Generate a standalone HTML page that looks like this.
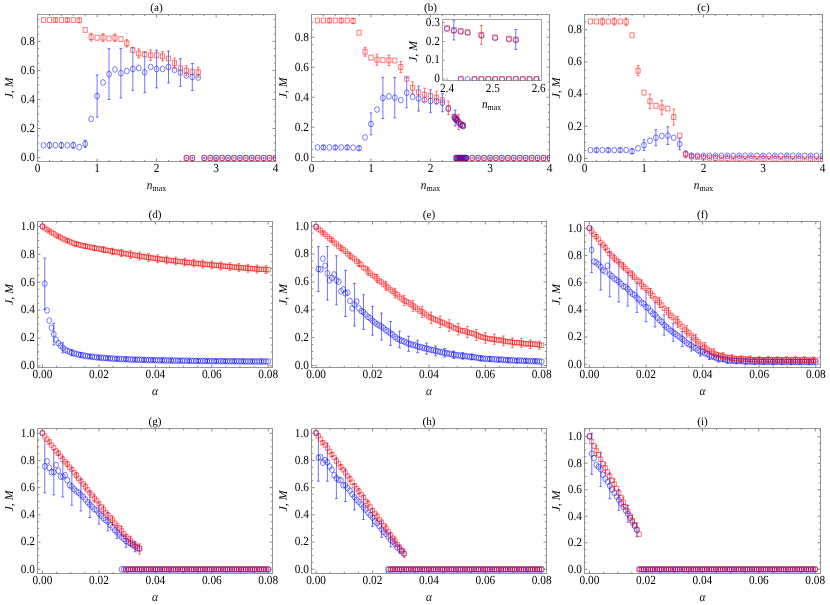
<!DOCTYPE html>
<html><head><meta charset="utf-8"><title>J, M plots</title>
<style>
html,body{margin:0;padding:0;background:#fff;}
svg{display:block;will-change:transform;}
svg text{font-family:"Liberation Serif",serif;fill:#000;text-rendering:geometricPrecision;}
</style></head><body>
<svg width="830" height="605" viewBox="0 0 830 605">
<rect width="830" height="605" fill="#fff"/>
<clipPath id="c1"><rect x="37.5" y="14.5" width="238" height="147"/></clipPath>
<rect x="37.5" y="14.5" width="238" height="147" fill="none" stroke="#949494" stroke-width="1"/>
<path d="M49.5 161.5v-1.7M49.5 14.5v1.7M61.4 161.5v-1.7M61.4 14.5v1.7M73.3 161.5v-1.7M73.3 14.5v1.7M85.2 161.5v-1.7M85.2 14.5v1.7M109 161.5v-1.7M109 14.5v1.7M120.9 161.5v-1.7M120.9 14.5v1.7M132.8 161.5v-1.7M132.8 14.5v1.7M144.7 161.5v-1.7M144.7 14.5v1.7M168.5 161.5v-1.7M168.5 14.5v1.7M180.4 161.5v-1.7M180.4 14.5v1.7M192.3 161.5v-1.7M192.3 14.5v1.7M204.2 161.5v-1.7M204.2 14.5v1.7M228 161.5v-1.7M228 14.5v1.7M239.9 161.5v-1.7M239.9 14.5v1.7M251.8 161.5v-1.7M251.8 14.5v1.7M263.7 161.5v-1.7M263.7 14.5v1.7M37.6 161.5v-2.9M37.6 14.5v2.9M97.1 161.5v-2.9M97.1 14.5v2.9M156.6 161.5v-2.9M156.6 14.5v2.9M216.1 161.5v-2.9M216.1 14.5v2.9M275.6 161.5v-2.9M275.6 14.5v2.9" stroke="#888888" stroke-width="1" fill="none"/>
<text transform="translate(37.6 172.2) scale(0.92 1)" text-anchor="middle" font-size="12.3">0</text>
<text transform="translate(97.1 172.2) scale(0.92 1)" text-anchor="middle" font-size="12.3">1</text>
<text transform="translate(156.6 172.2) scale(0.92 1)" text-anchor="middle" font-size="12.3">2</text>
<text transform="translate(216.1 172.2) scale(0.92 1)" text-anchor="middle" font-size="12.3">3</text>
<text transform="translate(275.6 172.2) scale(0.92 1)" text-anchor="middle" font-size="12.3">4</text>
<path d="M37.5 150.34h1.7M275.5 150.34h-1.7M37.5 143.07h1.7M275.5 143.07h-1.7M37.5 135.81h1.7M275.5 135.81h-1.7M37.5 121.29h1.7M275.5 121.29h-1.7M37.5 114.03h1.7M275.5 114.03h-1.7M37.5 106.76h1.7M275.5 106.76h-1.7M37.5 92.24h1.7M275.5 92.24h-1.7M37.5 84.97h1.7M275.5 84.97h-1.7M37.5 77.71h1.7M275.5 77.71h-1.7M37.5 63.19h1.7M275.5 63.19h-1.7M37.5 55.92h1.7M275.5 55.92h-1.7M37.5 48.66h1.7M275.5 48.66h-1.7M37.5 34.14h1.7M275.5 34.14h-1.7M37.5 26.88h1.7M275.5 26.88h-1.7M37.5 19.61h1.7M275.5 19.61h-1.7M37.5 157.6h2.9M275.5 157.6h-2.9M37.5 128.55h2.9M275.5 128.55h-2.9M37.5 99.5h2.9M275.5 99.5h-2.9M37.5 70.45h2.9M275.5 70.45h-2.9M37.5 41.4h2.9M275.5 41.4h-2.9" stroke="#888888" stroke-width="1" fill="none"/>
<text transform="translate(35 160.9) scale(0.92 1)" text-anchor="end" font-size="12.3">0.0</text>
<text transform="translate(35 131.85) scale(0.92 1)" text-anchor="end" font-size="12.3">0.2</text>
<text transform="translate(35 102.8) scale(0.92 1)" text-anchor="end" font-size="12.3">0.4</text>
<text transform="translate(35 73.75) scale(0.92 1)" text-anchor="end" font-size="12.3">0.6</text>
<text transform="translate(35 44.7) scale(0.92 1)" text-anchor="end" font-size="12.3">0.8</text>
<text transform="translate(156.5 11.3) scale(1 1)" text-anchor="middle" font-size="11.2">(a)</text>
<text transform="translate(156.5 188.7) scale(0.92 1)" text-anchor="middle" font-size="12.3"><tspan font-style="italic">n</tspan><tspan font-size="8.7" dy="2">max</tspan></text>
<text transform="translate(13.2 88) scale(1 1) rotate(-90)" text-anchor="middle" font-size="11.8" font-style="italic">J, M</text>
<path clip-path="url(#c1)" d="M49.5 142.35V148.16M48.1 142.35h2.8M48.1 148.16h2.8M61.4 142.35V148.16M60 142.35h2.8M60 148.16h2.8M73.3 142.35V148.16M71.9 142.35h2.8M71.9 148.16h2.8M85.2 140.17V147.43M83.8 140.17h2.8M83.8 147.43h2.8M97.1 74.95V117.08M95.7 74.95h2.8M95.7 117.08h2.8M109 48.66V99.5M107.6 48.66h2.8M107.6 99.5h2.8M120.9 48.52V97.9M119.5 48.52h2.8M119.5 97.9h2.8M132.8 47.65V90.35M131.4 47.65h2.8M131.4 90.35h2.8M144.7 52V92.67M143.3 52h2.8M143.3 92.67h2.8M156.6 50.11V87.88M155.2 50.11h2.8M155.2 87.88h2.8M168.5 50.99V82.94M167.1 50.99h2.8M167.1 82.94h2.8M180.4 58.68V86.28M179 58.68h2.8M179 86.28h2.8M192.3 63.48V90.49M190.9 63.48h2.8M190.9 90.49h2.8M192.3 157.45V158.62M191.55 157.45h1.5M191.55 158.62h1.5M204.2 157.45V158.62M203.45 157.45h1.5M203.45 158.62h1.5M216.1 157.45V158.62M215.35 157.45h1.5M215.35 158.62h1.5M228 157.45V158.62M227.25 157.45h1.5M227.25 158.62h1.5M239.9 157.45V158.62M239.15 157.45h1.5M239.15 158.62h1.5M251.8 157.45V158.62M251.05 157.45h1.5M251.05 158.62h1.5M263.7 157.45V158.62M262.95 157.45h1.5M262.95 158.62h1.5M275.6 157.45V158.62M274.85 157.45h1.5M274.85 158.62h1.5" stroke="#0000ff" stroke-width="0.55" fill="none"/>
<path clip-path="url(#c1)" d="M55.45 18.31V21.79M54.05 18.31h2.8M54.05 21.79h2.8M67.35 18.31V21.79M65.95 18.31h2.8M65.95 21.79h2.8M79.25 18.31V22.37M77.85 18.31h2.8M77.85 22.37h2.8M91.15 33.12V40.96M89.75 33.12h2.8M89.75 40.96h2.8M103.05 33.7V41.55M101.65 33.7h2.8M101.65 41.55h2.8M114.95 33.85V41.69M113.55 33.85h2.8M113.55 41.69h2.8M126.85 39.66V46.92M125.45 39.66h2.8M125.45 46.92h2.8M138.75 48.95V57.96M137.35 48.95h2.8M137.35 57.96h2.8M150.65 49.97V60.43M149.25 49.97h2.8M149.25 60.43h2.8M162.55 51.71V61.01M161.15 51.71h2.8M161.15 61.01h2.8M174.45 58.1V68.27M173.05 58.1h2.8M173.05 68.27h2.8M186.35 65.66V75.82M184.95 65.66h2.8M184.95 75.82h2.8M198.25 67.11V77.28M196.85 67.11h2.8M196.85 77.28h2.8M186.35 157.45V158.62M185.6 157.45h1.5M185.6 158.62h1.5M210.15 157.45V158.62M209.4 157.45h1.5M209.4 158.62h1.5M222.05 157.45V158.62M221.3 157.45h1.5M221.3 158.62h1.5M233.95 157.45V158.62M233.2 157.45h1.5M233.2 158.62h1.5M245.85 157.45V158.62M245.1 157.45h1.5M245.1 158.62h1.5M257.75 157.45V158.62M257 157.45h1.5M257 158.62h1.5M269.65 157.45V158.62M268.9 157.45h1.5M268.9 158.62h1.5" stroke="#ff0000" stroke-width="0.55" fill="none"/>
<path clip-path="url(#c1)" d="M41.15 145.25a2.4 2.85 0 1 0 4.8 0a2.4 2.85 0 1 0 -4.8 0zM47.1 145.25a2.4 2.85 0 1 0 4.8 0a2.4 2.85 0 1 0 -4.8 0zM53.05 145.25a2.4 2.85 0 1 0 4.8 0a2.4 2.85 0 1 0 -4.8 0zM59 145.25a2.4 2.85 0 1 0 4.8 0a2.4 2.85 0 1 0 -4.8 0zM64.95 145.25a2.4 2.85 0 1 0 4.8 0a2.4 2.85 0 1 0 -4.8 0zM70.9 145.25a2.4 2.85 0 1 0 4.8 0a2.4 2.85 0 1 0 -4.8 0zM76.85 147.14a2.4 2.85 0 1 0 4.8 0a2.4 2.85 0 1 0 -4.8 0zM82.8 143.8a2.4 2.85 0 1 0 4.8 0a2.4 2.85 0 1 0 -4.8 0zM88.75 118.82a2.4 2.85 0 1 0 4.8 0a2.4 2.85 0 1 0 -4.8 0zM94.7 96.01a2.4 2.85 0 1 0 4.8 0a2.4 2.85 0 1 0 -4.8 0zM100.65 82.51a2.4 2.85 0 1 0 4.8 0a2.4 2.85 0 1 0 -4.8 0zM106.6 74.08a2.4 2.85 0 1 0 4.8 0a2.4 2.85 0 1 0 -4.8 0zM112.55 69.43a2.4 2.85 0 1 0 4.8 0a2.4 2.85 0 1 0 -4.8 0zM118.5 73.21a2.4 2.85 0 1 0 4.8 0a2.4 2.85 0 1 0 -4.8 0zM124.45 71.03a2.4 2.85 0 1 0 4.8 0a2.4 2.85 0 1 0 -4.8 0zM130.4 69a2.4 2.85 0 1 0 4.8 0a2.4 2.85 0 1 0 -4.8 0zM136.35 68.13a2.4 2.85 0 1 0 4.8 0a2.4 2.85 0 1 0 -4.8 0zM142.3 72.34a2.4 2.85 0 1 0 4.8 0a2.4 2.85 0 1 0 -4.8 0zM148.25 66.96a2.4 2.85 0 1 0 4.8 0a2.4 2.85 0 1 0 -4.8 0zM154.2 69a2.4 2.85 0 1 0 4.8 0a2.4 2.85 0 1 0 -4.8 0zM160.15 69a2.4 2.85 0 1 0 4.8 0a2.4 2.85 0 1 0 -4.8 0zM166.1 66.96a2.4 2.85 0 1 0 4.8 0a2.4 2.85 0 1 0 -4.8 0zM172.05 69.87a2.4 2.85 0 1 0 4.8 0a2.4 2.85 0 1 0 -4.8 0zM178 72.48a2.4 2.85 0 1 0 4.8 0a2.4 2.85 0 1 0 -4.8 0zM183.95 75.53a2.4 2.85 0 1 0 4.8 0a2.4 2.85 0 1 0 -4.8 0zM189.9 76.99a2.4 2.85 0 1 0 4.8 0a2.4 2.85 0 1 0 -4.8 0zM195.85 77.57a2.4 2.85 0 1 0 4.8 0a2.4 2.85 0 1 0 -4.8 0zM183.95 158.04a2.4 2.85 0 1 0 4.8 0a2.4 2.85 0 1 0 -4.8 0zM189.9 158.04a2.4 2.85 0 1 0 4.8 0a2.4 2.85 0 1 0 -4.8 0zM201.8 158.04a2.4 2.85 0 1 0 4.8 0a2.4 2.85 0 1 0 -4.8 0zM207.75 158.04a2.4 2.85 0 1 0 4.8 0a2.4 2.85 0 1 0 -4.8 0zM213.7 158.04a2.4 2.85 0 1 0 4.8 0a2.4 2.85 0 1 0 -4.8 0zM219.65 158.04a2.4 2.85 0 1 0 4.8 0a2.4 2.85 0 1 0 -4.8 0zM225.6 158.04a2.4 2.85 0 1 0 4.8 0a2.4 2.85 0 1 0 -4.8 0zM231.55 158.04a2.4 2.85 0 1 0 4.8 0a2.4 2.85 0 1 0 -4.8 0zM237.5 158.04a2.4 2.85 0 1 0 4.8 0a2.4 2.85 0 1 0 -4.8 0zM243.45 158.04a2.4 2.85 0 1 0 4.8 0a2.4 2.85 0 1 0 -4.8 0zM249.4 158.04a2.4 2.85 0 1 0 4.8 0a2.4 2.85 0 1 0 -4.8 0zM255.35 158.04a2.4 2.85 0 1 0 4.8 0a2.4 2.85 0 1 0 -4.8 0zM261.3 158.04a2.4 2.85 0 1 0 4.8 0a2.4 2.85 0 1 0 -4.8 0zM267.25 158.04a2.4 2.85 0 1 0 4.8 0a2.4 2.85 0 1 0 -4.8 0zM273.2 158.04a2.4 2.85 0 1 0 4.8 0a2.4 2.85 0 1 0 -4.8 0z" stroke="#0000ff" stroke-width="0.52" fill="none"/>
<path clip-path="url(#c1)" d="M41.45 17.6h4.2v4.9h-4.2zM47.4 17.6h4.2v4.9h-4.2zM53.35 17.6h4.2v4.9h-4.2zM59.3 17.6h4.2v4.9h-4.2zM65.25 17.6h4.2v4.9h-4.2zM71.2 17.6h4.2v4.9h-4.2zM77.15 17.89h4.2v4.9h-4.2zM83.1 27.48h4.2v4.9h-4.2zM89.05 34.59h4.2v4.9h-4.2zM95 35.32h4.2v4.9h-4.2zM100.95 35.17h4.2v4.9h-4.2zM106.9 36.05h4.2v4.9h-4.2zM112.85 35.32h4.2v4.9h-4.2zM118.8 36.63h4.2v4.9h-4.2zM124.75 40.84h4.2v4.9h-4.2zM130.7 47.66h4.2v4.9h-4.2zM136.65 51.01h4.2v4.9h-4.2zM142.6 51.88h4.2v4.9h-4.2zM148.55 52.75h4.2v4.9h-4.2zM154.5 52.75h4.2v4.9h-4.2zM160.45 53.91h4.2v4.9h-4.2zM166.4 56.09h4.2v4.9h-4.2zM172.35 60.74h4.2v4.9h-4.2zM178.3 65.82h4.2v4.9h-4.2zM184.25 68.29h4.2v4.9h-4.2zM190.2 69.45h4.2v4.9h-4.2zM196.15 69.74h4.2v4.9h-4.2zM184.25 155.59h4.2v4.9h-4.2zM190.2 155.59h4.2v4.9h-4.2zM202.1 155.59h4.2v4.9h-4.2zM208.05 155.59h4.2v4.9h-4.2zM214 155.59h4.2v4.9h-4.2zM219.95 155.59h4.2v4.9h-4.2zM225.9 155.59h4.2v4.9h-4.2zM231.85 155.59h4.2v4.9h-4.2zM237.8 155.59h4.2v4.9h-4.2zM243.75 155.59h4.2v4.9h-4.2zM249.7 155.59h4.2v4.9h-4.2zM255.65 155.59h4.2v4.9h-4.2zM261.6 155.59h4.2v4.9h-4.2zM267.55 155.59h4.2v4.9h-4.2zM273.5 155.59h4.2v4.9h-4.2z" stroke="#ff0000" stroke-width="0.52" fill="none"/>
<clipPath id="c2"><rect x="311.5" y="14.5" width="238" height="147"/></clipPath>
<rect x="311.5" y="14.5" width="238" height="147" fill="none" stroke="#949494" stroke-width="1"/>
<path d="M323.4 161.5v-1.7M323.4 14.5v1.7M335.3 161.5v-1.7M335.3 14.5v1.7M347.2 161.5v-1.7M347.2 14.5v1.7M359.1 161.5v-1.7M359.1 14.5v1.7M382.9 161.5v-1.7M382.9 14.5v1.7M394.8 161.5v-1.7M394.8 14.5v1.7M406.7 161.5v-1.7M406.7 14.5v1.7M418.6 161.5v-1.7M418.6 14.5v1.7M442.4 161.5v-1.7M442.4 14.5v1.7M454.3 161.5v-1.7M454.3 14.5v1.7M466.2 161.5v-1.7M466.2 14.5v1.7M478.1 161.5v-1.7M478.1 14.5v1.7M501.9 161.5v-1.7M501.9 14.5v1.7M513.8 161.5v-1.7M513.8 14.5v1.7M525.7 161.5v-1.7M525.7 14.5v1.7M537.6 161.5v-1.7M537.6 14.5v1.7M311.5 161.5v-2.9M311.5 14.5v2.9M371 161.5v-2.9M371 14.5v2.9M430.5 161.5v-2.9M430.5 14.5v2.9M490 161.5v-2.9M490 14.5v2.9M549.5 161.5v-2.9M549.5 14.5v2.9" stroke="#888888" stroke-width="1" fill="none"/>
<text transform="translate(311.5 172.2) scale(0.92 1)" text-anchor="middle" font-size="12.3">0</text>
<text transform="translate(371 172.2) scale(0.92 1)" text-anchor="middle" font-size="12.3">1</text>
<text transform="translate(430.5 172.2) scale(0.92 1)" text-anchor="middle" font-size="12.3">2</text>
<text transform="translate(490 172.2) scale(0.92 1)" text-anchor="middle" font-size="12.3">3</text>
<text transform="translate(549.5 172.2) scale(0.92 1)" text-anchor="middle" font-size="12.3">4</text>
<path d="M311.5 149.7h1.7M549.5 149.7h-1.7M311.5 142.2h1.7M549.5 142.2h-1.7M311.5 134.7h1.7M549.5 134.7h-1.7M311.5 119.7h1.7M549.5 119.7h-1.7M311.5 112.2h1.7M549.5 112.2h-1.7M311.5 104.7h1.7M549.5 104.7h-1.7M311.5 89.7h1.7M549.5 89.7h-1.7M311.5 82.2h1.7M549.5 82.2h-1.7M311.5 74.7h1.7M549.5 74.7h-1.7M311.5 59.7h1.7M549.5 59.7h-1.7M311.5 52.2h1.7M549.5 52.2h-1.7M311.5 44.7h1.7M549.5 44.7h-1.7M311.5 29.7h1.7M549.5 29.7h-1.7M311.5 22.2h1.7M549.5 22.2h-1.7M311.5 157.2h2.9M549.5 157.2h-2.9M311.5 127.2h2.9M549.5 127.2h-2.9M311.5 97.2h2.9M549.5 97.2h-2.9M311.5 67.2h2.9M549.5 67.2h-2.9M311.5 37.2h2.9M549.5 37.2h-2.9" stroke="#888888" stroke-width="1" fill="none"/>
<text transform="translate(309 160.5) scale(0.92 1)" text-anchor="end" font-size="12.3">0.0</text>
<text transform="translate(309 130.5) scale(0.92 1)" text-anchor="end" font-size="12.3">0.2</text>
<text transform="translate(309 100.5) scale(0.92 1)" text-anchor="end" font-size="12.3">0.4</text>
<text transform="translate(309 70.5) scale(0.92 1)" text-anchor="end" font-size="12.3">0.6</text>
<text transform="translate(309 40.5) scale(0.92 1)" text-anchor="end" font-size="12.3">0.8</text>
<text transform="translate(430.5 11.3) scale(1 1)" text-anchor="middle" font-size="11.2">(b)</text>
<text transform="translate(430.5 188.7) scale(0.92 1)" text-anchor="middle" font-size="12.3"><tspan font-style="italic">n</tspan><tspan font-size="8.7" dy="2">max</tspan></text>
<text transform="translate(287 88) scale(1 1) rotate(-90)" text-anchor="middle" font-size="11.8" font-style="italic">J, M</text>
<path clip-path="url(#c2)" d="M323.4 145.65V149.25M322 145.65h2.8M322 149.25h2.8M335.3 145.65V149.25M333.9 145.65h2.8M333.9 149.25h2.8M347.2 145.65V149.25M345.8 145.65h2.8M345.8 149.25h2.8M359.1 146.1V150.3M357.7 146.1h2.8M357.7 150.3h2.8M371 112.95V134.85M369.6 112.95h2.8M369.6 134.85h2.8M382.9 77.4V118.5M381.5 77.4h2.8M381.5 118.5h2.8M394.8 77.4V117.9M393.4 77.4h2.8M393.4 117.9h2.8M406.7 77.7V107.7M405.3 77.7h2.8M405.3 107.7h2.8M418.6 86.1V111M417.2 86.1h2.8M417.2 111h2.8M430.5 89.85V112.35M429.1 89.85h2.8M429.1 112.35h2.8M442.4 93.75V111.75M441 93.75h2.8M441 111.75h2.8M455.19 110.1V126M453.79 110.1h2.8M453.79 126h2.8M478.1 157.42V158.62M477.35 157.42h1.5M477.35 158.62h1.5M490 157.42V158.62M489.25 157.42h1.5M489.25 158.62h1.5M501.9 157.42V158.62M501.15 157.42h1.5M501.15 158.62h1.5M513.8 157.42V158.62M513.05 157.42h1.5M513.05 158.62h1.5M525.7 157.42V158.62M524.95 157.42h1.5M524.95 158.62h1.5M537.6 157.42V158.62M536.85 157.42h1.5M536.85 158.62h1.5M549.5 157.42V158.62M548.75 157.42h1.5M548.75 158.62h1.5" stroke="#0000ff" stroke-width="0.55" fill="none"/>
<path clip-path="url(#c2)" d="M329.35 18.45V22.65M327.95 18.45h2.8M327.95 22.65h2.8M341.25 18.45V22.65M339.85 18.45h2.8M339.85 22.65h2.8M353.15 18.45V23.25M351.75 18.45h2.8M351.75 23.25h2.8M365.05 47.25V56.25M363.65 47.25h2.8M363.65 56.25h2.8M376.95 54.15V65.25M375.55 54.15h2.8M375.55 65.25h2.8M388.85 55.05V65.55M387.45 55.05h2.8M387.45 65.55h2.8M400.75 61.5V72.6M399.35 61.5h2.8M399.35 72.6h2.8M412.65 81.9V93.9M411.25 81.9h2.8M411.25 93.9h2.8M424.55 88.2V101.4M423.15 88.2h2.8M423.15 101.4h2.8M436.45 91.2V104.1M435.05 91.2h2.8M435.05 104.1h2.8M448.35 101.1V114.6M446.95 101.1h2.8M446.95 114.6h2.8M458.76 114.45V129.45M457.36 114.45h2.8M457.36 129.45h2.8M472.15 157.42V158.62M471.4 157.42h1.5M471.4 158.62h1.5M484.05 157.42V158.62M483.3 157.42h1.5M483.3 158.62h1.5M495.95 157.42V158.62M495.2 157.42h1.5M495.2 158.62h1.5M507.85 157.42V158.62M507.1 157.42h1.5M507.1 158.62h1.5M519.75 157.42V158.62M519 157.42h1.5M519 158.62h1.5M531.65 157.42V158.62M530.9 157.42h1.5M530.9 158.62h1.5M543.55 157.42V158.62M542.8 157.42h1.5M542.8 158.62h1.5" stroke="#ff0000" stroke-width="0.55" fill="none"/>
<path clip-path="url(#c2)" d="M315.05 147.45a2.4 2.85 0 1 0 4.8 0a2.4 2.85 0 1 0 -4.8 0zM321 147.45a2.4 2.85 0 1 0 4.8 0a2.4 2.85 0 1 0 -4.8 0zM326.95 147.45a2.4 2.85 0 1 0 4.8 0a2.4 2.85 0 1 0 -4.8 0zM332.9 147.45a2.4 2.85 0 1 0 4.8 0a2.4 2.85 0 1 0 -4.8 0zM338.85 147.45a2.4 2.85 0 1 0 4.8 0a2.4 2.85 0 1 0 -4.8 0zM344.8 147.45a2.4 2.85 0 1 0 4.8 0a2.4 2.85 0 1 0 -4.8 0zM350.75 147.6a2.4 2.85 0 1 0 4.8 0a2.4 2.85 0 1 0 -4.8 0zM356.7 148.2a2.4 2.85 0 1 0 4.8 0a2.4 2.85 0 1 0 -4.8 0zM362.65 137.4a2.4 2.85 0 1 0 4.8 0a2.4 2.85 0 1 0 -4.8 0zM368.6 123.9a2.4 2.85 0 1 0 4.8 0a2.4 2.85 0 1 0 -4.8 0zM374.55 109.5a2.4 2.85 0 1 0 4.8 0a2.4 2.85 0 1 0 -4.8 0zM380.5 97.95a2.4 2.85 0 1 0 4.8 0a2.4 2.85 0 1 0 -4.8 0zM386.45 96.3a2.4 2.85 0 1 0 4.8 0a2.4 2.85 0 1 0 -4.8 0zM392.4 97.65a2.4 2.85 0 1 0 4.8 0a2.4 2.85 0 1 0 -4.8 0zM398.35 100.2a2.4 2.85 0 1 0 4.8 0a2.4 2.85 0 1 0 -4.8 0zM404.3 92.7a2.4 2.85 0 1 0 4.8 0a2.4 2.85 0 1 0 -4.8 0zM410.25 96.9a2.4 2.85 0 1 0 4.8 0a2.4 2.85 0 1 0 -4.8 0zM416.2 98.55a2.4 2.85 0 1 0 4.8 0a2.4 2.85 0 1 0 -4.8 0zM422.15 100.2a2.4 2.85 0 1 0 4.8 0a2.4 2.85 0 1 0 -4.8 0zM428.1 101.1a2.4 2.85 0 1 0 4.8 0a2.4 2.85 0 1 0 -4.8 0zM434.05 101.1a2.4 2.85 0 1 0 4.8 0a2.4 2.85 0 1 0 -4.8 0zM440 102.75a2.4 2.85 0 1 0 4.8 0a2.4 2.85 0 1 0 -4.8 0zM445.95 108.9a2.4 2.85 0 1 0 4.8 0a2.4 2.85 0 1 0 -4.8 0zM469.75 158.02a2.4 2.85 0 1 0 4.8 0a2.4 2.85 0 1 0 -4.8 0zM475.7 158.02a2.4 2.85 0 1 0 4.8 0a2.4 2.85 0 1 0 -4.8 0zM481.65 158.02a2.4 2.85 0 1 0 4.8 0a2.4 2.85 0 1 0 -4.8 0zM487.6 158.02a2.4 2.85 0 1 0 4.8 0a2.4 2.85 0 1 0 -4.8 0zM493.55 158.02a2.4 2.85 0 1 0 4.8 0a2.4 2.85 0 1 0 -4.8 0zM499.5 158.02a2.4 2.85 0 1 0 4.8 0a2.4 2.85 0 1 0 -4.8 0zM505.45 158.02a2.4 2.85 0 1 0 4.8 0a2.4 2.85 0 1 0 -4.8 0zM511.4 158.02a2.4 2.85 0 1 0 4.8 0a2.4 2.85 0 1 0 -4.8 0zM517.35 158.02a2.4 2.85 0 1 0 4.8 0a2.4 2.85 0 1 0 -4.8 0zM523.3 158.02a2.4 2.85 0 1 0 4.8 0a2.4 2.85 0 1 0 -4.8 0zM529.25 158.02a2.4 2.85 0 1 0 4.8 0a2.4 2.85 0 1 0 -4.8 0zM535.2 158.02a2.4 2.85 0 1 0 4.8 0a2.4 2.85 0 1 0 -4.8 0zM541.15 158.02a2.4 2.85 0 1 0 4.8 0a2.4 2.85 0 1 0 -4.8 0zM547.1 158.02a2.4 2.85 0 1 0 4.8 0a2.4 2.85 0 1 0 -4.8 0z" stroke="#0000ff" stroke-width="0.52" fill="none"/>
<path clip-path="url(#c2)" d="M315.35 18.1h4.2v4.9h-4.2zM321.3 18.1h4.2v4.9h-4.2zM327.25 18.1h4.2v4.9h-4.2zM333.2 18.1h4.2v4.9h-4.2zM339.15 18.1h4.2v4.9h-4.2zM345.1 18.1h4.2v4.9h-4.2zM351.05 18.4h4.2v4.9h-4.2zM357 30.25h4.2v4.9h-4.2zM362.95 49.3h4.2v4.9h-4.2zM368.9 55.15h4.2v4.9h-4.2zM374.85 57.25h4.2v4.9h-4.2zM380.8 57.7h4.2v4.9h-4.2zM386.75 57.85h4.2v4.9h-4.2zM392.7 58.15h4.2v4.9h-4.2zM398.65 64.6h4.2v4.9h-4.2zM404.6 76.3h4.2v4.9h-4.2zM410.55 85.45h4.2v4.9h-4.2zM416.5 89.8h4.2v4.9h-4.2zM422.45 92.35h4.2v4.9h-4.2zM428.4 93.55h4.2v4.9h-4.2zM434.35 95.2h4.2v4.9h-4.2zM440.3 97.75h4.2v4.9h-4.2zM446.25 105.4h4.2v4.9h-4.2zM470.05 155.57h4.2v4.9h-4.2zM476 155.57h4.2v4.9h-4.2zM481.95 155.57h4.2v4.9h-4.2zM487.9 155.57h4.2v4.9h-4.2zM493.85 155.57h4.2v4.9h-4.2zM499.8 155.57h4.2v4.9h-4.2zM505.75 155.57h4.2v4.9h-4.2zM511.7 155.57h4.2v4.9h-4.2zM517.65 155.57h4.2v4.9h-4.2zM523.6 155.57h4.2v4.9h-4.2zM529.55 155.57h4.2v4.9h-4.2zM535.5 155.57h4.2v4.9h-4.2zM541.45 155.57h4.2v4.9h-4.2zM547.4 155.57h4.2v4.9h-4.2z" stroke="#ff0000" stroke-width="0.52" fill="none"/>
<path clip-path="url(#c2)" d="M452.2 114.1h4.2v4.9h-4.2z" stroke="#ff0000" stroke-width="0.52" fill="none"/>
<path clip-path="url(#c2)" d="M451.9 117.15a2.4 2.85 0 1 0 4.8 0a2.4 2.85 0 1 0 -4.8 0z" stroke="#0000ff" stroke-width="0.52" fill="none"/>
<path clip-path="url(#c2)" d="M453.09 115.6h4.2v4.9h-4.2z" stroke="#ff0000" stroke-width="0.52" fill="none"/>
<path clip-path="url(#c2)" d="M452.79 118.65a2.4 2.85 0 1 0 4.8 0a2.4 2.85 0 1 0 -4.8 0z" stroke="#0000ff" stroke-width="0.52" fill="none"/>
<path clip-path="url(#c2)" d="M453.98 116.35h4.2v4.9h-4.2z" stroke="#ff0000" stroke-width="0.52" fill="none"/>
<path clip-path="url(#c2)" d="M453.69 119.4a2.4 2.85 0 1 0 4.8 0a2.4 2.85 0 1 0 -4.8 0z" stroke="#0000ff" stroke-width="0.52" fill="none"/>
<path clip-path="url(#c2)" d="M454.88 117.25h4.2v4.9h-4.2z" stroke="#ff0000" stroke-width="0.52" fill="none"/>
<path clip-path="url(#c2)" d="M454.58 120.3a2.4 2.85 0 1 0 4.8 0a2.4 2.85 0 1 0 -4.8 0z" stroke="#0000ff" stroke-width="0.52" fill="none"/>
<path clip-path="url(#c2)" d="M456.66 119.5h4.2v4.9h-4.2z" stroke="#ff0000" stroke-width="0.52" fill="none"/>
<path clip-path="url(#c2)" d="M456.36 122.55a2.4 2.85 0 1 0 4.8 0a2.4 2.85 0 1 0 -4.8 0z" stroke="#0000ff" stroke-width="0.52" fill="none"/>
<path clip-path="url(#c2)" d="M458.45 121.45h4.2v4.9h-4.2z" stroke="#ff0000" stroke-width="0.52" fill="none"/>
<path clip-path="url(#c2)" d="M458.15 124.5a2.4 2.85 0 1 0 4.8 0a2.4 2.85 0 1 0 -4.8 0z" stroke="#0000ff" stroke-width="0.52" fill="none"/>
<path clip-path="url(#c2)" d="M460.23 122.5h4.2v4.9h-4.2z" stroke="#ff0000" stroke-width="0.52" fill="none"/>
<path clip-path="url(#c2)" d="M459.93 125.55a2.4 2.85 0 1 0 4.8 0a2.4 2.85 0 1 0 -4.8 0z" stroke="#0000ff" stroke-width="0.52" fill="none"/>
<path clip-path="url(#c2)" d="M461.12 123.1h4.2v4.9h-4.2z" stroke="#ff0000" stroke-width="0.52" fill="none"/>
<path clip-path="url(#c2)" d="M460.83 126.15a2.4 2.85 0 1 0 4.8 0a2.4 2.85 0 1 0 -4.8 0z" stroke="#0000ff" stroke-width="0.52" fill="none"/>
<path clip-path="url(#c2)" d="M453.98 155.57h4.2v4.9h-4.2z" stroke="#ff0000" stroke-width="0.52" fill="none"/>
<path clip-path="url(#c2)" d="M453.69 158.02a2.4 2.85 0 1 0 4.8 0a2.4 2.85 0 1 0 -4.8 0z" stroke="#0000ff" stroke-width="0.52" fill="none"/>
<path clip-path="url(#c2)" d="M454.88 155.57h4.2v4.9h-4.2z" stroke="#ff0000" stroke-width="0.52" fill="none"/>
<path clip-path="url(#c2)" d="M454.58 158.02a2.4 2.85 0 1 0 4.8 0a2.4 2.85 0 1 0 -4.8 0z" stroke="#0000ff" stroke-width="0.52" fill="none"/>
<path clip-path="url(#c2)" d="M455.77 155.57h4.2v4.9h-4.2z" stroke="#ff0000" stroke-width="0.52" fill="none"/>
<path clip-path="url(#c2)" d="M455.47 158.02a2.4 2.85 0 1 0 4.8 0a2.4 2.85 0 1 0 -4.8 0z" stroke="#0000ff" stroke-width="0.52" fill="none"/>
<path clip-path="url(#c2)" d="M456.66 155.57h4.2v4.9h-4.2z" stroke="#ff0000" stroke-width="0.52" fill="none"/>
<path clip-path="url(#c2)" d="M456.36 158.02a2.4 2.85 0 1 0 4.8 0a2.4 2.85 0 1 0 -4.8 0z" stroke="#0000ff" stroke-width="0.52" fill="none"/>
<path clip-path="url(#c2)" d="M457.55 155.57h4.2v4.9h-4.2z" stroke="#ff0000" stroke-width="0.52" fill="none"/>
<path clip-path="url(#c2)" d="M457.25 158.02a2.4 2.85 0 1 0 4.8 0a2.4 2.85 0 1 0 -4.8 0z" stroke="#0000ff" stroke-width="0.52" fill="none"/>
<path clip-path="url(#c2)" d="M458.15 155.57h4.2v4.9h-4.2z" stroke="#ff0000" stroke-width="0.52" fill="none"/>
<path clip-path="url(#c2)" d="M457.85 158.02a2.4 2.85 0 1 0 4.8 0a2.4 2.85 0 1 0 -4.8 0z" stroke="#0000ff" stroke-width="0.52" fill="none"/>
<path clip-path="url(#c2)" d="M458.45 155.57h4.2v4.9h-4.2z" stroke="#ff0000" stroke-width="0.52" fill="none"/>
<path clip-path="url(#c2)" d="M458.15 158.02a2.4 2.85 0 1 0 4.8 0a2.4 2.85 0 1 0 -4.8 0z" stroke="#0000ff" stroke-width="0.52" fill="none"/>
<path clip-path="url(#c2)" d="M459.34 155.57h4.2v4.9h-4.2z" stroke="#ff0000" stroke-width="0.52" fill="none"/>
<path clip-path="url(#c2)" d="M459.04 158.02a2.4 2.85 0 1 0 4.8 0a2.4 2.85 0 1 0 -4.8 0z" stroke="#0000ff" stroke-width="0.52" fill="none"/>
<path clip-path="url(#c2)" d="M460.23 155.57h4.2v4.9h-4.2z" stroke="#ff0000" stroke-width="0.52" fill="none"/>
<path clip-path="url(#c2)" d="M459.93 158.02a2.4 2.85 0 1 0 4.8 0a2.4 2.85 0 1 0 -4.8 0z" stroke="#0000ff" stroke-width="0.52" fill="none"/>
<path clip-path="url(#c2)" d="M461.12 155.57h4.2v4.9h-4.2z" stroke="#ff0000" stroke-width="0.52" fill="none"/>
<path clip-path="url(#c2)" d="M460.83 158.02a2.4 2.85 0 1 0 4.8 0a2.4 2.85 0 1 0 -4.8 0z" stroke="#0000ff" stroke-width="0.52" fill="none"/>
<path clip-path="url(#c2)" d="M462.02 155.57h4.2v4.9h-4.2z" stroke="#ff0000" stroke-width="0.52" fill="none"/>
<path clip-path="url(#c2)" d="M461.72 158.02a2.4 2.85 0 1 0 4.8 0a2.4 2.85 0 1 0 -4.8 0z" stroke="#0000ff" stroke-width="0.52" fill="none"/>
<path clip-path="url(#c2)" d="M462.91 155.57h4.2v4.9h-4.2z" stroke="#ff0000" stroke-width="0.52" fill="none"/>
<path clip-path="url(#c2)" d="M462.61 158.02a2.4 2.85 0 1 0 4.8 0a2.4 2.85 0 1 0 -4.8 0z" stroke="#0000ff" stroke-width="0.52" fill="none"/>
<path clip-path="url(#c2)" d="M463.8 155.57h4.2v4.9h-4.2z" stroke="#ff0000" stroke-width="0.52" fill="none"/>
<path clip-path="url(#c2)" d="M463.5 158.02a2.4 2.85 0 1 0 4.8 0a2.4 2.85 0 1 0 -4.8 0z" stroke="#0000ff" stroke-width="0.52" fill="none"/>
<path clip-path="url(#c2)" d="M464.1 155.57h4.2v4.9h-4.2z" stroke="#ff0000" stroke-width="0.52" fill="none"/>
<path clip-path="url(#c2)" d="M463.8 158.02a2.4 2.85 0 1 0 4.8 0a2.4 2.85 0 1 0 -4.8 0z" stroke="#0000ff" stroke-width="0.52" fill="none"/>
<clipPath id="c3"><rect x="442.5" y="19.5" width="99" height="61"/></clipPath>
<rect x="442.5" y="19.5" width="99" height="61" fill="#fff" stroke="#a2a2a2" stroke-width="1"/>
<path d="M469.93 80.5v-1.6M515.77 80.5v-1.6M447 80.5v-2.6M492.85 80.5v-2.6M538.7 80.5v-2.6" stroke="#a2a2a2" stroke-width="1" fill="none"/>
<path d="M442.5 69.7h1.6M442.5 50.9h1.6M442.5 32.1h1.6M442.5 79.1h2.6M442.5 60.3h2.6M442.5 41.5h2.6M442.5 22.7h2.6" stroke="#a2a2a2" stroke-width="1" fill="none"/>
<text transform="translate(439.9 82.2) scale(0.92 1)" text-anchor="end" font-size="12.3">0</text>
<text transform="translate(439.9 63.4) scale(0.92 1)" text-anchor="end" font-size="12.3">0.1</text>
<text transform="translate(439.9 44.6) scale(0.92 1)" text-anchor="end" font-size="12.3">0.2</text>
<text transform="translate(439.9 25.8) scale(0.92 1)" text-anchor="end" font-size="12.3">0.3</text>
<text transform="translate(447 92.1) scale(0.92 1)" text-anchor="middle" font-size="12.3">2.4</text>
<text transform="translate(492.85 92.1) scale(0.92 1)" text-anchor="middle" font-size="12.3">2.5</text>
<text transform="translate(538.7 92.1) scale(0.92 1)" text-anchor="middle" font-size="12.3">2.6</text>
<text transform="translate(491.6 108.4) scale(0.92 1)" text-anchor="middle" font-size="12.3"><tspan font-style="italic">n</tspan><tspan font-size="8.7" dy="2">max</tspan></text>
<text transform="translate(417.4 51.5) scale(1 1) rotate(-90)" text-anchor="middle" font-size="11.8" font-style="italic">J, M</text>
<path clip-path="url(#c3)" d="M453.88 20.07V40M452.48 20.07h2.8M452.48 40h2.8M515.77 29.47V49.4M514.38 29.47h2.8M514.38 49.4h2.8" stroke="#0000ff" stroke-width="0.55" fill="none"/>
<path clip-path="url(#c3)" d="M481.39 25.52V44.32M479.99 25.52h2.8M479.99 44.32h2.8" stroke="#ff0000" stroke-width="0.55" fill="none"/>
<path clip-path="url(#c3)" d="M444.5 28.9a2.5 2.6 0 1 0 5 0a2.5 2.6 0 1 0 -5 0zM451.38 30.78a2.5 2.6 0 1 0 5 0a2.5 2.6 0 1 0 -5 0zM458.25 31.72a2.5 2.6 0 1 0 5 0a2.5 2.6 0 1 0 -5 0zM465.13 32.85a2.5 2.6 0 1 0 5 0a2.5 2.6 0 1 0 -5 0zM478.89 35.67a2.5 2.6 0 1 0 5 0a2.5 2.6 0 1 0 -5 0zM492.64 38.12a2.5 2.6 0 1 0 5 0a2.5 2.6 0 1 0 -5 0zM506.4 39.43a2.5 2.6 0 1 0 5 0a2.5 2.6 0 1 0 -5 0zM513.27 40.18a2.5 2.6 0 1 0 5 0a2.5 2.6 0 1 0 -5 0zM458.25 79.1a2.5 2.6 0 1 0 5 0a2.5 2.6 0 1 0 -5 0zM465.13 79.1a2.5 2.6 0 1 0 5 0a2.5 2.6 0 1 0 -5 0zM472.01 79.1a2.5 2.6 0 1 0 5 0a2.5 2.6 0 1 0 -5 0zM478.89 79.1a2.5 2.6 0 1 0 5 0a2.5 2.6 0 1 0 -5 0zM485.76 79.1a2.5 2.6 0 1 0 5 0a2.5 2.6 0 1 0 -5 0zM492.64 79.1a2.5 2.6 0 1 0 5 0a2.5 2.6 0 1 0 -5 0zM499.52 79.1a2.5 2.6 0 1 0 5 0a2.5 2.6 0 1 0 -5 0zM506.4 79.1a2.5 2.6 0 1 0 5 0a2.5 2.6 0 1 0 -5 0zM513.27 79.1a2.5 2.6 0 1 0 5 0a2.5 2.6 0 1 0 -5 0zM520.15 79.1a2.5 2.6 0 1 0 5 0a2.5 2.6 0 1 0 -5 0zM527.03 79.1a2.5 2.6 0 1 0 5 0a2.5 2.6 0 1 0 -5 0zM533.91 79.1a2.5 2.6 0 1 0 5 0a2.5 2.6 0 1 0 -5 0z" stroke="#0000ff" stroke-width="0.52" fill="none"/>
<path clip-path="url(#c3)" d="M444.55 25.7h4.9v4.9h-4.9zM451.43 27.58h4.9v4.9h-4.9zM458.3 28.52h4.9v4.9h-4.9zM465.18 29.65h4.9v4.9h-4.9zM478.94 32.47h4.9v4.9h-4.9zM492.69 34.91h4.9v4.9h-4.9zM506.45 36.23h4.9v4.9h-4.9zM513.32 36.98h4.9v4.9h-4.9zM458.3 76.65h4.9v4.9h-4.9zM472.06 76.65h4.9v4.9h-4.9zM478.94 76.65h4.9v4.9h-4.9zM485.81 76.65h4.9v4.9h-4.9zM492.69 76.65h4.9v4.9h-4.9zM499.57 76.65h4.9v4.9h-4.9zM506.45 76.65h4.9v4.9h-4.9zM513.32 76.65h4.9v4.9h-4.9zM520.2 76.65h4.9v4.9h-4.9zM527.08 76.65h4.9v4.9h-4.9zM533.96 76.65h4.9v4.9h-4.9z" stroke="#ff0000" stroke-width="0.52" fill="none"/>
<clipPath id="c4"><rect x="584.5" y="14.5" width="238" height="147"/></clipPath>
<rect x="584.5" y="14.5" width="238" height="147" fill="none" stroke="#949494" stroke-width="1"/>
<path d="M596.4 161.5v-1.7M596.4 14.5v1.7M608.3 161.5v-1.7M608.3 14.5v1.7M620.2 161.5v-1.7M620.2 14.5v1.7M632.1 161.5v-1.7M632.1 14.5v1.7M655.9 161.5v-1.7M655.9 14.5v1.7M667.8 161.5v-1.7M667.8 14.5v1.7M679.7 161.5v-1.7M679.7 14.5v1.7M691.6 161.5v-1.7M691.6 14.5v1.7M715.4 161.5v-1.7M715.4 14.5v1.7M727.3 161.5v-1.7M727.3 14.5v1.7M739.2 161.5v-1.7M739.2 14.5v1.7M751.1 161.5v-1.7M751.1 14.5v1.7M774.9 161.5v-1.7M774.9 14.5v1.7M786.8 161.5v-1.7M786.8 14.5v1.7M798.7 161.5v-1.7M798.7 14.5v1.7M810.6 161.5v-1.7M810.6 14.5v1.7M584.5 161.5v-2.9M584.5 14.5v2.9M644 161.5v-2.9M644 14.5v2.9M703.5 161.5v-2.9M703.5 14.5v2.9M763 161.5v-2.9M763 14.5v2.9M822.5 161.5v-2.9M822.5 14.5v2.9" stroke="#888888" stroke-width="1" fill="none"/>
<text transform="translate(584.5 172.2) scale(0.92 1)" text-anchor="middle" font-size="12.3">0</text>
<text transform="translate(644 172.2) scale(0.92 1)" text-anchor="middle" font-size="12.3">1</text>
<text transform="translate(703.5 172.2) scale(0.92 1)" text-anchor="middle" font-size="12.3">2</text>
<text transform="translate(763 172.2) scale(0.92 1)" text-anchor="middle" font-size="12.3">3</text>
<text transform="translate(822.5 172.2) scale(0.92 1)" text-anchor="middle" font-size="12.3">4</text>
<path d="M584.5 150.45h1.7M822.5 150.45h-1.7M584.5 142.4h1.7M822.5 142.4h-1.7M584.5 134.35h1.7M822.5 134.35h-1.7M584.5 118.25h1.7M822.5 118.25h-1.7M584.5 110.2h1.7M822.5 110.2h-1.7M584.5 102.15h1.7M822.5 102.15h-1.7M584.5 86.05h1.7M822.5 86.05h-1.7M584.5 78h1.7M822.5 78h-1.7M584.5 69.95h1.7M822.5 69.95h-1.7M584.5 53.85h1.7M822.5 53.85h-1.7M584.5 45.8h1.7M822.5 45.8h-1.7M584.5 37.75h1.7M822.5 37.75h-1.7M584.5 21.65h1.7M822.5 21.65h-1.7M584.5 158.5h2.9M822.5 158.5h-2.9M584.5 126.3h2.9M822.5 126.3h-2.9M584.5 94.1h2.9M822.5 94.1h-2.9M584.5 61.9h2.9M822.5 61.9h-2.9M584.5 29.7h2.9M822.5 29.7h-2.9" stroke="#888888" stroke-width="1" fill="none"/>
<text transform="translate(582 161.8) scale(0.92 1)" text-anchor="end" font-size="12.3">0.0</text>
<text transform="translate(582 129.6) scale(0.92 1)" text-anchor="end" font-size="12.3">0.2</text>
<text transform="translate(582 97.4) scale(0.92 1)" text-anchor="end" font-size="12.3">0.4</text>
<text transform="translate(582 65.2) scale(0.92 1)" text-anchor="end" font-size="12.3">0.6</text>
<text transform="translate(582 33) scale(0.92 1)" text-anchor="end" font-size="12.3">0.8</text>
<text transform="translate(703.5 11.3) scale(1 1)" text-anchor="middle" font-size="11.2">(c)</text>
<text transform="translate(703.5 188.7) scale(0.92 1)" text-anchor="middle" font-size="12.3"><tspan font-style="italic">n</tspan><tspan font-size="8.7" dy="2">max</tspan></text>
<text transform="translate(560.4 88) scale(1 1) rotate(-90)" text-anchor="middle" font-size="11.8" font-style="italic">J, M</text>
<path clip-path="url(#c4)" d="M596.4 148.2V152.06M595 148.2h2.8M595 152.06h2.8M608.3 148.2V152.06M606.9 148.2h2.8M606.9 152.06h2.8M620.2 148.2V152.06M618.8 148.2h2.8M618.8 152.06h2.8M632.1 149V153.51M630.7 149h2.8M630.7 153.51h2.8M644 139.66V150.61M642.6 139.66h2.8M642.6 150.61h2.8M655.9 129.68V145.78M654.5 129.68h2.8M654.5 145.78h2.8M667.8 126.78V144.49M666.4 126.78h2.8M666.4 144.49h2.8M679.7 138.21V149.81M678.3 138.21h2.8M678.3 149.81h2.8M691.6 153.99V157.21M690.2 153.99h2.8M690.2 157.21h2.8M703.5 154.8V156.73M702.75 154.8h1.5M702.75 156.73h1.5M715.4 154.8V156.73M714.65 154.8h1.5M714.65 156.73h1.5M727.3 154.8V156.73M726.55 154.8h1.5M726.55 156.73h1.5M739.2 154.8V156.73M738.45 154.8h1.5M738.45 156.73h1.5M751.1 154.8V156.73M750.35 154.8h1.5M750.35 156.73h1.5M763 154.8V156.73M762.25 154.8h1.5M762.25 156.73h1.5M774.9 154.8V156.73M774.15 154.8h1.5M774.15 156.73h1.5M786.8 154.8V156.73M786.05 154.8h1.5M786.05 156.73h1.5M798.7 154.8V156.73M797.95 154.8h1.5M797.95 156.73h1.5M810.6 154.8V156.73M809.85 154.8h1.5M809.85 156.73h1.5M822.5 154.8V156.73M821.75 154.8h1.5M821.75 156.73h1.5" stroke="#0000ff" stroke-width="0.55" fill="none"/>
<path clip-path="url(#c4)" d="M602.35 17.95V25.03M600.95 17.95h2.8M600.95 25.03h2.8M614.25 17.95V25.03M612.85 17.95h2.8M612.85 25.03h2.8M626.15 17.95V25.68M624.75 17.95h2.8M624.75 25.68h2.8M638.05 65.76V75.75M636.65 65.76h2.8M636.65 75.75h2.8M649.95 94.1V108.59M648.55 94.1h2.8M648.55 108.59h2.8M661.85 100.22V114.71M660.45 100.22h2.8M660.45 114.71h2.8M673.75 109.07V125.17M672.35 109.07h2.8M672.35 125.17h2.8M685.65 151.25V157.69M684.25 151.25h2.8M684.25 157.69h2.8M697.55 156.33V157.61M696.8 156.33h1.5M696.8 157.61h1.5M709.45 157.05V158.34M708.7 157.05h1.5M708.7 158.34h1.5M721.35 157.61V158.9M720.6 157.61h1.5M720.6 158.9h1.5M733.25 157.94V159.22M732.5 157.94h1.5M732.5 159.22h1.5M745.15 158.1V159.39M744.4 158.1h1.5M744.4 159.39h1.5M757.05 158.26V159.55M756.3 158.26h1.5M756.3 159.55h1.5M768.95 158.37V159.66M768.2 158.37h1.5M768.2 159.66h1.5M780.85 158.44V159.72M780.1 158.44h1.5M780.1 159.72h1.5M792.75 158.5V159.79M792 158.5h1.5M792 159.79h1.5M804.65 158.56V159.85M803.9 158.56h1.5M803.9 159.85h1.5M816.55 158.63V159.92M815.8 158.63h1.5M815.8 159.92h1.5" stroke="#ff0000" stroke-width="0.55" fill="none"/>
<path clip-path="url(#c4)" d="M588.05 150.13a2.4 2.85 0 1 0 4.8 0a2.4 2.85 0 1 0 -4.8 0zM594 150.13a2.4 2.85 0 1 0 4.8 0a2.4 2.85 0 1 0 -4.8 0zM599.95 150.13a2.4 2.85 0 1 0 4.8 0a2.4 2.85 0 1 0 -4.8 0zM605.9 150.13a2.4 2.85 0 1 0 4.8 0a2.4 2.85 0 1 0 -4.8 0zM611.85 150.13a2.4 2.85 0 1 0 4.8 0a2.4 2.85 0 1 0 -4.8 0zM617.8 150.13a2.4 2.85 0 1 0 4.8 0a2.4 2.85 0 1 0 -4.8 0zM623.75 150.13a2.4 2.85 0 1 0 4.8 0a2.4 2.85 0 1 0 -4.8 0zM629.7 151.25a2.4 2.85 0 1 0 4.8 0a2.4 2.85 0 1 0 -4.8 0zM635.65 148.36a2.4 2.85 0 1 0 4.8 0a2.4 2.85 0 1 0 -4.8 0zM641.6 145.14a2.4 2.85 0 1 0 4.8 0a2.4 2.85 0 1 0 -4.8 0zM647.55 140.79a2.4 2.85 0 1 0 4.8 0a2.4 2.85 0 1 0 -4.8 0zM653.5 137.73a2.4 2.85 0 1 0 4.8 0a2.4 2.85 0 1 0 -4.8 0zM659.45 135.96a2.4 2.85 0 1 0 4.8 0a2.4 2.85 0 1 0 -4.8 0zM665.4 135.64a2.4 2.85 0 1 0 4.8 0a2.4 2.85 0 1 0 -4.8 0zM671.35 137.73a2.4 2.85 0 1 0 4.8 0a2.4 2.85 0 1 0 -4.8 0zM677.3 144.01a2.4 2.85 0 1 0 4.8 0a2.4 2.85 0 1 0 -4.8 0zM683.25 153.51a2.4 2.85 0 1 0 4.8 0a2.4 2.85 0 1 0 -4.8 0zM689.2 155.6a2.4 2.85 0 1 0 4.8 0a2.4 2.85 0 1 0 -4.8 0zM695.15 155.76a2.4 2.85 0 1 0 4.8 0a2.4 2.85 0 1 0 -4.8 0zM701.1 155.76a2.4 2.85 0 1 0 4.8 0a2.4 2.85 0 1 0 -4.8 0zM707.05 155.76a2.4 2.85 0 1 0 4.8 0a2.4 2.85 0 1 0 -4.8 0zM713 155.76a2.4 2.85 0 1 0 4.8 0a2.4 2.85 0 1 0 -4.8 0zM718.95 155.76a2.4 2.85 0 1 0 4.8 0a2.4 2.85 0 1 0 -4.8 0zM724.9 155.76a2.4 2.85 0 1 0 4.8 0a2.4 2.85 0 1 0 -4.8 0zM730.85 155.76a2.4 2.85 0 1 0 4.8 0a2.4 2.85 0 1 0 -4.8 0zM736.8 155.76a2.4 2.85 0 1 0 4.8 0a2.4 2.85 0 1 0 -4.8 0zM742.75 155.76a2.4 2.85 0 1 0 4.8 0a2.4 2.85 0 1 0 -4.8 0zM748.7 155.76a2.4 2.85 0 1 0 4.8 0a2.4 2.85 0 1 0 -4.8 0zM754.65 155.76a2.4 2.85 0 1 0 4.8 0a2.4 2.85 0 1 0 -4.8 0zM760.6 155.76a2.4 2.85 0 1 0 4.8 0a2.4 2.85 0 1 0 -4.8 0zM766.55 155.76a2.4 2.85 0 1 0 4.8 0a2.4 2.85 0 1 0 -4.8 0zM772.5 155.76a2.4 2.85 0 1 0 4.8 0a2.4 2.85 0 1 0 -4.8 0zM778.45 155.76a2.4 2.85 0 1 0 4.8 0a2.4 2.85 0 1 0 -4.8 0zM784.4 155.76a2.4 2.85 0 1 0 4.8 0a2.4 2.85 0 1 0 -4.8 0zM790.35 155.76a2.4 2.85 0 1 0 4.8 0a2.4 2.85 0 1 0 -4.8 0zM796.3 155.76a2.4 2.85 0 1 0 4.8 0a2.4 2.85 0 1 0 -4.8 0zM802.25 155.76a2.4 2.85 0 1 0 4.8 0a2.4 2.85 0 1 0 -4.8 0zM808.2 155.76a2.4 2.85 0 1 0 4.8 0a2.4 2.85 0 1 0 -4.8 0zM814.15 155.76a2.4 2.85 0 1 0 4.8 0a2.4 2.85 0 1 0 -4.8 0zM820.1 155.76a2.4 2.85 0 1 0 4.8 0a2.4 2.85 0 1 0 -4.8 0z" stroke="#0000ff" stroke-width="0.52" fill="none"/>
<path clip-path="url(#c4)" d="M588.35 19.04h4.2v4.9h-4.2zM594.3 19.04h4.2v4.9h-4.2zM600.25 19.04h4.2v4.9h-4.2zM606.2 19.04h4.2v4.9h-4.2zM612.15 19.04h4.2v4.9h-4.2zM618.1 19.04h4.2v4.9h-4.2zM624.05 19.36h4.2v4.9h-4.2zM630 32.88h4.2v4.9h-4.2zM635.95 68.3h4.2v4.9h-4.2zM641.9 90.2h4.2v4.9h-4.2zM647.85 98.89h4.2v4.9h-4.2zM653.8 103.4h4.2v4.9h-4.2zM659.75 105.01h4.2v4.9h-4.2zM665.7 106.14h4.2v4.9h-4.2zM671.65 114.67h4.2v4.9h-4.2zM677.6 133.19h4.2v4.9h-4.2zM683.55 152.03h4.2v4.9h-4.2zM689.5 154.12h4.2v4.9h-4.2zM695.45 154.52h4.2v4.9h-4.2zM701.4 154.92h4.2v4.9h-4.2zM707.35 155.25h4.2v4.9h-4.2zM713.3 155.57h4.2v4.9h-4.2zM719.25 155.81h4.2v4.9h-4.2zM725.2 156.05h4.2v4.9h-4.2zM731.15 156.13h4.2v4.9h-4.2zM737.1 156.21h4.2v4.9h-4.2zM743.05 156.29h4.2v4.9h-4.2zM749 156.37h4.2v4.9h-4.2zM754.95 156.45h4.2v4.9h-4.2zM760.9 156.53h4.2v4.9h-4.2zM766.85 156.57h4.2v4.9h-4.2zM772.8 156.6h4.2v4.9h-4.2zM778.75 156.63h4.2v4.9h-4.2zM784.7 156.66h4.2v4.9h-4.2zM790.65 156.69h4.2v4.9h-4.2zM796.6 156.73h4.2v4.9h-4.2zM802.55 156.76h4.2v4.9h-4.2zM808.5 156.79h4.2v4.9h-4.2zM814.45 156.82h4.2v4.9h-4.2zM820.4 156.86h4.2v4.9h-4.2z" stroke="#ff0000" stroke-width="0.52" fill="none"/>
<clipPath id="c5"><rect x="37.5" y="221.5" width="235" height="146"/></clipPath>
<rect x="37.5" y="221.5" width="235" height="146" fill="none" stroke="#949494" stroke-width="1"/>
<path d="M56.61 367.5v-1.7M56.61 221.5v1.7M70.72 367.5v-1.7M70.72 221.5v1.7M84.83 367.5v-1.7M84.83 221.5v1.7M113.05 367.5v-1.7M113.05 221.5v1.7M127.16 367.5v-1.7M127.16 221.5v1.7M141.27 367.5v-1.7M141.27 221.5v1.7M169.49 367.5v-1.7M169.49 221.5v1.7M183.6 367.5v-1.7M183.6 221.5v1.7M197.71 367.5v-1.7M197.71 221.5v1.7M225.93 367.5v-1.7M225.93 221.5v1.7M240.04 367.5v-1.7M240.04 221.5v1.7M254.15 367.5v-1.7M254.15 221.5v1.7M42.5 367.5v-2.9M42.5 221.5v2.9M98.94 367.5v-2.9M98.94 221.5v2.9M155.38 367.5v-2.9M155.38 221.5v2.9M211.82 367.5v-2.9M211.82 221.5v2.9M268.26 367.5v-2.9M268.26 221.5v2.9" stroke="#888888" stroke-width="1" fill="none"/>
<text transform="translate(42.5 378.4) scale(0.92 1)" text-anchor="middle" font-size="12.3">0.00</text>
<text transform="translate(98.94 378.4) scale(0.92 1)" text-anchor="middle" font-size="12.3">0.02</text>
<text transform="translate(155.38 378.4) scale(0.92 1)" text-anchor="middle" font-size="12.3">0.04</text>
<text transform="translate(211.82 378.4) scale(0.92 1)" text-anchor="middle" font-size="12.3">0.06</text>
<text transform="translate(268.26 378.4) scale(0.92 1)" text-anchor="middle" font-size="12.3">0.08</text>
<path d="M37.5 358.93h1.7M272.5 358.93h-1.7M37.5 351.96h1.7M272.5 351.96h-1.7M37.5 344.99h1.7M272.5 344.99h-1.7M37.5 331.05h1.7M272.5 331.05h-1.7M37.5 324.08h1.7M272.5 324.08h-1.7M37.5 317.11h1.7M272.5 317.11h-1.7M37.5 303.17h1.7M272.5 303.17h-1.7M37.5 296.2h1.7M272.5 296.2h-1.7M37.5 289.23h1.7M272.5 289.23h-1.7M37.5 275.29h1.7M272.5 275.29h-1.7M37.5 268.32h1.7M272.5 268.32h-1.7M37.5 261.35h1.7M272.5 261.35h-1.7M37.5 247.41h1.7M272.5 247.41h-1.7M37.5 240.44h1.7M272.5 240.44h-1.7M37.5 233.47h1.7M272.5 233.47h-1.7M37.5 365.9h2.9M272.5 365.9h-2.9M37.5 338.02h2.9M272.5 338.02h-2.9M37.5 310.14h2.9M272.5 310.14h-2.9M37.5 282.26h2.9M272.5 282.26h-2.9M37.5 254.38h2.9M272.5 254.38h-2.9M37.5 226.5h2.9M272.5 226.5h-2.9" stroke="#888888" stroke-width="1" fill="none"/>
<text transform="translate(35 369.2) scale(0.92 1)" text-anchor="end" font-size="12.3">0.0</text>
<text transform="translate(35 341.32) scale(0.92 1)" text-anchor="end" font-size="12.3">0.2</text>
<text transform="translate(35 313.44) scale(0.92 1)" text-anchor="end" font-size="12.3">0.4</text>
<text transform="translate(35 285.56) scale(0.92 1)" text-anchor="end" font-size="12.3">0.6</text>
<text transform="translate(35 257.68) scale(0.92 1)" text-anchor="end" font-size="12.3">0.8</text>
<text transform="translate(35 229.8) scale(0.92 1)" text-anchor="end" font-size="12.3">1.0</text>
<text transform="translate(155 218) scale(1 1)" text-anchor="middle" font-size="11.2">(d)</text>
<text transform="translate(155 394.7) scale(0.92 1)" text-anchor="middle" font-size="12.4" font-style="italic">α</text>
<text transform="translate(13.2 294.5) scale(1 1) rotate(-90)" text-anchor="middle" font-size="11.8" font-style="italic">J, M</text>
<path clip-path="url(#c5)" d="M44.76 257.87V309.44M43.36 257.87h2.8M43.36 309.44h2.8M53.79 323.38V344.85M52.39 323.38h2.8M52.39 344.85h2.8M62.82 342.62V352.94M61.42 342.62h2.8M61.42 352.94h2.8M71.85 349.58V355.71M70.45 349.58h2.8M70.45 355.71h2.8M80.88 352.81V357.27M79.48 352.81h2.8M79.48 357.27h2.8M89.91 354.99V358.06M88.51 354.99h2.8M88.51 358.06h2.8M98.94 356V359.07M97.54 356h2.8M97.54 359.07h2.8M107.97 356.73V359.8M106.57 356.73h2.8M106.57 359.8h2.8M117 357.29V360.35M115.6 357.29h2.8M115.6 360.35h2.8M126.03 357.72V360.79M124.63 357.72h2.8M124.63 360.79h2.8M135.06 358.07V361.14M133.66 358.07h2.8M133.66 361.14h2.8M144.09 358.36V361.42M142.69 358.36h2.8M142.69 361.42h2.8M153.12 358.6V361.66M151.72 358.6h2.8M151.72 361.66h2.8M162.15 358.8V361.87M160.75 358.8h2.8M160.75 361.87h2.8M171.18 358.98V362.04M169.78 358.98h2.8M169.78 362.04h2.8M180.21 359.13V362.2M178.81 359.13h2.8M178.81 362.2h2.8M189.24 359.26V362.33M187.84 359.26h2.8M187.84 362.33h2.8M198.27 359.38V362.45M196.87 359.38h2.8M196.87 362.45h2.8M207.3 359.49V362.55M205.9 359.49h2.8M205.9 362.55h2.8M216.34 359.58V362.65M214.94 359.58h2.8M214.94 362.65h2.8M225.37 359.66V362.73M223.97 359.66h2.8M223.97 362.73h2.8M234.4 359.74V362.81M233 359.74h2.8M233 362.81h2.8M243.43 359.81V362.88M242.03 359.81h2.8M242.03 362.88h2.8M252.46 359.88V362.94M251.06 359.88h2.8M251.06 362.94h2.8M261.49 359.93V363M260.09 359.93h2.8M260.09 363h2.8" stroke="#0000ff" stroke-width="0.55" fill="none"/>
<path clip-path="url(#c5)" d="M49.27 229.94V231.94M47.87 229.94h2.8M47.87 231.94h2.8M58.3 235.04V237.49M56.9 235.04h2.8M56.9 237.49h2.8M67.33 239.22V242.19M65.93 239.22h2.8M65.93 242.19h2.8M76.36 242.14V245.86M74.96 242.14h2.8M74.96 245.86h2.8M85.39 244.01V248.47M83.99 244.01h2.8M83.99 248.47h2.8M94.42 245.41V250.62M93.02 245.41h2.8M93.02 250.62h2.8M103.46 246.73V252.61M102.06 246.73h2.8M102.06 252.61h2.8M112.49 248.11V254.58M111.09 248.11h2.8M111.09 254.58h2.8M121.52 249.47V256.53M120.12 249.47h2.8M120.12 256.53h2.8M130.55 250.75V258.4M129.15 250.75h2.8M129.15 258.4h2.8M139.58 252.16V259.97M138.18 252.16h2.8M138.18 259.97h2.8M148.61 253.55V261.36M147.21 253.55h2.8M147.21 261.36h2.8M157.64 254.85V262.66M156.24 254.85h2.8M156.24 262.66h2.8M166.67 256.05V263.85M165.27 256.05h2.8M165.27 263.85h2.8M175.7 257.15V264.96M174.3 257.15h2.8M174.3 264.96h2.8M184.73 258.2V266.01M183.33 258.2h2.8M183.33 266.01h2.8M193.76 259.19V267M192.36 259.19h2.8M192.36 267h2.8M202.79 260.13V267.94M201.39 260.13h2.8M201.39 267.94h2.8M211.82 261.04V268.84M210.42 261.04h2.8M210.42 268.84h2.8M220.85 261.91V269.72M219.45 261.91h2.8M219.45 269.72h2.8M229.88 262.76V270.57M228.48 262.76h2.8M228.48 270.57h2.8M238.91 263.58V271.39M237.51 263.58h2.8M237.51 271.39h2.8M247.94 264.38V272.18M246.54 264.38h2.8M246.54 272.18h2.8M256.97 265.13V272.94M255.57 265.13h2.8M255.57 272.94h2.8M266 265.69V273.5M264.6 265.69h2.8M264.6 273.5h2.8" stroke="#ff0000" stroke-width="0.55" fill="none"/>
<path clip-path="url(#c5)" d="M40.1 226.5a2.4 2.85 0 1 0 4.8 0a2.4 2.85 0 1 0 -4.8 0zM42.36 283.65a2.4 2.85 0 1 0 4.8 0a2.4 2.85 0 1 0 -4.8 0zM44.62 310.42a2.4 2.85 0 1 0 4.8 0a2.4 2.85 0 1 0 -4.8 0zM46.87 320.59a2.4 2.85 0 1 0 4.8 0a2.4 2.85 0 1 0 -4.8 0zM49.13 327.84a2.4 2.85 0 1 0 4.8 0a2.4 2.85 0 1 0 -4.8 0zM51.39 334.12a2.4 2.85 0 1 0 4.8 0a2.4 2.85 0 1 0 -4.8 0zM53.65 339.83a2.4 2.85 0 1 0 4.8 0a2.4 2.85 0 1 0 -4.8 0zM55.9 343.18a2.4 2.85 0 1 0 4.8 0a2.4 2.85 0 1 0 -4.8 0zM58.16 345.69a2.4 2.85 0 1 0 4.8 0a2.4 2.85 0 1 0 -4.8 0zM60.42 347.78a2.4 2.85 0 1 0 4.8 0a2.4 2.85 0 1 0 -4.8 0zM62.68 349.59a2.4 2.85 0 1 0 4.8 0a2.4 2.85 0 1 0 -4.8 0zM64.93 350.79a2.4 2.85 0 1 0 4.8 0a2.4 2.85 0 1 0 -4.8 0zM67.19 351.8a2.4 2.85 0 1 0 4.8 0a2.4 2.85 0 1 0 -4.8 0zM69.45 352.65a2.4 2.85 0 1 0 4.8 0a2.4 2.85 0 1 0 -4.8 0zM71.71 353.37a2.4 2.85 0 1 0 4.8 0a2.4 2.85 0 1 0 -4.8 0zM73.96 354a2.4 2.85 0 1 0 4.8 0a2.4 2.85 0 1 0 -4.8 0zM76.22 354.56a2.4 2.85 0 1 0 4.8 0a2.4 2.85 0 1 0 -4.8 0zM78.48 355.04a2.4 2.85 0 1 0 4.8 0a2.4 2.85 0 1 0 -4.8 0zM80.74 355.48a2.4 2.85 0 1 0 4.8 0a2.4 2.85 0 1 0 -4.8 0zM82.99 355.86a2.4 2.85 0 1 0 4.8 0a2.4 2.85 0 1 0 -4.8 0zM85.25 356.21a2.4 2.85 0 1 0 4.8 0a2.4 2.85 0 1 0 -4.8 0zM87.51 356.53a2.4 2.85 0 1 0 4.8 0a2.4 2.85 0 1 0 -4.8 0zM89.77 356.81a2.4 2.85 0 1 0 4.8 0a2.4 2.85 0 1 0 -4.8 0zM92.02 357.08a2.4 2.85 0 1 0 4.8 0a2.4 2.85 0 1 0 -4.8 0zM94.28 357.32a2.4 2.85 0 1 0 4.8 0a2.4 2.85 0 1 0 -4.8 0zM96.54 357.54a2.4 2.85 0 1 0 4.8 0a2.4 2.85 0 1 0 -4.8 0zM98.8 357.74a2.4 2.85 0 1 0 4.8 0a2.4 2.85 0 1 0 -4.8 0zM101.06 357.93a2.4 2.85 0 1 0 4.8 0a2.4 2.85 0 1 0 -4.8 0zM103.31 358.1a2.4 2.85 0 1 0 4.8 0a2.4 2.85 0 1 0 -4.8 0zM105.57 358.27a2.4 2.85 0 1 0 4.8 0a2.4 2.85 0 1 0 -4.8 0zM107.83 358.42a2.4 2.85 0 1 0 4.8 0a2.4 2.85 0 1 0 -4.8 0zM110.09 358.56a2.4 2.85 0 1 0 4.8 0a2.4 2.85 0 1 0 -4.8 0zM112.34 358.69a2.4 2.85 0 1 0 4.8 0a2.4 2.85 0 1 0 -4.8 0zM114.6 358.82a2.4 2.85 0 1 0 4.8 0a2.4 2.85 0 1 0 -4.8 0zM116.86 358.94a2.4 2.85 0 1 0 4.8 0a2.4 2.85 0 1 0 -4.8 0zM119.12 359.05a2.4 2.85 0 1 0 4.8 0a2.4 2.85 0 1 0 -4.8 0zM121.37 359.15a2.4 2.85 0 1 0 4.8 0a2.4 2.85 0 1 0 -4.8 0zM123.63 359.25a2.4 2.85 0 1 0 4.8 0a2.4 2.85 0 1 0 -4.8 0zM125.89 359.35a2.4 2.85 0 1 0 4.8 0a2.4 2.85 0 1 0 -4.8 0zM128.15 359.44a2.4 2.85 0 1 0 4.8 0a2.4 2.85 0 1 0 -4.8 0zM130.4 359.52a2.4 2.85 0 1 0 4.8 0a2.4 2.85 0 1 0 -4.8 0zM132.66 359.6a2.4 2.85 0 1 0 4.8 0a2.4 2.85 0 1 0 -4.8 0zM134.92 359.68a2.4 2.85 0 1 0 4.8 0a2.4 2.85 0 1 0 -4.8 0zM137.18 359.75a2.4 2.85 0 1 0 4.8 0a2.4 2.85 0 1 0 -4.8 0zM139.43 359.82a2.4 2.85 0 1 0 4.8 0a2.4 2.85 0 1 0 -4.8 0zM141.69 359.89a2.4 2.85 0 1 0 4.8 0a2.4 2.85 0 1 0 -4.8 0zM143.95 359.95a2.4 2.85 0 1 0 4.8 0a2.4 2.85 0 1 0 -4.8 0zM146.21 360.02a2.4 2.85 0 1 0 4.8 0a2.4 2.85 0 1 0 -4.8 0zM148.46 360.07a2.4 2.85 0 1 0 4.8 0a2.4 2.85 0 1 0 -4.8 0zM150.72 360.13a2.4 2.85 0 1 0 4.8 0a2.4 2.85 0 1 0 -4.8 0zM152.98 360.18a2.4 2.85 0 1 0 4.8 0a2.4 2.85 0 1 0 -4.8 0zM155.24 360.24a2.4 2.85 0 1 0 4.8 0a2.4 2.85 0 1 0 -4.8 0zM157.5 360.29a2.4 2.85 0 1 0 4.8 0a2.4 2.85 0 1 0 -4.8 0zM159.75 360.33a2.4 2.85 0 1 0 4.8 0a2.4 2.85 0 1 0 -4.8 0zM162.01 360.38a2.4 2.85 0 1 0 4.8 0a2.4 2.85 0 1 0 -4.8 0zM164.27 360.43a2.4 2.85 0 1 0 4.8 0a2.4 2.85 0 1 0 -4.8 0zM166.53 360.47a2.4 2.85 0 1 0 4.8 0a2.4 2.85 0 1 0 -4.8 0zM168.78 360.51a2.4 2.85 0 1 0 4.8 0a2.4 2.85 0 1 0 -4.8 0zM171.04 360.55a2.4 2.85 0 1 0 4.8 0a2.4 2.85 0 1 0 -4.8 0zM173.3 360.59a2.4 2.85 0 1 0 4.8 0a2.4 2.85 0 1 0 -4.8 0zM175.56 360.63a2.4 2.85 0 1 0 4.8 0a2.4 2.85 0 1 0 -4.8 0zM177.81 360.66a2.4 2.85 0 1 0 4.8 0a2.4 2.85 0 1 0 -4.8 0zM180.07 360.7a2.4 2.85 0 1 0 4.8 0a2.4 2.85 0 1 0 -4.8 0zM182.33 360.73a2.4 2.85 0 1 0 4.8 0a2.4 2.85 0 1 0 -4.8 0zM184.59 360.76a2.4 2.85 0 1 0 4.8 0a2.4 2.85 0 1 0 -4.8 0zM186.84 360.8a2.4 2.85 0 1 0 4.8 0a2.4 2.85 0 1 0 -4.8 0zM189.1 360.83a2.4 2.85 0 1 0 4.8 0a2.4 2.85 0 1 0 -4.8 0zM191.36 360.86a2.4 2.85 0 1 0 4.8 0a2.4 2.85 0 1 0 -4.8 0zM193.62 360.89a2.4 2.85 0 1 0 4.8 0a2.4 2.85 0 1 0 -4.8 0zM195.87 360.91a2.4 2.85 0 1 0 4.8 0a2.4 2.85 0 1 0 -4.8 0zM198.13 360.94a2.4 2.85 0 1 0 4.8 0a2.4 2.85 0 1 0 -4.8 0zM200.39 360.97a2.4 2.85 0 1 0 4.8 0a2.4 2.85 0 1 0 -4.8 0zM202.65 360.99a2.4 2.85 0 1 0 4.8 0a2.4 2.85 0 1 0 -4.8 0zM204.9 361.02a2.4 2.85 0 1 0 4.8 0a2.4 2.85 0 1 0 -4.8 0zM207.16 361.04a2.4 2.85 0 1 0 4.8 0a2.4 2.85 0 1 0 -4.8 0zM209.42 361.07a2.4 2.85 0 1 0 4.8 0a2.4 2.85 0 1 0 -4.8 0zM211.68 361.09a2.4 2.85 0 1 0 4.8 0a2.4 2.85 0 1 0 -4.8 0zM213.94 361.11a2.4 2.85 0 1 0 4.8 0a2.4 2.85 0 1 0 -4.8 0zM216.19 361.14a2.4 2.85 0 1 0 4.8 0a2.4 2.85 0 1 0 -4.8 0zM218.45 361.16a2.4 2.85 0 1 0 4.8 0a2.4 2.85 0 1 0 -4.8 0zM220.71 361.18a2.4 2.85 0 1 0 4.8 0a2.4 2.85 0 1 0 -4.8 0zM222.97 361.2a2.4 2.85 0 1 0 4.8 0a2.4 2.85 0 1 0 -4.8 0zM225.22 361.22a2.4 2.85 0 1 0 4.8 0a2.4 2.85 0 1 0 -4.8 0zM227.48 361.24a2.4 2.85 0 1 0 4.8 0a2.4 2.85 0 1 0 -4.8 0zM229.74 361.26a2.4 2.85 0 1 0 4.8 0a2.4 2.85 0 1 0 -4.8 0zM232 361.28a2.4 2.85 0 1 0 4.8 0a2.4 2.85 0 1 0 -4.8 0zM234.25 361.29a2.4 2.85 0 1 0 4.8 0a2.4 2.85 0 1 0 -4.8 0zM236.51 361.31a2.4 2.85 0 1 0 4.8 0a2.4 2.85 0 1 0 -4.8 0zM238.77 361.33a2.4 2.85 0 1 0 4.8 0a2.4 2.85 0 1 0 -4.8 0zM241.03 361.35a2.4 2.85 0 1 0 4.8 0a2.4 2.85 0 1 0 -4.8 0zM243.28 361.36a2.4 2.85 0 1 0 4.8 0a2.4 2.85 0 1 0 -4.8 0zM245.54 361.38a2.4 2.85 0 1 0 4.8 0a2.4 2.85 0 1 0 -4.8 0zM247.8 361.39a2.4 2.85 0 1 0 4.8 0a2.4 2.85 0 1 0 -4.8 0zM250.06 361.41a2.4 2.85 0 1 0 4.8 0a2.4 2.85 0 1 0 -4.8 0zM252.31 361.42a2.4 2.85 0 1 0 4.8 0a2.4 2.85 0 1 0 -4.8 0zM254.57 361.44a2.4 2.85 0 1 0 4.8 0a2.4 2.85 0 1 0 -4.8 0zM256.83 361.45a2.4 2.85 0 1 0 4.8 0a2.4 2.85 0 1 0 -4.8 0zM259.09 361.47a2.4 2.85 0 1 0 4.8 0a2.4 2.85 0 1 0 -4.8 0zM261.34 361.48a2.4 2.85 0 1 0 4.8 0a2.4 2.85 0 1 0 -4.8 0zM263.6 361.5a2.4 2.85 0 1 0 4.8 0a2.4 2.85 0 1 0 -4.8 0zM265.86 361.51a2.4 2.85 0 1 0 4.8 0a2.4 2.85 0 1 0 -4.8 0z" stroke="#0000ff" stroke-width="0.52" fill="none"/>
<path clip-path="url(#c5)" d="M40.4 224.3h4.2v4.4h-4.2zM42.66 225.83h4.2v4.4h-4.2zM44.92 227.29h4.2v4.4h-4.2zM47.17 228.74h4.2v4.4h-4.2zM49.43 230.16h4.2v4.4h-4.2zM51.69 231.54h4.2v4.4h-4.2zM53.95 232.86h4.2v4.4h-4.2zM56.2 234.06h4.2v4.4h-4.2zM58.46 235.28h4.2v4.4h-4.2zM60.72 236.42h4.2v4.4h-4.2zM62.98 237.51h4.2v4.4h-4.2zM65.23 238.5h4.2v4.4h-4.2zM67.49 239.45h4.2v4.4h-4.2zM69.75 240.31h4.2v4.4h-4.2zM72.01 241.09h4.2v4.4h-4.2zM74.26 241.8h4.2v4.4h-4.2zM76.52 242.45h4.2v4.4h-4.2zM78.78 243.02h4.2v4.4h-4.2zM81.04 243.56h4.2v4.4h-4.2zM83.29 244.04h4.2v4.4h-4.2zM85.55 244.5h4.2v4.4h-4.2zM87.81 244.95h4.2v4.4h-4.2zM90.07 245.39h4.2v4.4h-4.2zM92.32 245.82h4.2v4.4h-4.2zM94.58 246.23h4.2v4.4h-4.2zM96.84 246.64h4.2v4.4h-4.2zM99.1 247.06h4.2v4.4h-4.2zM101.36 247.47h4.2v4.4h-4.2zM103.61 247.89h4.2v4.4h-4.2zM105.87 248.3h4.2v4.4h-4.2zM108.13 248.72h4.2v4.4h-4.2zM110.39 249.15h4.2v4.4h-4.2zM112.64 249.57h4.2v4.4h-4.2zM114.9 249.99h4.2v4.4h-4.2zM117.16 250.4h4.2v4.4h-4.2zM119.42 250.8h4.2v4.4h-4.2zM121.67 251.2h4.2v4.4h-4.2zM123.93 251.6h4.2v4.4h-4.2zM126.19 251.99h4.2v4.4h-4.2zM128.45 252.38h4.2v4.4h-4.2zM130.7 252.76h4.2v4.4h-4.2zM132.96 253.13h4.2v4.4h-4.2zM135.22 253.5h4.2v4.4h-4.2zM137.48 253.86h4.2v4.4h-4.2zM139.73 254.22h4.2v4.4h-4.2zM141.99 254.57h4.2v4.4h-4.2zM144.25 254.92h4.2v4.4h-4.2zM146.51 255.26h4.2v4.4h-4.2zM148.76 255.59h4.2v4.4h-4.2zM151.02 255.92h4.2v4.4h-4.2zM153.28 256.24h4.2v4.4h-4.2zM155.54 256.55h4.2v4.4h-4.2zM157.8 256.86h4.2v4.4h-4.2zM160.05 257.16h4.2v4.4h-4.2zM162.31 257.46h4.2v4.4h-4.2zM164.57 257.75h4.2v4.4h-4.2zM166.83 258.03h4.2v4.4h-4.2zM169.08 258.31h4.2v4.4h-4.2zM171.34 258.59h4.2v4.4h-4.2zM173.6 258.86h4.2v4.4h-4.2zM175.86 259.12h4.2v4.4h-4.2zM178.11 259.39h4.2v4.4h-4.2zM180.37 259.65h4.2v4.4h-4.2zM182.63 259.9h4.2v4.4h-4.2zM184.89 260.16h4.2v4.4h-4.2zM187.14 260.41h4.2v4.4h-4.2zM189.4 260.65h4.2v4.4h-4.2zM191.66 260.9h4.2v4.4h-4.2zM193.92 261.13h4.2v4.4h-4.2zM196.17 261.37h4.2v4.4h-4.2zM198.43 261.6h4.2v4.4h-4.2zM200.69 261.83h4.2v4.4h-4.2zM202.95 262.06h4.2v4.4h-4.2zM205.2 262.29h4.2v4.4h-4.2zM207.46 262.52h4.2v4.4h-4.2zM209.72 262.74h4.2v4.4h-4.2zM211.98 262.96h4.2v4.4h-4.2zM214.24 263.18h4.2v4.4h-4.2zM216.49 263.4h4.2v4.4h-4.2zM218.75 263.62h4.2v4.4h-4.2zM221.01 263.83h4.2v4.4h-4.2zM223.27 264.05h4.2v4.4h-4.2zM225.52 264.26h4.2v4.4h-4.2zM227.78 264.47h4.2v4.4h-4.2zM230.04 264.67h4.2v4.4h-4.2zM232.3 264.88h4.2v4.4h-4.2zM234.55 265.08h4.2v4.4h-4.2zM236.81 265.29h4.2v4.4h-4.2zM239.07 265.49h4.2v4.4h-4.2zM241.33 265.69h4.2v4.4h-4.2zM243.58 265.88h4.2v4.4h-4.2zM245.84 266.08h4.2v4.4h-4.2zM248.1 266.27h4.2v4.4h-4.2zM250.36 266.47h4.2v4.4h-4.2zM252.61 266.66h4.2v4.4h-4.2zM254.87 266.83h4.2v4.4h-4.2zM257.13 266.99h4.2v4.4h-4.2zM259.39 267.14h4.2v4.4h-4.2zM261.64 267.27h4.2v4.4h-4.2zM263.9 267.39h4.2v4.4h-4.2zM266.16 267.49h4.2v4.4h-4.2z" stroke="#ff0000" stroke-width="0.52" fill="none"/>
<clipPath id="c6"><rect x="311.5" y="221.5" width="235" height="146"/></clipPath>
<rect x="311.5" y="221.5" width="235" height="146" fill="none" stroke="#949494" stroke-width="1"/>
<path d="M330.2 367.5v-1.7M330.2 221.5v1.7M344.3 367.5v-1.7M344.3 221.5v1.7M358.4 367.5v-1.7M358.4 221.5v1.7M386.6 367.5v-1.7M386.6 221.5v1.7M400.7 367.5v-1.7M400.7 221.5v1.7M414.8 367.5v-1.7M414.8 221.5v1.7M443 367.5v-1.7M443 221.5v1.7M457.1 367.5v-1.7M457.1 221.5v1.7M471.2 367.5v-1.7M471.2 221.5v1.7M499.4 367.5v-1.7M499.4 221.5v1.7M513.5 367.5v-1.7M513.5 221.5v1.7M527.6 367.5v-1.7M527.6 221.5v1.7M316.1 367.5v-2.9M316.1 221.5v2.9M372.5 367.5v-2.9M372.5 221.5v2.9M428.9 367.5v-2.9M428.9 221.5v2.9M485.3 367.5v-2.9M485.3 221.5v2.9M541.7 367.5v-2.9M541.7 221.5v2.9" stroke="#888888" stroke-width="1" fill="none"/>
<text transform="translate(316.1 378.4) scale(0.92 1)" text-anchor="middle" font-size="12.3">0.00</text>
<text transform="translate(372.5 378.4) scale(0.92 1)" text-anchor="middle" font-size="12.3">0.02</text>
<text transform="translate(428.9 378.4) scale(0.92 1)" text-anchor="middle" font-size="12.3">0.04</text>
<text transform="translate(485.3 378.4) scale(0.92 1)" text-anchor="middle" font-size="12.3">0.06</text>
<text transform="translate(541.7 378.4) scale(0.92 1)" text-anchor="middle" font-size="12.3">0.08</text>
<path d="M311.5 358.54h1.7M546.5 358.54h-1.7M311.5 351.57h1.7M546.5 351.57h-1.7M311.5 344.61h1.7M546.5 344.61h-1.7M311.5 330.68h1.7M546.5 330.68h-1.7M311.5 323.71h1.7M546.5 323.71h-1.7M311.5 316.75h1.7M546.5 316.75h-1.7M311.5 302.81h1.7M546.5 302.81h-1.7M311.5 295.85h1.7M546.5 295.85h-1.7M311.5 288.88h1.7M546.5 288.88h-1.7M311.5 274.95h1.7M546.5 274.95h-1.7M311.5 267.99h1.7M546.5 267.99h-1.7M311.5 261.02h1.7M546.5 261.02h-1.7M311.5 247.09h1.7M546.5 247.09h-1.7M311.5 240.13h1.7M546.5 240.13h-1.7M311.5 233.16h1.7M546.5 233.16h-1.7M311.5 365.5h2.9M546.5 365.5h-2.9M311.5 337.64h2.9M546.5 337.64h-2.9M311.5 309.78h2.9M546.5 309.78h-2.9M311.5 281.92h2.9M546.5 281.92h-2.9M311.5 254.06h2.9M546.5 254.06h-2.9M311.5 226.2h2.9M546.5 226.2h-2.9" stroke="#888888" stroke-width="1" fill="none"/>
<text transform="translate(309 368.8) scale(0.92 1)" text-anchor="end" font-size="12.3">0.0</text>
<text transform="translate(309 340.94) scale(0.92 1)" text-anchor="end" font-size="12.3">0.2</text>
<text transform="translate(309 313.08) scale(0.92 1)" text-anchor="end" font-size="12.3">0.4</text>
<text transform="translate(309 285.22) scale(0.92 1)" text-anchor="end" font-size="12.3">0.6</text>
<text transform="translate(309 257.36) scale(0.92 1)" text-anchor="end" font-size="12.3">0.8</text>
<text transform="translate(309 229.5) scale(0.92 1)" text-anchor="end" font-size="12.3">1.0</text>
<text transform="translate(429 218) scale(1 1)" text-anchor="middle" font-size="11.2">(e)</text>
<text transform="translate(429 394.7) scale(0.92 1)" text-anchor="middle" font-size="12.4" font-style="italic">α</text>
<text transform="translate(287 294.5) scale(1 1) rotate(-90)" text-anchor="middle" font-size="11.8" font-style="italic">J, M</text>
<path clip-path="url(#c6)" d="M318.36 246.6V291.43M316.96 246.6h2.8M316.96 291.43h2.8M327.38 246.46V300.09M325.98 246.46h2.8M325.98 300.09h2.8M336.4 255.81V304.76M335 255.81h2.8M335 304.76h2.8M345.43 270.25V316.45M344.03 270.25h2.8M344.03 316.45h2.8M354.45 283.31V325.94M353.05 283.31h2.8M353.05 325.94h2.8M363.48 294.73V329.38M362.08 294.73h2.8M362.08 329.38h2.8M372.5 306.32V335.2M371.1 306.32h2.8M371.1 335.2h2.8M381.52 313.09V340.04M380.12 313.09h2.8M380.12 340.04h2.8M390.55 321.46V345.38M389.15 321.46h2.8M389.15 345.38h2.8M399.57 331.29V347.79M398.17 331.29h2.8M398.17 347.79h2.8M408.6 336.18V351.3M407.2 336.18h2.8M407.2 351.3h2.8M417.62 340.32V352.7M416.22 340.32h2.8M416.22 352.7h2.8M426.64 343.07V354.07M425.24 343.07h2.8M425.24 354.07h2.8M435.67 346.01V355.81M434.27 346.01h2.8M434.27 355.81h2.8M444.69 348.48V357.08M443.29 348.48h2.8M443.29 357.08h2.8M453.72 350.94V358.42M452.32 350.94h2.8M452.32 358.42h2.8M462.74 352.59V359.19M461.34 352.59h2.8M461.34 359.19h2.8M471.76 354.06V359.78M470.36 354.06h2.8M470.36 359.78h2.8M480.79 355.84V360.68M479.39 355.84h2.8M479.39 360.68h2.8M489.81 356.86V361.13M488.41 356.86h2.8M488.41 361.13h2.8M498.84 357.64V361.65M497.44 357.64h2.8M497.44 361.65h2.8M507.86 358.3V362.04M506.46 358.3h2.8M506.46 362.04h2.8M516.88 359V362.48M515.48 359h2.8M515.48 362.48h2.8M525.91 359.24V362.45M524.51 359.24h2.8M524.51 362.45h2.8M534.93 359.71V362.66M533.53 359.71h2.8M533.53 362.66h2.8" stroke="#0000ff" stroke-width="0.55" fill="none"/>
<path clip-path="url(#c6)" d="M322.87 231.43V234.29M321.47 231.43h2.8M321.47 234.29h2.8M331.89 238.24V241.98M330.49 238.24h2.8M330.49 241.98h2.8M340.92 245.74V250.4M339.52 245.74h2.8M339.52 250.4h2.8M349.94 252.84V258.52M348.54 252.84h2.8M348.54 258.52h2.8M358.96 259.97V266.68M357.56 259.97h2.8M357.56 266.68h2.8M367.99 267.46V275.19M366.59 267.46h2.8M366.59 275.19h2.8M377.01 274.3V282.82M375.61 274.3h2.8M375.61 282.82h2.8M386.04 281.45V290.52M384.64 281.45h2.8M384.64 290.52h2.8M395.06 288.29V297.92M393.66 288.29h2.8M393.66 297.92h2.8M404.08 295.41V305.58M402.68 295.41h2.8M402.68 305.58h2.8M413.11 300.63V311.35M411.71 300.63h2.8M411.71 311.35h2.8M422.13 306.3V317.45M420.73 306.3h2.8M420.73 317.45h2.8M431.16 312V323.45M429.76 312h2.8M429.76 323.45h2.8M440.18 315.93V327.68M438.78 315.93h2.8M438.78 327.68h2.8M449.2 319.76V331.39M447.8 319.76h2.8M447.8 331.39h2.8M458.23 323.56V334.93M456.83 323.56h2.8M456.83 334.93h2.8M467.25 326.56V337.67M465.85 326.56h2.8M465.85 337.67h2.8M476.28 329.61V340.46M474.88 329.61h2.8M474.88 340.46h2.8M485.3 332.6V343.19M483.9 332.6h2.8M483.9 343.19h2.8M494.32 334.08V344.25M492.92 334.08h2.8M492.92 344.25h2.8M503.35 335.91V345.66M501.95 335.91h2.8M501.95 345.66h2.8M512.37 337.98V347.31M510.97 337.98h2.8M510.97 347.31h2.8M521.4 338.41V347.33M520 338.41h2.8M520 347.33h2.8M530.42 339.9V348.39M529.02 339.9h2.8M529.02 348.39h2.8M539.44 341.03V349.11M538.04 341.03h2.8M538.04 349.11h2.8" stroke="#ff0000" stroke-width="0.55" fill="none"/>
<path clip-path="url(#c6)" d="M313.7 226.8a2.4 2.85 0 1 0 4.8 0a2.4 2.85 0 1 0 -4.8 0zM315.96 269.01a2.4 2.85 0 1 0 4.8 0a2.4 2.85 0 1 0 -4.8 0zM318.21 269.43a2.4 2.85 0 1 0 4.8 0a2.4 2.85 0 1 0 -4.8 0zM320.47 258.7a2.4 2.85 0 1 0 4.8 0a2.4 2.85 0 1 0 -4.8 0zM322.72 265.71a2.4 2.85 0 1 0 4.8 0a2.4 2.85 0 1 0 -4.8 0zM324.98 273.27a2.4 2.85 0 1 0 4.8 0a2.4 2.85 0 1 0 -4.8 0zM327.24 280.29a2.4 2.85 0 1 0 4.8 0a2.4 2.85 0 1 0 -4.8 0zM329.49 277.81a2.4 2.85 0 1 0 4.8 0a2.4 2.85 0 1 0 -4.8 0zM331.75 274.51a2.4 2.85 0 1 0 4.8 0a2.4 2.85 0 1 0 -4.8 0zM334 280.29a2.4 2.85 0 1 0 4.8 0a2.4 2.85 0 1 0 -4.8 0zM336.26 281.66a2.4 2.85 0 1 0 4.8 0a2.4 2.85 0 1 0 -4.8 0zM338.52 291.29a2.4 2.85 0 1 0 4.8 0a2.4 2.85 0 1 0 -4.8 0zM340.77 289.5a2.4 2.85 0 1 0 4.8 0a2.4 2.85 0 1 0 -4.8 0zM343.03 293.35a2.4 2.85 0 1 0 4.8 0a2.4 2.85 0 1 0 -4.8 0zM345.28 292.66a2.4 2.85 0 1 0 4.8 0a2.4 2.85 0 1 0 -4.8 0zM347.54 300.91a2.4 2.85 0 1 0 4.8 0a2.4 2.85 0 1 0 -4.8 0zM349.8 308.34a2.4 2.85 0 1 0 4.8 0a2.4 2.85 0 1 0 -4.8 0zM352.05 304.62a2.4 2.85 0 1 0 4.8 0a2.4 2.85 0 1 0 -4.8 0zM354.31 301.6a2.4 2.85 0 1 0 4.8 0a2.4 2.85 0 1 0 -4.8 0zM356.56 308.34a2.4 2.85 0 1 0 4.8 0a2.4 2.85 0 1 0 -4.8 0zM358.82 310.95a2.4 2.85 0 1 0 4.8 0a2.4 2.85 0 1 0 -4.8 0zM361.08 312.05a2.4 2.85 0 1 0 4.8 0a2.4 2.85 0 1 0 -4.8 0zM363.33 314.48a2.4 2.85 0 1 0 4.8 0a2.4 2.85 0 1 0 -4.8 0zM365.59 316.87a2.4 2.85 0 1 0 4.8 0a2.4 2.85 0 1 0 -4.8 0zM367.84 318.3a2.4 2.85 0 1 0 4.8 0a2.4 2.85 0 1 0 -4.8 0zM370.1 320.76a2.4 2.85 0 1 0 4.8 0a2.4 2.85 0 1 0 -4.8 0zM372.36 322.4a2.4 2.85 0 1 0 4.8 0a2.4 2.85 0 1 0 -4.8 0zM374.61 324.15a2.4 2.85 0 1 0 4.8 0a2.4 2.85 0 1 0 -4.8 0zM376.87 325.4a2.4 2.85 0 1 0 4.8 0a2.4 2.85 0 1 0 -4.8 0zM379.12 326.57a2.4 2.85 0 1 0 4.8 0a2.4 2.85 0 1 0 -4.8 0zM381.38 328.15a2.4 2.85 0 1 0 4.8 0a2.4 2.85 0 1 0 -4.8 0zM383.64 330.21a2.4 2.85 0 1 0 4.8 0a2.4 2.85 0 1 0 -4.8 0zM385.89 331.53a2.4 2.85 0 1 0 4.8 0a2.4 2.85 0 1 0 -4.8 0zM388.15 333.42a2.4 2.85 0 1 0 4.8 0a2.4 2.85 0 1 0 -4.8 0zM390.4 334.67a2.4 2.85 0 1 0 4.8 0a2.4 2.85 0 1 0 -4.8 0zM392.66 336.9a2.4 2.85 0 1 0 4.8 0a2.4 2.85 0 1 0 -4.8 0zM394.92 338.66a2.4 2.85 0 1 0 4.8 0a2.4 2.85 0 1 0 -4.8 0zM397.17 339.54a2.4 2.85 0 1 0 4.8 0a2.4 2.85 0 1 0 -4.8 0zM399.43 340.77a2.4 2.85 0 1 0 4.8 0a2.4 2.85 0 1 0 -4.8 0zM401.68 341.5a2.4 2.85 0 1 0 4.8 0a2.4 2.85 0 1 0 -4.8 0zM403.94 342.53a2.4 2.85 0 1 0 4.8 0a2.4 2.85 0 1 0 -4.8 0zM406.2 343.74a2.4 2.85 0 1 0 4.8 0a2.4 2.85 0 1 0 -4.8 0zM408.45 344.19a2.4 2.85 0 1 0 4.8 0a2.4 2.85 0 1 0 -4.8 0zM410.71 345.1a2.4 2.85 0 1 0 4.8 0a2.4 2.85 0 1 0 -4.8 0zM412.96 345.32a2.4 2.85 0 1 0 4.8 0a2.4 2.85 0 1 0 -4.8 0zM415.22 346.51a2.4 2.85 0 1 0 4.8 0a2.4 2.85 0 1 0 -4.8 0zM417.48 347.01a2.4 2.85 0 1 0 4.8 0a2.4 2.85 0 1 0 -4.8 0zM419.73 347.43a2.4 2.85 0 1 0 4.8 0a2.4 2.85 0 1 0 -4.8 0zM421.99 348.18a2.4 2.85 0 1 0 4.8 0a2.4 2.85 0 1 0 -4.8 0zM424.24 348.57a2.4 2.85 0 1 0 4.8 0a2.4 2.85 0 1 0 -4.8 0zM426.5 349.19a2.4 2.85 0 1 0 4.8 0a2.4 2.85 0 1 0 -4.8 0zM428.76 349.85a2.4 2.85 0 1 0 4.8 0a2.4 2.85 0 1 0 -4.8 0zM431.01 350.19a2.4 2.85 0 1 0 4.8 0a2.4 2.85 0 1 0 -4.8 0zM433.27 350.91a2.4 2.85 0 1 0 4.8 0a2.4 2.85 0 1 0 -4.8 0zM435.52 351.25a2.4 2.85 0 1 0 4.8 0a2.4 2.85 0 1 0 -4.8 0zM437.78 351.94a2.4 2.85 0 1 0 4.8 0a2.4 2.85 0 1 0 -4.8 0zM440.04 352.35a2.4 2.85 0 1 0 4.8 0a2.4 2.85 0 1 0 -4.8 0zM442.29 352.78a2.4 2.85 0 1 0 4.8 0a2.4 2.85 0 1 0 -4.8 0zM444.55 353.35a2.4 2.85 0 1 0 4.8 0a2.4 2.85 0 1 0 -4.8 0zM446.8 353.62a2.4 2.85 0 1 0 4.8 0a2.4 2.85 0 1 0 -4.8 0zM449.06 354.28a2.4 2.85 0 1 0 4.8 0a2.4 2.85 0 1 0 -4.8 0zM451.32 354.68a2.4 2.85 0 1 0 4.8 0a2.4 2.85 0 1 0 -4.8 0zM453.57 355.02a2.4 2.85 0 1 0 4.8 0a2.4 2.85 0 1 0 -4.8 0zM455.83 355.44a2.4 2.85 0 1 0 4.8 0a2.4 2.85 0 1 0 -4.8 0zM458.08 355.66a2.4 2.85 0 1 0 4.8 0a2.4 2.85 0 1 0 -4.8 0zM460.34 355.89a2.4 2.85 0 1 0 4.8 0a2.4 2.85 0 1 0 -4.8 0zM462.6 356.12a2.4 2.85 0 1 0 4.8 0a2.4 2.85 0 1 0 -4.8 0zM464.85 356.42a2.4 2.85 0 1 0 4.8 0a2.4 2.85 0 1 0 -4.8 0zM467.11 356.88a2.4 2.85 0 1 0 4.8 0a2.4 2.85 0 1 0 -4.8 0zM469.36 356.92a2.4 2.85 0 1 0 4.8 0a2.4 2.85 0 1 0 -4.8 0zM471.62 357.19a2.4 2.85 0 1 0 4.8 0a2.4 2.85 0 1 0 -4.8 0zM473.88 357.6a2.4 2.85 0 1 0 4.8 0a2.4 2.85 0 1 0 -4.8 0zM476.13 357.79a2.4 2.85 0 1 0 4.8 0a2.4 2.85 0 1 0 -4.8 0zM478.39 358.26a2.4 2.85 0 1 0 4.8 0a2.4 2.85 0 1 0 -4.8 0zM480.64 358.5a2.4 2.85 0 1 0 4.8 0a2.4 2.85 0 1 0 -4.8 0zM482.9 358.81a2.4 2.85 0 1 0 4.8 0a2.4 2.85 0 1 0 -4.8 0zM485.16 358.92a2.4 2.85 0 1 0 4.8 0a2.4 2.85 0 1 0 -4.8 0zM487.41 358.99a2.4 2.85 0 1 0 4.8 0a2.4 2.85 0 1 0 -4.8 0zM489.67 358.97a2.4 2.85 0 1 0 4.8 0a2.4 2.85 0 1 0 -4.8 0zM491.92 359.35a2.4 2.85 0 1 0 4.8 0a2.4 2.85 0 1 0 -4.8 0zM494.18 359.43a2.4 2.85 0 1 0 4.8 0a2.4 2.85 0 1 0 -4.8 0zM496.44 359.64a2.4 2.85 0 1 0 4.8 0a2.4 2.85 0 1 0 -4.8 0zM498.69 359.5a2.4 2.85 0 1 0 4.8 0a2.4 2.85 0 1 0 -4.8 0zM500.95 359.81a2.4 2.85 0 1 0 4.8 0a2.4 2.85 0 1 0 -4.8 0zM503.2 360.08a2.4 2.85 0 1 0 4.8 0a2.4 2.85 0 1 0 -4.8 0zM505.46 360.17a2.4 2.85 0 1 0 4.8 0a2.4 2.85 0 1 0 -4.8 0zM507.72 360.35a2.4 2.85 0 1 0 4.8 0a2.4 2.85 0 1 0 -4.8 0zM509.97 360.23a2.4 2.85 0 1 0 4.8 0a2.4 2.85 0 1 0 -4.8 0zM512.23 360.61a2.4 2.85 0 1 0 4.8 0a2.4 2.85 0 1 0 -4.8 0zM514.48 360.74a2.4 2.85 0 1 0 4.8 0a2.4 2.85 0 1 0 -4.8 0zM516.74 360.51a2.4 2.85 0 1 0 4.8 0a2.4 2.85 0 1 0 -4.8 0zM519 360.69a2.4 2.85 0 1 0 4.8 0a2.4 2.85 0 1 0 -4.8 0zM521.25 360.89a2.4 2.85 0 1 0 4.8 0a2.4 2.85 0 1 0 -4.8 0zM523.51 360.84a2.4 2.85 0 1 0 4.8 0a2.4 2.85 0 1 0 -4.8 0zM525.76 360.93a2.4 2.85 0 1 0 4.8 0a2.4 2.85 0 1 0 -4.8 0zM528.02 361.2a2.4 2.85 0 1 0 4.8 0a2.4 2.85 0 1 0 -4.8 0zM530.28 361.04a2.4 2.85 0 1 0 4.8 0a2.4 2.85 0 1 0 -4.8 0zM532.53 361.18a2.4 2.85 0 1 0 4.8 0a2.4 2.85 0 1 0 -4.8 0zM534.79 361.29a2.4 2.85 0 1 0 4.8 0a2.4 2.85 0 1 0 -4.8 0zM537.04 361.46a2.4 2.85 0 1 0 4.8 0a2.4 2.85 0 1 0 -4.8 0zM539.3 361.71a2.4 2.85 0 1 0 4.8 0a2.4 2.85 0 1 0 -4.8 0z" stroke="#0000ff" stroke-width="0.52" fill="none"/>
<path clip-path="url(#c6)" d="M314 224.6h4.2v4.4h-4.2zM316.26 226.79h4.2v4.4h-4.2zM318.51 228.28h4.2v4.4h-4.2zM320.77 230.66h4.2v4.4h-4.2zM323.02 232.18h4.2v4.4h-4.2zM325.28 234.23h4.2v4.4h-4.2zM327.54 236.38h4.2v4.4h-4.2zM329.79 237.91h4.2v4.4h-4.2zM332.05 240.21h4.2v4.4h-4.2zM334.3 241.78h4.2v4.4h-4.2zM336.56 243.98h4.2v4.4h-4.2zM338.82 245.87h4.2v4.4h-4.2zM341.07 247.5h4.2v4.4h-4.2zM343.33 249.09h4.2v4.4h-4.2zM345.58 251.62h4.2v4.4h-4.2zM347.84 253.48h4.2v4.4h-4.2zM350.1 255.1h4.2v4.4h-4.2zM352.35 256.78h4.2v4.4h-4.2zM354.61 259.03h4.2v4.4h-4.2zM356.86 261.13h4.2v4.4h-4.2zM359.12 262.6h4.2v4.4h-4.2zM361.38 265.31h4.2v4.4h-4.2zM363.63 266.59h4.2v4.4h-4.2zM365.89 269.12h4.2v4.4h-4.2zM368.14 270.94h4.2v4.4h-4.2zM370.4 272.99h4.2v4.4h-4.2zM372.66 274.45h4.2v4.4h-4.2zM374.91 276.36h4.2v4.4h-4.2zM377.17 278.6h4.2v4.4h-4.2zM379.42 279.92h4.2v4.4h-4.2zM381.68 282.06h4.2v4.4h-4.2zM383.94 283.79h4.2v4.4h-4.2zM386.19 285.34h4.2v4.4h-4.2zM388.45 287.63h4.2v4.4h-4.2zM390.7 289.24h4.2v4.4h-4.2zM392.96 290.91h4.2v4.4h-4.2zM395.22 292.54h4.2v4.4h-4.2zM397.47 294.84h4.2v4.4h-4.2zM399.73 296.72h4.2v4.4h-4.2zM401.98 298.3h4.2v4.4h-4.2zM404.24 299.18h4.2v4.4h-4.2zM406.5 300.58h4.2v4.4h-4.2zM408.75 302.21h4.2v4.4h-4.2zM411.01 303.79h4.2v4.4h-4.2zM413.26 305.06h4.2v4.4h-4.2zM415.52 306.85h4.2v4.4h-4.2zM417.78 308.67h4.2v4.4h-4.2zM420.03 309.67h4.2v4.4h-4.2zM422.29 311.01h4.2v4.4h-4.2zM424.54 312.86h4.2v4.4h-4.2zM426.8 314.64h4.2v4.4h-4.2zM429.06 315.52h4.2v4.4h-4.2zM431.31 316.62h4.2v4.4h-4.2zM433.57 317.56h4.2v4.4h-4.2zM435.82 318.34h4.2v4.4h-4.2zM438.08 319.6h4.2v4.4h-4.2zM440.34 320.22h4.2v4.4h-4.2zM442.59 320.99h4.2v4.4h-4.2zM444.85 322.44h4.2v4.4h-4.2zM447.1 323.38h4.2v4.4h-4.2zM449.36 323.88h4.2v4.4h-4.2zM451.62 325.53h4.2v4.4h-4.2zM453.87 326.48h4.2v4.4h-4.2zM456.13 327.04h4.2v4.4h-4.2zM458.38 328.23h4.2v4.4h-4.2zM460.64 328.63h4.2v4.4h-4.2zM462.9 328.85h4.2v4.4h-4.2zM465.15 329.92h4.2v4.4h-4.2zM467.41 330.49h4.2v4.4h-4.2zM469.66 331.01h4.2v4.4h-4.2zM471.92 331.73h4.2v4.4h-4.2zM474.18 332.84h4.2v4.4h-4.2zM476.43 333.78h4.2v4.4h-4.2zM478.69 334.52h4.2v4.4h-4.2zM480.94 335.1h4.2v4.4h-4.2zM483.2 335.69h4.2v4.4h-4.2zM485.46 336.35h4.2v4.4h-4.2zM487.71 336.64h4.2v4.4h-4.2zM489.97 337.08h4.2v4.4h-4.2zM492.22 336.96h4.2v4.4h-4.2zM494.48 337.64h4.2v4.4h-4.2zM496.74 337.92h4.2v4.4h-4.2zM498.99 337.89h4.2v4.4h-4.2zM501.25 338.58h4.2v4.4h-4.2zM503.5 339.27h4.2v4.4h-4.2zM505.76 339.43h4.2v4.4h-4.2zM508.02 339.41h4.2v4.4h-4.2zM510.27 340.44h4.2v4.4h-4.2zM512.53 340.32h4.2v4.4h-4.2zM514.78 340.52h4.2v4.4h-4.2zM517.04 340.74h4.2v4.4h-4.2zM519.3 340.67h4.2v4.4h-4.2zM521.55 341.38h4.2v4.4h-4.2zM523.81 341.66h4.2v4.4h-4.2zM526.06 341.57h4.2v4.4h-4.2zM528.32 341.95h4.2v4.4h-4.2zM530.58 341.76h4.2v4.4h-4.2zM532.83 341.93h4.2v4.4h-4.2zM535.09 342.17h4.2v4.4h-4.2zM537.34 342.87h4.2v4.4h-4.2zM539.6 342.97h4.2v4.4h-4.2z" stroke="#ff0000" stroke-width="0.52" fill="none"/>
<clipPath id="c7"><rect x="584.5" y="221.5" width="236" height="146"/></clipPath>
<rect x="584.5" y="221.5" width="236" height="146" fill="none" stroke="#949494" stroke-width="1"/>
<path d="M603.55 367.5v-1.7M603.55 221.5v1.7M617.7 367.5v-1.7M617.7 221.5v1.7M631.85 367.5v-1.7M631.85 221.5v1.7M660.15 367.5v-1.7M660.15 221.5v1.7M674.3 367.5v-1.7M674.3 221.5v1.7M688.45 367.5v-1.7M688.45 221.5v1.7M716.75 367.5v-1.7M716.75 221.5v1.7M730.9 367.5v-1.7M730.9 221.5v1.7M745.05 367.5v-1.7M745.05 221.5v1.7M773.35 367.5v-1.7M773.35 221.5v1.7M787.5 367.5v-1.7M787.5 221.5v1.7M801.65 367.5v-1.7M801.65 221.5v1.7M589.4 367.5v-2.9M589.4 221.5v2.9M646 367.5v-2.9M646 221.5v2.9M702.6 367.5v-2.9M702.6 221.5v2.9M759.2 367.5v-2.9M759.2 221.5v2.9M815.8 367.5v-2.9M815.8 221.5v2.9" stroke="#888888" stroke-width="1" fill="none"/>
<text transform="translate(589.4 378.4) scale(0.92 1)" text-anchor="middle" font-size="12.3">0.00</text>
<text transform="translate(646 378.4) scale(0.92 1)" text-anchor="middle" font-size="12.3">0.02</text>
<text transform="translate(702.6 378.4) scale(0.92 1)" text-anchor="middle" font-size="12.3">0.04</text>
<text transform="translate(759.2 378.4) scale(0.92 1)" text-anchor="middle" font-size="12.3">0.06</text>
<text transform="translate(815.8 378.4) scale(0.92 1)" text-anchor="middle" font-size="12.3">0.08</text>
<path d="M584.5 357.41h1.7M820.5 357.41h-1.7M584.5 350.62h1.7M820.5 350.62h-1.7M584.5 343.83h1.7M820.5 343.83h-1.7M584.5 330.25h1.7M820.5 330.25h-1.7M584.5 323.46h1.7M820.5 323.46h-1.7M584.5 316.67h1.7M820.5 316.67h-1.7M584.5 303.09h1.7M820.5 303.09h-1.7M584.5 296.3h1.7M820.5 296.3h-1.7M584.5 289.51h1.7M820.5 289.51h-1.7M584.5 275.93h1.7M820.5 275.93h-1.7M584.5 269.14h1.7M820.5 269.14h-1.7M584.5 262.35h1.7M820.5 262.35h-1.7M584.5 248.77h1.7M820.5 248.77h-1.7M584.5 241.98h1.7M820.5 241.98h-1.7M584.5 235.19h1.7M820.5 235.19h-1.7M584.5 364.2h2.9M820.5 364.2h-2.9M584.5 337.04h2.9M820.5 337.04h-2.9M584.5 309.88h2.9M820.5 309.88h-2.9M584.5 282.72h2.9M820.5 282.72h-2.9M584.5 255.56h2.9M820.5 255.56h-2.9M584.5 228.4h2.9M820.5 228.4h-2.9" stroke="#888888" stroke-width="1" fill="none"/>
<text transform="translate(582 367.5) scale(0.92 1)" text-anchor="end" font-size="12.3">0.0</text>
<text transform="translate(582 340.34) scale(0.92 1)" text-anchor="end" font-size="12.3">0.2</text>
<text transform="translate(582 313.18) scale(0.92 1)" text-anchor="end" font-size="12.3">0.4</text>
<text transform="translate(582 286.02) scale(0.92 1)" text-anchor="end" font-size="12.3">0.6</text>
<text transform="translate(582 258.86) scale(0.92 1)" text-anchor="end" font-size="12.3">0.8</text>
<text transform="translate(582 231.7) scale(0.92 1)" text-anchor="end" font-size="12.3">1.0</text>
<text transform="translate(702.5 218) scale(1 1)" text-anchor="middle" font-size="11.2">(f)</text>
<text transform="translate(702.5 394.7) scale(0.92 1)" text-anchor="middle" font-size="12.4" font-style="italic">α</text>
<text transform="translate(560.4 294.5) scale(1 1) rotate(-90)" text-anchor="middle" font-size="11.8" font-style="italic">J, M</text>
<path clip-path="url(#c7)" d="M591.66 227.29V272.58M590.26 227.29h2.8M590.26 272.58h2.8M600.72 243.97V290.07M599.32 243.97h2.8M599.32 290.07h2.8M609.78 252.1V296.85M608.38 252.1h2.8M608.38 296.85h2.8M618.83 261.27V301.95M617.43 261.27h2.8M617.43 301.95h2.8M627.89 272.24V306.14M626.49 272.24h2.8M626.49 306.14h2.8M636.94 283.42V312.44M635.54 283.42h2.8M635.54 312.44h2.8M646 291.9V321.74M644.6 291.9h2.8M644.6 321.74h2.8M655.06 302.58V326.99M653.66 302.58h2.8M653.66 326.99h2.8M664.11 314.81V335.15M662.71 314.81h2.8M662.71 335.15h2.8M673.17 323.63V341.25M671.77 323.63h2.8M671.77 341.25h2.8M682.22 331.53V346.45M680.82 331.53h2.8M680.82 346.45h2.8M691.28 339.39V351.06M689.88 339.39h2.8M689.88 351.06h2.8M700.34 346.68V356.18M698.94 346.68h2.8M698.94 356.18h2.8M709.39 351.28V359.55M707.99 351.28h2.8M707.99 359.55h2.8M718.45 354.95V362.01M717.05 354.95h2.8M717.05 362.01h2.8M727.5 357.08V363.31M726.1 357.08h2.8M726.1 363.31h2.8M736.56 358.26V363.68M735.16 358.26h2.8M735.16 363.68h2.8M745.62 358.75V364.11M744.22 358.75h2.8M744.22 364.11h2.8M754.67 359.02V364.32M753.27 359.02h2.8M753.27 364.32h2.8M763.73 358.96V364.2M762.33 358.96h2.8M762.33 364.2h2.8M772.78 359.25V364.42M771.38 359.25h2.8M771.38 364.42h2.8M781.84 359.3V364.41M780.44 359.3h2.8M780.44 364.41h2.8M790.9 359.41V364.46M789.5 359.41h2.8M789.5 364.46h2.8M799.95 359.36V364.35M798.55 359.36h2.8M798.55 364.35h2.8M809.01 359.56V364.49M807.61 359.56h2.8M807.61 364.49h2.8" stroke="#0000ff" stroke-width="0.55" fill="none"/>
<path clip-path="url(#c7)" d="M596.19 234.67V238.74M594.79 234.67h2.8M594.79 238.74h2.8M605.25 244.93V250.08M603.85 244.93h2.8M603.85 250.08h2.8M614.3 255.06V261.24M612.9 255.06h2.8M612.9 261.24h2.8M623.36 262.8V269.85M621.96 262.8h2.8M621.96 269.85h2.8M632.42 271.11V279.03M631.02 271.11h2.8M631.02 279.03h2.8M641.47 280.08V288.87M640.07 280.08h2.8M640.07 288.87h2.8M650.53 288.47V297.94M649.13 288.47h2.8M649.13 297.94h2.8M659.58 297.58V307.53M658.18 297.58h2.8M658.18 307.53h2.8M668.64 307.61V318.05M667.24 307.61h2.8M667.24 318.05h2.8M677.7 316.37V327.3M676.3 316.37h2.8M676.3 327.3h2.8M686.75 325.72V337.14M685.35 325.72h2.8M685.35 337.14h2.8M695.81 334.3V345.47M694.41 334.3h2.8M694.41 345.47h2.8M704.86 342.46V352.65M703.46 342.46h2.8M703.46 352.65h2.8M713.92 348.59V357.81M712.52 348.59h2.8M712.52 357.81h2.8M722.98 352.47V360.71M721.58 352.47h2.8M721.58 360.71h2.8M732.03 354.62V361.89M730.63 354.62h2.8M730.63 361.89h2.8M741.09 355.76V362.49M739.69 355.76h2.8M739.69 362.49h2.8M750.14 355.96V362.6M748.74 355.96h2.8M748.74 362.6h2.8M759.2 356.65V363.2M757.8 356.65h2.8M757.8 363.2h2.8M768.26 356.43V362.88M766.86 356.43h2.8M766.86 362.88h2.8M777.31 356.79V363.16M775.91 356.79h2.8M775.91 363.16h2.8M786.37 356.7V362.97M784.97 356.7h2.8M784.97 362.97h2.8M795.42 356.76V362.93M794.02 356.76h2.8M794.02 362.93h2.8M804.48 356.8V362.89M803.08 356.8h2.8M803.08 362.89h2.8M813.54 357.13V363.12M812.14 357.13h2.8M812.14 363.12h2.8" stroke="#ff0000" stroke-width="0.55" fill="none"/>
<path clip-path="url(#c7)" d="M587 228.1a2.4 2.85 0 1 0 4.8 0a2.4 2.85 0 1 0 -4.8 0zM589.26 249.93a2.4 2.85 0 1 0 4.8 0a2.4 2.85 0 1 0 -4.8 0zM591.53 261.46a2.4 2.85 0 1 0 4.8 0a2.4 2.85 0 1 0 -4.8 0zM593.79 262.41a2.4 2.85 0 1 0 4.8 0a2.4 2.85 0 1 0 -4.8 0zM596.06 264.44a2.4 2.85 0 1 0 4.8 0a2.4 2.85 0 1 0 -4.8 0zM598.32 267.02a2.4 2.85 0 1 0 4.8 0a2.4 2.85 0 1 0 -4.8 0zM600.58 270.14a2.4 2.85 0 1 0 4.8 0a2.4 2.85 0 1 0 -4.8 0zM602.85 271.49a2.4 2.85 0 1 0 4.8 0a2.4 2.85 0 1 0 -4.8 0zM605.11 265.66a2.4 2.85 0 1 0 4.8 0a2.4 2.85 0 1 0 -4.8 0zM607.38 274.48a2.4 2.85 0 1 0 4.8 0a2.4 2.85 0 1 0 -4.8 0zM609.64 276.24a2.4 2.85 0 1 0 4.8 0a2.4 2.85 0 1 0 -4.8 0zM611.9 278.59a2.4 2.85 0 1 0 4.8 0a2.4 2.85 0 1 0 -4.8 0zM614.17 279.96a2.4 2.85 0 1 0 4.8 0a2.4 2.85 0 1 0 -4.8 0zM616.43 281.61a2.4 2.85 0 1 0 4.8 0a2.4 2.85 0 1 0 -4.8 0zM618.7 283.73a2.4 2.85 0 1 0 4.8 0a2.4 2.85 0 1 0 -4.8 0zM620.96 286.36a2.4 2.85 0 1 0 4.8 0a2.4 2.85 0 1 0 -4.8 0zM623.22 287.11a2.4 2.85 0 1 0 4.8 0a2.4 2.85 0 1 0 -4.8 0zM625.49 289.19a2.4 2.85 0 1 0 4.8 0a2.4 2.85 0 1 0 -4.8 0zM627.75 292.03a2.4 2.85 0 1 0 4.8 0a2.4 2.85 0 1 0 -4.8 0zM630.02 293.89a2.4 2.85 0 1 0 4.8 0a2.4 2.85 0 1 0 -4.8 0zM632.28 295.09a2.4 2.85 0 1 0 4.8 0a2.4 2.85 0 1 0 -4.8 0zM634.54 297.93a2.4 2.85 0 1 0 4.8 0a2.4 2.85 0 1 0 -4.8 0zM636.81 299.63a2.4 2.85 0 1 0 4.8 0a2.4 2.85 0 1 0 -4.8 0zM639.07 302.58a2.4 2.85 0 1 0 4.8 0a2.4 2.85 0 1 0 -4.8 0zM641.34 303.66a2.4 2.85 0 1 0 4.8 0a2.4 2.85 0 1 0 -4.8 0zM643.6 306.82a2.4 2.85 0 1 0 4.8 0a2.4 2.85 0 1 0 -4.8 0zM645.86 307.96a2.4 2.85 0 1 0 4.8 0a2.4 2.85 0 1 0 -4.8 0zM648.13 311.09a2.4 2.85 0 1 0 4.8 0a2.4 2.85 0 1 0 -4.8 0zM650.39 313.66a2.4 2.85 0 1 0 4.8 0a2.4 2.85 0 1 0 -4.8 0zM652.66 314.79a2.4 2.85 0 1 0 4.8 0a2.4 2.85 0 1 0 -4.8 0zM654.92 317.7a2.4 2.85 0 1 0 4.8 0a2.4 2.85 0 1 0 -4.8 0zM657.18 320.13a2.4 2.85 0 1 0 4.8 0a2.4 2.85 0 1 0 -4.8 0zM659.45 321.9a2.4 2.85 0 1 0 4.8 0a2.4 2.85 0 1 0 -4.8 0zM661.71 324.98a2.4 2.85 0 1 0 4.8 0a2.4 2.85 0 1 0 -4.8 0zM663.98 326.9a2.4 2.85 0 1 0 4.8 0a2.4 2.85 0 1 0 -4.8 0zM666.24 328.77a2.4 2.85 0 1 0 4.8 0a2.4 2.85 0 1 0 -4.8 0zM668.5 330.84a2.4 2.85 0 1 0 4.8 0a2.4 2.85 0 1 0 -4.8 0zM670.77 332.44a2.4 2.85 0 1 0 4.8 0a2.4 2.85 0 1 0 -4.8 0zM673.03 333.82a2.4 2.85 0 1 0 4.8 0a2.4 2.85 0 1 0 -4.8 0zM675.3 335.74a2.4 2.85 0 1 0 4.8 0a2.4 2.85 0 1 0 -4.8 0zM677.56 337.32a2.4 2.85 0 1 0 4.8 0a2.4 2.85 0 1 0 -4.8 0zM679.82 338.99a2.4 2.85 0 1 0 4.8 0a2.4 2.85 0 1 0 -4.8 0zM682.09 340.73a2.4 2.85 0 1 0 4.8 0a2.4 2.85 0 1 0 -4.8 0zM684.35 342.95a2.4 2.85 0 1 0 4.8 0a2.4 2.85 0 1 0 -4.8 0zM686.62 344.35a2.4 2.85 0 1 0 4.8 0a2.4 2.85 0 1 0 -4.8 0zM688.88 345.22a2.4 2.85 0 1 0 4.8 0a2.4 2.85 0 1 0 -4.8 0zM691.14 347.16a2.4 2.85 0 1 0 4.8 0a2.4 2.85 0 1 0 -4.8 0zM693.41 348.23a2.4 2.85 0 1 0 4.8 0a2.4 2.85 0 1 0 -4.8 0zM695.67 350.23a2.4 2.85 0 1 0 4.8 0a2.4 2.85 0 1 0 -4.8 0zM697.94 351.43a2.4 2.85 0 1 0 4.8 0a2.4 2.85 0 1 0 -4.8 0zM700.2 351.84a2.4 2.85 0 1 0 4.8 0a2.4 2.85 0 1 0 -4.8 0zM702.46 353.24a2.4 2.85 0 1 0 4.8 0a2.4 2.85 0 1 0 -4.8 0zM704.73 353.89a2.4 2.85 0 1 0 4.8 0a2.4 2.85 0 1 0 -4.8 0zM706.99 355.41a2.4 2.85 0 1 0 4.8 0a2.4 2.85 0 1 0 -4.8 0zM709.26 356.29a2.4 2.85 0 1 0 4.8 0a2.4 2.85 0 1 0 -4.8 0zM711.52 357.07a2.4 2.85 0 1 0 4.8 0a2.4 2.85 0 1 0 -4.8 0zM713.78 357.81a2.4 2.85 0 1 0 4.8 0a2.4 2.85 0 1 0 -4.8 0zM716.05 358.48a2.4 2.85 0 1 0 4.8 0a2.4 2.85 0 1 0 -4.8 0zM718.31 358.78a2.4 2.85 0 1 0 4.8 0a2.4 2.85 0 1 0 -4.8 0zM720.58 359.29a2.4 2.85 0 1 0 4.8 0a2.4 2.85 0 1 0 -4.8 0zM722.84 359.57a2.4 2.85 0 1 0 4.8 0a2.4 2.85 0 1 0 -4.8 0zM725.1 360.19a2.4 2.85 0 1 0 4.8 0a2.4 2.85 0 1 0 -4.8 0zM727.37 360.59a2.4 2.85 0 1 0 4.8 0a2.4 2.85 0 1 0 -4.8 0zM729.63 360.73a2.4 2.85 0 1 0 4.8 0a2.4 2.85 0 1 0 -4.8 0zM731.9 360.62a2.4 2.85 0 1 0 4.8 0a2.4 2.85 0 1 0 -4.8 0zM734.16 360.97a2.4 2.85 0 1 0 4.8 0a2.4 2.85 0 1 0 -4.8 0zM736.42 360.93a2.4 2.85 0 1 0 4.8 0a2.4 2.85 0 1 0 -4.8 0zM738.69 360.99a2.4 2.85 0 1 0 4.8 0a2.4 2.85 0 1 0 -4.8 0zM740.95 361.35a2.4 2.85 0 1 0 4.8 0a2.4 2.85 0 1 0 -4.8 0zM743.22 361.43a2.4 2.85 0 1 0 4.8 0a2.4 2.85 0 1 0 -4.8 0zM745.48 361.36a2.4 2.85 0 1 0 4.8 0a2.4 2.85 0 1 0 -4.8 0zM747.74 361.66a2.4 2.85 0 1 0 4.8 0a2.4 2.85 0 1 0 -4.8 0zM750.01 361.55a2.4 2.85 0 1 0 4.8 0a2.4 2.85 0 1 0 -4.8 0zM752.27 361.67a2.4 2.85 0 1 0 4.8 0a2.4 2.85 0 1 0 -4.8 0zM754.54 361.51a2.4 2.85 0 1 0 4.8 0a2.4 2.85 0 1 0 -4.8 0zM756.8 361.58a2.4 2.85 0 1 0 4.8 0a2.4 2.85 0 1 0 -4.8 0zM759.06 361.78a2.4 2.85 0 1 0 4.8 0a2.4 2.85 0 1 0 -4.8 0zM761.33 361.58a2.4 2.85 0 1 0 4.8 0a2.4 2.85 0 1 0 -4.8 0zM763.59 361.79a2.4 2.85 0 1 0 4.8 0a2.4 2.85 0 1 0 -4.8 0zM765.86 361.55a2.4 2.85 0 1 0 4.8 0a2.4 2.85 0 1 0 -4.8 0zM768.12 361.8a2.4 2.85 0 1 0 4.8 0a2.4 2.85 0 1 0 -4.8 0zM770.38 361.84a2.4 2.85 0 1 0 4.8 0a2.4 2.85 0 1 0 -4.8 0zM772.65 361.77a2.4 2.85 0 1 0 4.8 0a2.4 2.85 0 1 0 -4.8 0zM774.91 361.73a2.4 2.85 0 1 0 4.8 0a2.4 2.85 0 1 0 -4.8 0zM777.18 361.61a2.4 2.85 0 1 0 4.8 0a2.4 2.85 0 1 0 -4.8 0zM779.44 361.85a2.4 2.85 0 1 0 4.8 0a2.4 2.85 0 1 0 -4.8 0zM781.7 361.72a2.4 2.85 0 1 0 4.8 0a2.4 2.85 0 1 0 -4.8 0zM783.97 361.9a2.4 2.85 0 1 0 4.8 0a2.4 2.85 0 1 0 -4.8 0zM786.23 361.71a2.4 2.85 0 1 0 4.8 0a2.4 2.85 0 1 0 -4.8 0zM788.5 361.93a2.4 2.85 0 1 0 4.8 0a2.4 2.85 0 1 0 -4.8 0zM790.76 361.76a2.4 2.85 0 1 0 4.8 0a2.4 2.85 0 1 0 -4.8 0zM793.02 361.96a2.4 2.85 0 1 0 4.8 0a2.4 2.85 0 1 0 -4.8 0zM795.29 361.98a2.4 2.85 0 1 0 4.8 0a2.4 2.85 0 1 0 -4.8 0zM797.55 361.86a2.4 2.85 0 1 0 4.8 0a2.4 2.85 0 1 0 -4.8 0zM799.82 361.84a2.4 2.85 0 1 0 4.8 0a2.4 2.85 0 1 0 -4.8 0zM802.08 361.95a2.4 2.85 0 1 0 4.8 0a2.4 2.85 0 1 0 -4.8 0zM804.34 361.87a2.4 2.85 0 1 0 4.8 0a2.4 2.85 0 1 0 -4.8 0zM806.61 362.03a2.4 2.85 0 1 0 4.8 0a2.4 2.85 0 1 0 -4.8 0zM808.87 362.06a2.4 2.85 0 1 0 4.8 0a2.4 2.85 0 1 0 -4.8 0zM811.14 361.99a2.4 2.85 0 1 0 4.8 0a2.4 2.85 0 1 0 -4.8 0zM813.4 361.85a2.4 2.85 0 1 0 4.8 0a2.4 2.85 0 1 0 -4.8 0z" stroke="#0000ff" stroke-width="0.52" fill="none"/>
<path clip-path="url(#c7)" d="M587.3 225.9h4.2v4.4h-4.2zM589.56 229.08h4.2v4.4h-4.2zM591.83 232.04h4.2v4.4h-4.2zM594.09 234.51h4.2v4.4h-4.2zM596.36 237.02h4.2v4.4h-4.2zM598.62 240.38h4.2v4.4h-4.2zM600.88 242.65h4.2v4.4h-4.2zM603.15 245.3h4.2v4.4h-4.2zM605.41 248.05h4.2v4.4h-4.2zM607.68 251.4h4.2v4.4h-4.2zM609.94 253.76h4.2v4.4h-4.2zM612.2 255.95h4.2v4.4h-4.2zM614.47 258.17h4.2v4.4h-4.2zM616.73 259.62h4.2v4.4h-4.2zM619 262.27h4.2v4.4h-4.2zM621.26 264.12h4.2v4.4h-4.2zM623.52 266.47h4.2v4.4h-4.2zM625.79 268.52h4.2v4.4h-4.2zM628.05 271.03h4.2v4.4h-4.2zM630.32 272.87h4.2v4.4h-4.2zM632.58 275.04h4.2v4.4h-4.2zM634.84 277.66h4.2v4.4h-4.2zM637.11 279.25h4.2v4.4h-4.2zM639.37 282.27h4.2v4.4h-4.2zM641.64 284.47h4.2v4.4h-4.2zM643.9 286.08h4.2v4.4h-4.2zM646.16 288.44h4.2v4.4h-4.2zM648.43 291h4.2v4.4h-4.2zM650.69 293.5h4.2v4.4h-4.2zM652.96 296.46h4.2v4.4h-4.2zM655.22 298.19h4.2v4.4h-4.2zM657.48 300.35h4.2v4.4h-4.2zM659.75 302.9h4.2v4.4h-4.2zM662.01 306.09h4.2v4.4h-4.2zM664.28 308.47h4.2v4.4h-4.2zM666.54 310.63h4.2v4.4h-4.2zM668.8 313.28h4.2v4.4h-4.2zM671.07 315.22h4.2v4.4h-4.2zM673.33 317.92h4.2v4.4h-4.2zM675.6 319.64h4.2v4.4h-4.2zM677.86 321.82h4.2v4.4h-4.2zM680.12 324.45h4.2v4.4h-4.2zM682.39 327.21h4.2v4.4h-4.2zM684.65 329.23h4.2v4.4h-4.2zM686.92 330.77h4.2v4.4h-4.2zM689.18 333.32h4.2v4.4h-4.2zM691.44 335.44h4.2v4.4h-4.2zM693.71 337.68h4.2v4.4h-4.2zM695.97 339.6h4.2v4.4h-4.2zM698.24 342.04h4.2v4.4h-4.2zM700.5 343.98h4.2v4.4h-4.2zM702.76 345.36h4.2v4.4h-4.2zM705.03 346.71h4.2v4.4h-4.2zM707.29 348.68h4.2v4.4h-4.2zM709.56 349.83h4.2v4.4h-4.2zM711.82 351h4.2v4.4h-4.2zM714.08 352.27h4.2v4.4h-4.2zM716.35 352.81h4.2v4.4h-4.2zM718.61 353.51h4.2v4.4h-4.2zM720.88 354.39h4.2v4.4h-4.2zM723.14 354.85h4.2v4.4h-4.2zM725.4 355.43h4.2v4.4h-4.2zM727.67 355.66h4.2v4.4h-4.2zM729.93 356.05h4.2v4.4h-4.2zM732.2 356.24h4.2v4.4h-4.2zM734.46 356.49h4.2v4.4h-4.2zM736.72 356.64h4.2v4.4h-4.2zM738.99 356.92h4.2v4.4h-4.2zM741.25 356.75h4.2v4.4h-4.2zM743.52 356.85h4.2v4.4h-4.2zM745.78 357.1h4.2v4.4h-4.2zM748.04 357.08h4.2v4.4h-4.2zM750.31 357.31h4.2v4.4h-4.2zM752.57 357.43h4.2v4.4h-4.2zM754.84 357.53h4.2v4.4h-4.2zM757.1 357.72h4.2v4.4h-4.2zM759.36 357.6h4.2v4.4h-4.2zM761.63 357.64h4.2v4.4h-4.2zM763.89 357.6h4.2v4.4h-4.2zM766.16 357.45h4.2v4.4h-4.2zM768.42 357.47h4.2v4.4h-4.2zM770.68 357.71h4.2v4.4h-4.2zM772.95 357.55h4.2v4.4h-4.2zM775.21 357.77h4.2v4.4h-4.2zM777.48 357.53h4.2v4.4h-4.2zM779.74 357.75h4.2v4.4h-4.2zM782 357.55h4.2v4.4h-4.2zM784.27 357.63h4.2v4.4h-4.2zM786.53 357.85h4.2v4.4h-4.2zM788.8 357.74h4.2v4.4h-4.2zM791.06 357.59h4.2v4.4h-4.2zM793.32 357.64h4.2v4.4h-4.2zM795.59 357.64h4.2v4.4h-4.2zM797.85 357.64h4.2v4.4h-4.2zM800.12 357.83h4.2v4.4h-4.2zM802.38 357.65h4.2v4.4h-4.2zM804.64 357.92h4.2v4.4h-4.2zM806.91 357.89h4.2v4.4h-4.2zM809.17 357.93h4.2v4.4h-4.2zM811.44 357.93h4.2v4.4h-4.2zM813.7 357.9h4.2v4.4h-4.2z" stroke="#ff0000" stroke-width="0.52" fill="none"/>
<clipPath id="c8"><rect x="37.5" y="428.5" width="235" height="145"/></clipPath>
<rect x="37.5" y="428.5" width="235" height="145" fill="none" stroke="#949494" stroke-width="1"/>
<path d="M56.61 573.5v-1.7M56.61 428.5v1.7M70.72 573.5v-1.7M70.72 428.5v1.7M84.83 573.5v-1.7M84.83 428.5v1.7M113.05 573.5v-1.7M113.05 428.5v1.7M127.16 573.5v-1.7M127.16 428.5v1.7M141.27 573.5v-1.7M141.27 428.5v1.7M169.49 573.5v-1.7M169.49 428.5v1.7M183.6 573.5v-1.7M183.6 428.5v1.7M197.71 573.5v-1.7M197.71 428.5v1.7M225.93 573.5v-1.7M225.93 428.5v1.7M240.04 573.5v-1.7M240.04 428.5v1.7M254.15 573.5v-1.7M254.15 428.5v1.7M42.5 573.5v-2.9M42.5 428.5v2.9M98.94 573.5v-2.9M98.94 428.5v2.9M155.38 573.5v-2.9M155.38 428.5v2.9M211.82 573.5v-2.9M211.82 428.5v2.9M268.26 573.5v-2.9M268.26 428.5v2.9" stroke="#888888" stroke-width="1" fill="none"/>
<text transform="translate(42.5 584.4) scale(0.92 1)" text-anchor="middle" font-size="12.3">0.00</text>
<text transform="translate(98.94 584.4) scale(0.92 1)" text-anchor="middle" font-size="12.3">0.02</text>
<text transform="translate(155.38 584.4) scale(0.92 1)" text-anchor="middle" font-size="12.3">0.04</text>
<text transform="translate(211.82 584.4) scale(0.92 1)" text-anchor="middle" font-size="12.3">0.06</text>
<text transform="translate(268.26 584.4) scale(0.92 1)" text-anchor="middle" font-size="12.3">0.08</text>
<path d="M37.5 562.45h1.7M272.5 562.45h-1.7M37.5 555.65h1.7M272.5 555.65h-1.7M37.5 548.85h1.7M272.5 548.85h-1.7M37.5 535.25h1.7M272.5 535.25h-1.7M37.5 528.45h1.7M272.5 528.45h-1.7M37.5 521.65h1.7M272.5 521.65h-1.7M37.5 508.05h1.7M272.5 508.05h-1.7M37.5 501.25h1.7M272.5 501.25h-1.7M37.5 494.45h1.7M272.5 494.45h-1.7M37.5 480.85h1.7M272.5 480.85h-1.7M37.5 474.05h1.7M272.5 474.05h-1.7M37.5 467.25h1.7M272.5 467.25h-1.7M37.5 453.65h1.7M272.5 453.65h-1.7M37.5 446.85h1.7M272.5 446.85h-1.7M37.5 440.05h1.7M272.5 440.05h-1.7M37.5 569.25h2.9M272.5 569.25h-2.9M37.5 542.05h2.9M272.5 542.05h-2.9M37.5 514.85h2.9M272.5 514.85h-2.9M37.5 487.65h2.9M272.5 487.65h-2.9M37.5 460.45h2.9M272.5 460.45h-2.9M37.5 433.25h2.9M272.5 433.25h-2.9" stroke="#888888" stroke-width="1" fill="none"/>
<text transform="translate(35 572.55) scale(0.92 1)" text-anchor="end" font-size="12.3">0.0</text>
<text transform="translate(35 545.35) scale(0.92 1)" text-anchor="end" font-size="12.3">0.2</text>
<text transform="translate(35 518.15) scale(0.92 1)" text-anchor="end" font-size="12.3">0.4</text>
<text transform="translate(35 490.95) scale(0.92 1)" text-anchor="end" font-size="12.3">0.6</text>
<text transform="translate(35 463.75) scale(0.92 1)" text-anchor="end" font-size="12.3">0.8</text>
<text transform="translate(35 436.55) scale(0.92 1)" text-anchor="end" font-size="12.3">1.0</text>
<text transform="translate(155 424.6) scale(1 1)" text-anchor="middle" font-size="11.2">(g)</text>
<text transform="translate(155 600.9) scale(0.92 1)" text-anchor="middle" font-size="12.4" font-style="italic">α</text>
<text transform="translate(13.2 501) scale(1 1) rotate(-90)" text-anchor="middle" font-size="11.8" font-style="italic">J, M</text>
<path clip-path="url(#c8)" d="M44.76 439.89V492.85M43.36 439.89h2.8M43.36 492.85h2.8M53.79 449.53V494.89M52.39 449.53h2.8M52.39 494.89h2.8M62.82 456.19V496.93M61.42 456.19h2.8M61.42 496.93h2.8M71.85 467.73V505.21M70.45 467.73h2.8M70.45 505.21h2.8M80.88 478.94V510.99M79.48 478.94h2.8M79.48 510.99h2.8M89.91 491.67V517.47M88.51 491.67h2.8M88.51 517.47h2.8M98.94 502.93V524.11M97.54 502.93h2.8M97.54 524.11h2.8M107.97 512.31V530.78M106.57 512.31h2.8M106.57 530.78h2.8M117 525.48V538.52M115.6 525.48h2.8M115.6 538.52h2.8M126.03 534.76V547.25M124.63 534.76h2.8M124.63 547.25h2.8M126.03 568.76V569.99M125.28 568.76h1.5M125.28 569.99h1.5M135.06 541.72V551.77M133.66 541.72h2.8M133.66 551.77h2.8M135.06 568.76V569.99M134.31 568.76h1.5M134.31 569.99h1.5M144.09 568.76V569.99M143.34 568.76h1.5M143.34 569.99h1.5M153.12 568.76V569.99M152.37 568.76h1.5M152.37 569.99h1.5M162.15 568.76V569.99M161.4 568.76h1.5M161.4 569.99h1.5M171.18 568.76V569.99M170.43 568.76h1.5M170.43 569.99h1.5M180.21 568.76V569.99M179.46 568.76h1.5M179.46 569.99h1.5M189.24 568.76V569.99M188.49 568.76h1.5M188.49 569.99h1.5M198.27 568.76V569.99M197.52 568.76h1.5M197.52 569.99h1.5M207.3 568.76V569.99M206.55 568.76h1.5M206.55 569.99h1.5M216.34 568.76V569.99M215.59 568.76h1.5M215.59 569.99h1.5M225.37 568.76V569.99M224.62 568.76h1.5M224.62 569.99h1.5M234.4 568.76V569.99M233.65 568.76h1.5M233.65 569.99h1.5M243.43 568.76V569.99M242.68 568.76h1.5M242.68 569.99h1.5M252.46 568.76V569.99M251.71 568.76h1.5M251.71 569.99h1.5M261.49 568.76V569.99M260.74 568.76h1.5M260.74 569.99h1.5" stroke="#0000ff" stroke-width="0.55" fill="none"/>
<path clip-path="url(#c8)" d="M49.27 440.04V443.79M47.87 440.04h2.8M47.87 443.79h2.8M58.3 450.99V455.39M56.9 450.99h2.8M56.9 455.39h2.8M67.33 461.52V466.57M65.93 461.52h2.8M65.93 466.57h2.8M76.36 472.41V478.12M74.96 472.41h2.8M74.96 478.12h2.8M85.39 483.66V490.01M83.99 483.66h2.8M83.99 490.01h2.8M94.42 494.85V501.86M93.02 494.85h2.8M93.02 501.86h2.8M103.46 505.83V513.49M102.06 505.83h2.8M102.06 513.49h2.8M112.49 515.95V524.26M111.09 515.95h2.8M111.09 524.26h2.8M121.52 526.39V535.35M120.12 526.39h2.8M120.12 535.35h2.8M130.55 536.2V545.81M129.15 536.2h2.8M129.15 545.81h2.8M130.55 568.76V569.99M129.8 568.76h1.5M129.8 569.99h1.5M139.58 543.81V554.08M138.18 543.81h2.8M138.18 554.08h2.8M139.58 568.76V569.99M138.83 568.76h1.5M138.83 569.99h1.5M148.61 568.76V569.99M147.86 568.76h1.5M147.86 569.99h1.5M157.64 568.76V569.99M156.89 568.76h1.5M156.89 569.99h1.5M166.67 568.76V569.99M165.92 568.76h1.5M165.92 569.99h1.5M175.7 568.76V569.99M174.95 568.76h1.5M174.95 569.99h1.5M184.73 568.76V569.99M183.98 568.76h1.5M183.98 569.99h1.5M193.76 568.76V569.99M193.01 568.76h1.5M193.01 569.99h1.5M202.79 568.76V569.99M202.04 568.76h1.5M202.04 569.99h1.5M211.82 568.76V569.99M211.07 568.76h1.5M211.07 569.99h1.5M220.85 568.76V569.99M220.1 568.76h1.5M220.1 569.99h1.5M229.88 568.76V569.99M229.13 568.76h1.5M229.13 569.99h1.5M238.91 568.76V569.99M238.16 568.76h1.5M238.16 569.99h1.5M247.94 568.76V569.99M247.19 568.76h1.5M247.19 569.99h1.5M256.97 568.76V569.99M256.22 568.76h1.5M256.22 569.99h1.5M266 568.76V569.99M265.25 568.76h1.5M265.25 569.99h1.5" stroke="#ff0000" stroke-width="0.55" fill="none"/>
<path clip-path="url(#c8)" d="M40.1 433.1a2.4 2.85 0 1 0 4.8 0a2.4 2.85 0 1 0 -4.8 0zM42.36 466.37a2.4 2.85 0 1 0 4.8 0a2.4 2.85 0 1 0 -4.8 0zM44.62 461.35a2.4 2.85 0 1 0 4.8 0a2.4 2.85 0 1 0 -4.8 0zM46.87 467.73a2.4 2.85 0 1 0 4.8 0a2.4 2.85 0 1 0 -4.8 0zM49.13 472.21a2.4 2.85 0 1 0 4.8 0a2.4 2.85 0 1 0 -4.8 0zM51.39 472.21a2.4 2.85 0 1 0 4.8 0a2.4 2.85 0 1 0 -4.8 0zM53.65 465.15a2.4 2.85 0 1 0 4.8 0a2.4 2.85 0 1 0 -4.8 0zM55.9 470.72a2.4 2.85 0 1 0 4.8 0a2.4 2.85 0 1 0 -4.8 0zM58.16 476.56a2.4 2.85 0 1 0 4.8 0a2.4 2.85 0 1 0 -4.8 0zM60.42 476.56a2.4 2.85 0 1 0 4.8 0a2.4 2.85 0 1 0 -4.8 0zM62.68 475.2a2.4 2.85 0 1 0 4.8 0a2.4 2.85 0 1 0 -4.8 0zM64.93 480.22a2.4 2.85 0 1 0 4.8 0a2.4 2.85 0 1 0 -4.8 0zM67.19 485.25a2.4 2.85 0 1 0 4.8 0a2.4 2.85 0 1 0 -4.8 0zM69.45 486.47a2.4 2.85 0 1 0 4.8 0a2.4 2.85 0 1 0 -4.8 0zM71.71 489.26a2.4 2.85 0 1 0 4.8 0a2.4 2.85 0 1 0 -4.8 0zM73.96 491.23a2.4 2.85 0 1 0 4.8 0a2.4 2.85 0 1 0 -4.8 0zM76.22 492.66a2.4 2.85 0 1 0 4.8 0a2.4 2.85 0 1 0 -4.8 0zM78.48 494.97a2.4 2.85 0 1 0 4.8 0a2.4 2.85 0 1 0 -4.8 0zM80.74 496.78a2.4 2.85 0 1 0 4.8 0a2.4 2.85 0 1 0 -4.8 0zM82.99 499.5a2.4 2.85 0 1 0 4.8 0a2.4 2.85 0 1 0 -4.8 0zM85.25 502.28a2.4 2.85 0 1 0 4.8 0a2.4 2.85 0 1 0 -4.8 0zM87.51 504.57a2.4 2.85 0 1 0 4.8 0a2.4 2.85 0 1 0 -4.8 0zM89.77 506.63a2.4 2.85 0 1 0 4.8 0a2.4 2.85 0 1 0 -4.8 0zM92.02 509.17a2.4 2.85 0 1 0 4.8 0a2.4 2.85 0 1 0 -4.8 0zM94.28 510.41a2.4 2.85 0 1 0 4.8 0a2.4 2.85 0 1 0 -4.8 0zM96.54 513.52a2.4 2.85 0 1 0 4.8 0a2.4 2.85 0 1 0 -4.8 0zM98.8 515.74a2.4 2.85 0 1 0 4.8 0a2.4 2.85 0 1 0 -4.8 0zM101.06 518.17a2.4 2.85 0 1 0 4.8 0a2.4 2.85 0 1 0 -4.8 0zM103.31 520.27a2.4 2.85 0 1 0 4.8 0a2.4 2.85 0 1 0 -4.8 0zM105.57 521.54a2.4 2.85 0 1 0 4.8 0a2.4 2.85 0 1 0 -4.8 0zM107.83 524.98a2.4 2.85 0 1 0 4.8 0a2.4 2.85 0 1 0 -4.8 0zM110.09 527.33a2.4 2.85 0 1 0 4.8 0a2.4 2.85 0 1 0 -4.8 0zM112.34 530.2a2.4 2.85 0 1 0 4.8 0a2.4 2.85 0 1 0 -4.8 0zM114.6 532a2.4 2.85 0 1 0 4.8 0a2.4 2.85 0 1 0 -4.8 0zM116.86 534.47a2.4 2.85 0 1 0 4.8 0a2.4 2.85 0 1 0 -4.8 0zM119.12 536.84a2.4 2.85 0 1 0 4.8 0a2.4 2.85 0 1 0 -4.8 0zM119.12 569.38a2.4 2.85 0 1 0 4.8 0a2.4 2.85 0 1 0 -4.8 0zM121.37 538.83a2.4 2.85 0 1 0 4.8 0a2.4 2.85 0 1 0 -4.8 0zM121.37 569.38a2.4 2.85 0 1 0 4.8 0a2.4 2.85 0 1 0 -4.8 0zM123.63 541a2.4 2.85 0 1 0 4.8 0a2.4 2.85 0 1 0 -4.8 0zM123.63 569.38a2.4 2.85 0 1 0 4.8 0a2.4 2.85 0 1 0 -4.8 0zM125.89 542.31a2.4 2.85 0 1 0 4.8 0a2.4 2.85 0 1 0 -4.8 0zM125.89 569.38a2.4 2.85 0 1 0 4.8 0a2.4 2.85 0 1 0 -4.8 0zM128.15 543.59a2.4 2.85 0 1 0 4.8 0a2.4 2.85 0 1 0 -4.8 0zM128.15 569.38a2.4 2.85 0 1 0 4.8 0a2.4 2.85 0 1 0 -4.8 0zM130.4 545.03a2.4 2.85 0 1 0 4.8 0a2.4 2.85 0 1 0 -4.8 0zM130.4 569.38a2.4 2.85 0 1 0 4.8 0a2.4 2.85 0 1 0 -4.8 0zM132.66 546.74a2.4 2.85 0 1 0 4.8 0a2.4 2.85 0 1 0 -4.8 0zM132.66 569.38a2.4 2.85 0 1 0 4.8 0a2.4 2.85 0 1 0 -4.8 0zM134.92 548.2a2.4 2.85 0 1 0 4.8 0a2.4 2.85 0 1 0 -4.8 0zM134.92 569.38a2.4 2.85 0 1 0 4.8 0a2.4 2.85 0 1 0 -4.8 0zM137.18 548.41a2.4 2.85 0 1 0 4.8 0a2.4 2.85 0 1 0 -4.8 0zM137.18 569.38a2.4 2.85 0 1 0 4.8 0a2.4 2.85 0 1 0 -4.8 0zM139.43 569.38a2.4 2.85 0 1 0 4.8 0a2.4 2.85 0 1 0 -4.8 0zM141.69 569.38a2.4 2.85 0 1 0 4.8 0a2.4 2.85 0 1 0 -4.8 0zM143.95 569.38a2.4 2.85 0 1 0 4.8 0a2.4 2.85 0 1 0 -4.8 0zM146.21 569.38a2.4 2.85 0 1 0 4.8 0a2.4 2.85 0 1 0 -4.8 0zM148.46 569.38a2.4 2.85 0 1 0 4.8 0a2.4 2.85 0 1 0 -4.8 0zM150.72 569.38a2.4 2.85 0 1 0 4.8 0a2.4 2.85 0 1 0 -4.8 0zM152.98 569.38a2.4 2.85 0 1 0 4.8 0a2.4 2.85 0 1 0 -4.8 0zM155.24 569.38a2.4 2.85 0 1 0 4.8 0a2.4 2.85 0 1 0 -4.8 0zM157.5 569.38a2.4 2.85 0 1 0 4.8 0a2.4 2.85 0 1 0 -4.8 0zM159.75 569.38a2.4 2.85 0 1 0 4.8 0a2.4 2.85 0 1 0 -4.8 0zM162.01 569.38a2.4 2.85 0 1 0 4.8 0a2.4 2.85 0 1 0 -4.8 0zM164.27 569.38a2.4 2.85 0 1 0 4.8 0a2.4 2.85 0 1 0 -4.8 0zM166.53 569.38a2.4 2.85 0 1 0 4.8 0a2.4 2.85 0 1 0 -4.8 0zM168.78 569.38a2.4 2.85 0 1 0 4.8 0a2.4 2.85 0 1 0 -4.8 0zM171.04 569.38a2.4 2.85 0 1 0 4.8 0a2.4 2.85 0 1 0 -4.8 0zM173.3 569.38a2.4 2.85 0 1 0 4.8 0a2.4 2.85 0 1 0 -4.8 0zM175.56 569.38a2.4 2.85 0 1 0 4.8 0a2.4 2.85 0 1 0 -4.8 0zM177.81 569.38a2.4 2.85 0 1 0 4.8 0a2.4 2.85 0 1 0 -4.8 0zM180.07 569.38a2.4 2.85 0 1 0 4.8 0a2.4 2.85 0 1 0 -4.8 0zM182.33 569.38a2.4 2.85 0 1 0 4.8 0a2.4 2.85 0 1 0 -4.8 0zM184.59 569.38a2.4 2.85 0 1 0 4.8 0a2.4 2.85 0 1 0 -4.8 0zM186.84 569.38a2.4 2.85 0 1 0 4.8 0a2.4 2.85 0 1 0 -4.8 0zM189.1 569.38a2.4 2.85 0 1 0 4.8 0a2.4 2.85 0 1 0 -4.8 0zM191.36 569.38a2.4 2.85 0 1 0 4.8 0a2.4 2.85 0 1 0 -4.8 0zM193.62 569.38a2.4 2.85 0 1 0 4.8 0a2.4 2.85 0 1 0 -4.8 0zM195.87 569.38a2.4 2.85 0 1 0 4.8 0a2.4 2.85 0 1 0 -4.8 0zM198.13 569.38a2.4 2.85 0 1 0 4.8 0a2.4 2.85 0 1 0 -4.8 0zM200.39 569.38a2.4 2.85 0 1 0 4.8 0a2.4 2.85 0 1 0 -4.8 0zM202.65 569.38a2.4 2.85 0 1 0 4.8 0a2.4 2.85 0 1 0 -4.8 0zM204.9 569.38a2.4 2.85 0 1 0 4.8 0a2.4 2.85 0 1 0 -4.8 0zM207.16 569.38a2.4 2.85 0 1 0 4.8 0a2.4 2.85 0 1 0 -4.8 0zM209.42 569.38a2.4 2.85 0 1 0 4.8 0a2.4 2.85 0 1 0 -4.8 0zM211.68 569.38a2.4 2.85 0 1 0 4.8 0a2.4 2.85 0 1 0 -4.8 0zM213.94 569.38a2.4 2.85 0 1 0 4.8 0a2.4 2.85 0 1 0 -4.8 0zM216.19 569.38a2.4 2.85 0 1 0 4.8 0a2.4 2.85 0 1 0 -4.8 0zM218.45 569.38a2.4 2.85 0 1 0 4.8 0a2.4 2.85 0 1 0 -4.8 0zM220.71 569.38a2.4 2.85 0 1 0 4.8 0a2.4 2.85 0 1 0 -4.8 0zM222.97 569.38a2.4 2.85 0 1 0 4.8 0a2.4 2.85 0 1 0 -4.8 0zM225.22 569.38a2.4 2.85 0 1 0 4.8 0a2.4 2.85 0 1 0 -4.8 0zM227.48 569.38a2.4 2.85 0 1 0 4.8 0a2.4 2.85 0 1 0 -4.8 0zM229.74 569.38a2.4 2.85 0 1 0 4.8 0a2.4 2.85 0 1 0 -4.8 0zM232 569.38a2.4 2.85 0 1 0 4.8 0a2.4 2.85 0 1 0 -4.8 0zM234.25 569.38a2.4 2.85 0 1 0 4.8 0a2.4 2.85 0 1 0 -4.8 0zM236.51 569.38a2.4 2.85 0 1 0 4.8 0a2.4 2.85 0 1 0 -4.8 0zM238.77 569.38a2.4 2.85 0 1 0 4.8 0a2.4 2.85 0 1 0 -4.8 0zM241.03 569.38a2.4 2.85 0 1 0 4.8 0a2.4 2.85 0 1 0 -4.8 0zM243.28 569.38a2.4 2.85 0 1 0 4.8 0a2.4 2.85 0 1 0 -4.8 0zM245.54 569.38a2.4 2.85 0 1 0 4.8 0a2.4 2.85 0 1 0 -4.8 0zM247.8 569.38a2.4 2.85 0 1 0 4.8 0a2.4 2.85 0 1 0 -4.8 0zM250.06 569.38a2.4 2.85 0 1 0 4.8 0a2.4 2.85 0 1 0 -4.8 0zM252.31 569.38a2.4 2.85 0 1 0 4.8 0a2.4 2.85 0 1 0 -4.8 0zM254.57 569.38a2.4 2.85 0 1 0 4.8 0a2.4 2.85 0 1 0 -4.8 0zM256.83 569.38a2.4 2.85 0 1 0 4.8 0a2.4 2.85 0 1 0 -4.8 0zM259.09 569.38a2.4 2.85 0 1 0 4.8 0a2.4 2.85 0 1 0 -4.8 0zM261.34 569.38a2.4 2.85 0 1 0 4.8 0a2.4 2.85 0 1 0 -4.8 0zM263.6 569.38a2.4 2.85 0 1 0 4.8 0a2.4 2.85 0 1 0 -4.8 0zM265.86 569.38a2.4 2.85 0 1 0 4.8 0a2.4 2.85 0 1 0 -4.8 0z" stroke="#0000ff" stroke-width="0.52" fill="none"/>
<path clip-path="url(#c8)" d="M40.4 430.9h4.2v4.4h-4.2zM42.66 433.8h4.2v4.4h-4.2zM44.92 436.96h4.2v4.4h-4.2zM47.17 439.72h4.2v4.4h-4.2zM49.43 442.88h4.2v4.4h-4.2zM51.69 445.59h4.2v4.4h-4.2zM53.95 448.68h4.2v4.4h-4.2zM56.2 450.99h4.2v4.4h-4.2zM58.46 454.03h4.2v4.4h-4.2zM60.72 457.23h4.2v4.4h-4.2zM62.98 459.61h4.2v4.4h-4.2zM65.23 461.85h4.2v4.4h-4.2zM67.49 465.14h4.2v4.4h-4.2zM69.75 467.17h4.2v4.4h-4.2zM72.01 470.44h4.2v4.4h-4.2zM74.26 473.06h4.2v4.4h-4.2zM76.52 476.29h4.2v4.4h-4.2zM78.78 478.85h4.2v4.4h-4.2zM81.04 481.72h4.2v4.4h-4.2zM83.29 484.63h4.2v4.4h-4.2zM85.55 487.62h4.2v4.4h-4.2zM87.81 490.55h4.2v4.4h-4.2zM90.07 492.87h4.2v4.4h-4.2zM92.32 496.15h4.2v4.4h-4.2zM94.58 498.42h4.2v4.4h-4.2zM96.84 501.38h4.2v4.4h-4.2zM99.1 504.68h4.2v4.4h-4.2zM101.36 507.46h4.2v4.4h-4.2zM103.61 510.42h4.2v4.4h-4.2zM105.87 512.95h4.2v4.4h-4.2zM108.13 515.77h4.2v4.4h-4.2zM110.39 517.91h4.2v4.4h-4.2zM112.64 520.88h4.2v4.4h-4.2zM114.9 523.34h4.2v4.4h-4.2zM117.16 525.96h4.2v4.4h-4.2zM119.42 528.67h4.2v4.4h-4.2zM121.67 531.58h4.2v4.4h-4.2zM123.93 534.19h4.2v4.4h-4.2zM123.93 567.18h4.2v4.4h-4.2zM126.19 536.74h4.2v4.4h-4.2zM126.19 567.18h4.2v4.4h-4.2zM128.45 538.81h4.2v4.4h-4.2zM128.45 567.18h4.2v4.4h-4.2zM130.7 540.81h4.2v4.4h-4.2zM130.7 567.18h4.2v4.4h-4.2zM132.96 542.94h4.2v4.4h-4.2zM132.96 567.18h4.2v4.4h-4.2zM135.22 544.53h4.2v4.4h-4.2zM135.22 567.18h4.2v4.4h-4.2zM137.48 546.74h4.2v4.4h-4.2zM137.48 567.18h4.2v4.4h-4.2zM139.73 567.18h4.2v4.4h-4.2zM141.99 567.18h4.2v4.4h-4.2zM144.25 567.18h4.2v4.4h-4.2zM146.51 567.18h4.2v4.4h-4.2zM148.76 567.18h4.2v4.4h-4.2zM151.02 567.18h4.2v4.4h-4.2zM153.28 567.18h4.2v4.4h-4.2zM155.54 567.18h4.2v4.4h-4.2zM157.8 567.18h4.2v4.4h-4.2zM160.05 567.18h4.2v4.4h-4.2zM162.31 567.18h4.2v4.4h-4.2zM164.57 567.18h4.2v4.4h-4.2zM166.83 567.18h4.2v4.4h-4.2zM169.08 567.18h4.2v4.4h-4.2zM171.34 567.18h4.2v4.4h-4.2zM173.6 567.18h4.2v4.4h-4.2zM175.86 567.18h4.2v4.4h-4.2zM178.11 567.18h4.2v4.4h-4.2zM180.37 567.18h4.2v4.4h-4.2zM182.63 567.18h4.2v4.4h-4.2zM184.89 567.18h4.2v4.4h-4.2zM187.14 567.18h4.2v4.4h-4.2zM189.4 567.18h4.2v4.4h-4.2zM191.66 567.18h4.2v4.4h-4.2zM193.92 567.18h4.2v4.4h-4.2zM196.17 567.18h4.2v4.4h-4.2zM198.43 567.18h4.2v4.4h-4.2zM200.69 567.18h4.2v4.4h-4.2zM202.95 567.18h4.2v4.4h-4.2zM205.2 567.18h4.2v4.4h-4.2zM207.46 567.18h4.2v4.4h-4.2zM209.72 567.18h4.2v4.4h-4.2zM211.98 567.18h4.2v4.4h-4.2zM214.24 567.18h4.2v4.4h-4.2zM216.49 567.18h4.2v4.4h-4.2zM218.75 567.18h4.2v4.4h-4.2zM221.01 567.18h4.2v4.4h-4.2zM223.27 567.18h4.2v4.4h-4.2zM225.52 567.18h4.2v4.4h-4.2zM227.78 567.18h4.2v4.4h-4.2zM230.04 567.18h4.2v4.4h-4.2zM232.3 567.18h4.2v4.4h-4.2zM234.55 567.18h4.2v4.4h-4.2zM236.81 567.18h4.2v4.4h-4.2zM239.07 567.18h4.2v4.4h-4.2zM241.33 567.18h4.2v4.4h-4.2zM243.58 567.18h4.2v4.4h-4.2zM245.84 567.18h4.2v4.4h-4.2zM248.1 567.18h4.2v4.4h-4.2zM250.36 567.18h4.2v4.4h-4.2zM252.61 567.18h4.2v4.4h-4.2zM254.87 567.18h4.2v4.4h-4.2zM257.13 567.18h4.2v4.4h-4.2zM259.39 567.18h4.2v4.4h-4.2zM261.64 567.18h4.2v4.4h-4.2zM263.9 567.18h4.2v4.4h-4.2zM266.16 567.18h4.2v4.4h-4.2z" stroke="#ff0000" stroke-width="0.52" fill="none"/>
<clipPath id="c9"><rect x="311.5" y="428.5" width="235" height="145"/></clipPath>
<rect x="311.5" y="428.5" width="235" height="145" fill="none" stroke="#949494" stroke-width="1"/>
<path d="M330.2 573.5v-1.7M330.2 428.5v1.7M344.3 573.5v-1.7M344.3 428.5v1.7M358.4 573.5v-1.7M358.4 428.5v1.7M386.6 573.5v-1.7M386.6 428.5v1.7M400.7 573.5v-1.7M400.7 428.5v1.7M414.8 573.5v-1.7M414.8 428.5v1.7M443 573.5v-1.7M443 428.5v1.7M457.1 573.5v-1.7M457.1 428.5v1.7M471.2 573.5v-1.7M471.2 428.5v1.7M499.4 573.5v-1.7M499.4 428.5v1.7M513.5 573.5v-1.7M513.5 428.5v1.7M527.6 573.5v-1.7M527.6 428.5v1.7M316.1 573.5v-2.9M316.1 428.5v2.9M372.5 573.5v-2.9M372.5 428.5v2.9M428.9 573.5v-2.9M428.9 428.5v2.9M485.3 573.5v-2.9M485.3 428.5v2.9M541.7 573.5v-2.9M541.7 428.5v2.9" stroke="#888888" stroke-width="1" fill="none"/>
<text transform="translate(316.1 584.4) scale(0.92 1)" text-anchor="middle" font-size="12.3">0.00</text>
<text transform="translate(372.5 584.4) scale(0.92 1)" text-anchor="middle" font-size="12.3">0.02</text>
<text transform="translate(428.9 584.4) scale(0.92 1)" text-anchor="middle" font-size="12.3">0.04</text>
<text transform="translate(485.3 584.4) scale(0.92 1)" text-anchor="middle" font-size="12.3">0.06</text>
<text transform="translate(541.7 584.4) scale(0.92 1)" text-anchor="middle" font-size="12.3">0.08</text>
<path d="M311.5 562.45h1.7M546.5 562.45h-1.7M311.5 555.65h1.7M546.5 555.65h-1.7M311.5 548.85h1.7M546.5 548.85h-1.7M311.5 535.25h1.7M546.5 535.25h-1.7M311.5 528.45h1.7M546.5 528.45h-1.7M311.5 521.65h1.7M546.5 521.65h-1.7M311.5 508.05h1.7M546.5 508.05h-1.7M311.5 501.25h1.7M546.5 501.25h-1.7M311.5 494.45h1.7M546.5 494.45h-1.7M311.5 480.85h1.7M546.5 480.85h-1.7M311.5 474.05h1.7M546.5 474.05h-1.7M311.5 467.25h1.7M546.5 467.25h-1.7M311.5 453.65h1.7M546.5 453.65h-1.7M311.5 446.85h1.7M546.5 446.85h-1.7M311.5 440.05h1.7M546.5 440.05h-1.7M311.5 569.25h2.9M546.5 569.25h-2.9M311.5 542.05h2.9M546.5 542.05h-2.9M311.5 514.85h2.9M546.5 514.85h-2.9M311.5 487.65h2.9M546.5 487.65h-2.9M311.5 460.45h2.9M546.5 460.45h-2.9M311.5 433.25h2.9M546.5 433.25h-2.9" stroke="#888888" stroke-width="1" fill="none"/>
<text transform="translate(309 572.55) scale(0.92 1)" text-anchor="end" font-size="12.3">0.0</text>
<text transform="translate(309 545.35) scale(0.92 1)" text-anchor="end" font-size="12.3">0.2</text>
<text transform="translate(309 518.15) scale(0.92 1)" text-anchor="end" font-size="12.3">0.4</text>
<text transform="translate(309 490.95) scale(0.92 1)" text-anchor="end" font-size="12.3">0.6</text>
<text transform="translate(309 463.75) scale(0.92 1)" text-anchor="end" font-size="12.3">0.8</text>
<text transform="translate(309 436.55) scale(0.92 1)" text-anchor="end" font-size="12.3">1.0</text>
<text transform="translate(429 424.6) scale(1 1)" text-anchor="middle" font-size="11.2">(h)</text>
<text transform="translate(429 600.9) scale(0.92 1)" text-anchor="middle" font-size="12.4" font-style="italic">α</text>
<text transform="translate(287 501) scale(1 1) rotate(-90)" text-anchor="middle" font-size="11.8" font-style="italic">J, M</text>
<path clip-path="url(#c9)" d="M318.36 434.09V481.11M316.96 434.09h2.8M316.96 481.11h2.8M327.38 443.19V481.24M325.98 443.19h2.8M325.98 481.24h2.8M336.4 457.87V498.64M335 457.87h2.8M335 498.64h2.8M345.43 469.01V501.63M344.03 469.01h2.8M344.03 501.63h2.8M354.45 484.19V510.01M353.05 484.19h2.8M353.05 510.01h2.8M363.48 495.12V519.58M362.08 495.12h2.8M362.08 519.58h2.8M372.5 508.65V526.59M371.1 508.65h2.8M371.1 526.59h2.8M381.52 521.07V537.38M380.12 521.07h2.8M380.12 537.38h2.8M390.55 532.69V546.82M389.15 532.69h2.8M389.15 546.82h2.8M390.55 568.76V569.99M389.8 568.76h1.5M389.8 569.99h1.5M399.57 545.02V553.17M398.17 545.02h2.8M398.17 553.17h2.8M399.57 568.76V569.99M398.82 568.76h1.5M398.82 569.99h1.5M408.6 568.76V569.99M407.85 568.76h1.5M407.85 569.99h1.5M417.62 568.76V569.99M416.87 568.76h1.5M416.87 569.99h1.5M426.64 568.76V569.99M425.89 568.76h1.5M425.89 569.99h1.5M435.67 568.76V569.99M434.92 568.76h1.5M434.92 569.99h1.5M444.69 568.76V569.99M443.94 568.76h1.5M443.94 569.99h1.5M453.72 568.76V569.99M452.97 568.76h1.5M452.97 569.99h1.5M462.74 568.76V569.99M461.99 568.76h1.5M461.99 569.99h1.5M471.76 568.76V569.99M471.01 568.76h1.5M471.01 569.99h1.5M480.79 568.76V569.99M480.04 568.76h1.5M480.04 569.99h1.5M489.81 568.76V569.99M489.06 568.76h1.5M489.06 569.99h1.5M498.84 568.76V569.99M498.09 568.76h1.5M498.09 569.99h1.5M507.86 568.76V569.99M507.11 568.76h1.5M507.11 569.99h1.5M516.88 568.76V569.99M516.13 568.76h1.5M516.13 569.99h1.5M525.91 568.76V569.99M525.16 568.76h1.5M525.16 569.99h1.5M534.93 568.76V569.99M534.18 568.76h1.5M534.18 569.99h1.5" stroke="#0000ff" stroke-width="0.55" fill="none"/>
<path clip-path="url(#c9)" d="M322.87 440.79V444.46M321.47 440.79h2.8M321.47 444.46h2.8M331.89 452.3V456.51M330.49 452.3h2.8M330.49 456.51h2.8M340.92 464.55V469.31M339.52 464.55h2.8M339.52 469.31h2.8M349.94 476.3V481.6M348.54 476.3h2.8M348.54 481.6h2.8M358.96 488.42V494.26M357.56 488.42h2.8M357.56 494.26h2.8M367.99 500.56V506.94M366.59 500.56h2.8M366.59 506.94h2.8M377.01 513.02V519.95M375.61 513.02h2.8M375.61 519.95h2.8M386.04 524.75V532.22M384.64 524.75h2.8M384.64 532.22h2.8M395.06 537.12V545.14M393.66 537.12h2.8M393.66 545.14h2.8M395.06 568.76V569.99M394.31 568.76h1.5M394.31 569.99h1.5M404.08 549.2V557.76M402.68 549.2h2.8M402.68 557.76h2.8M404.08 568.76V569.99M403.33 568.76h1.5M403.33 569.99h1.5M413.11 568.76V569.99M412.36 568.76h1.5M412.36 569.99h1.5M422.13 568.76V569.99M421.38 568.76h1.5M421.38 569.99h1.5M431.16 568.76V569.99M430.41 568.76h1.5M430.41 569.99h1.5M440.18 568.76V569.99M439.43 568.76h1.5M439.43 569.99h1.5M449.2 568.76V569.99M448.45 568.76h1.5M448.45 569.99h1.5M458.23 568.76V569.99M457.48 568.76h1.5M457.48 569.99h1.5M467.25 568.76V569.99M466.5 568.76h1.5M466.5 569.99h1.5M476.28 568.76V569.99M475.53 568.76h1.5M475.53 569.99h1.5M485.3 568.76V569.99M484.55 568.76h1.5M484.55 569.99h1.5M494.32 568.76V569.99M493.57 568.76h1.5M493.57 569.99h1.5M503.35 568.76V569.99M502.6 568.76h1.5M502.6 569.99h1.5M512.37 568.76V569.99M511.62 568.76h1.5M511.62 569.99h1.5M521.4 568.76V569.99M520.65 568.76h1.5M520.65 569.99h1.5M530.42 568.76V569.99M529.67 568.76h1.5M529.67 569.99h1.5M539.44 568.76V569.99M538.69 568.76h1.5M538.69 569.99h1.5" stroke="#ff0000" stroke-width="0.55" fill="none"/>
<path clip-path="url(#c9)" d="M313.7 433a2.4 2.85 0 1 0 4.8 0a2.4 2.85 0 1 0 -4.8 0zM315.96 457.6a2.4 2.85 0 1 0 4.8 0a2.4 2.85 0 1 0 -4.8 0zM318.21 457.19a2.4 2.85 0 1 0 4.8 0a2.4 2.85 0 1 0 -4.8 0zM320.47 462.76a2.4 2.85 0 1 0 4.8 0a2.4 2.85 0 1 0 -4.8 0zM322.72 460.18a2.4 2.85 0 1 0 4.8 0a2.4 2.85 0 1 0 -4.8 0zM324.98 462.22a2.4 2.85 0 1 0 4.8 0a2.4 2.85 0 1 0 -4.8 0zM327.24 466.43a2.4 2.85 0 1 0 4.8 0a2.4 2.85 0 1 0 -4.8 0zM329.49 469.69a2.4 2.85 0 1 0 4.8 0a2.4 2.85 0 1 0 -4.8 0zM331.75 475.26a2.4 2.85 0 1 0 4.8 0a2.4 2.85 0 1 0 -4.8 0zM334 478.25a2.4 2.85 0 1 0 4.8 0a2.4 2.85 0 1 0 -4.8 0zM336.26 479.75a2.4 2.85 0 1 0 4.8 0a2.4 2.85 0 1 0 -4.8 0zM338.52 480.16a2.4 2.85 0 1 0 4.8 0a2.4 2.85 0 1 0 -4.8 0zM340.77 485.32a2.4 2.85 0 1 0 4.8 0a2.4 2.85 0 1 0 -4.8 0zM343.03 485.32a2.4 2.85 0 1 0 4.8 0a2.4 2.85 0 1 0 -4.8 0zM345.28 488.03a2.4 2.85 0 1 0 4.8 0a2.4 2.85 0 1 0 -4.8 0zM347.54 490.71a2.4 2.85 0 1 0 4.8 0a2.4 2.85 0 1 0 -4.8 0zM349.8 494.15a2.4 2.85 0 1 0 4.8 0a2.4 2.85 0 1 0 -4.8 0zM352.05 497.1a2.4 2.85 0 1 0 4.8 0a2.4 2.85 0 1 0 -4.8 0zM354.31 499.82a2.4 2.85 0 1 0 4.8 0a2.4 2.85 0 1 0 -4.8 0zM356.56 501.89a2.4 2.85 0 1 0 4.8 0a2.4 2.85 0 1 0 -4.8 0zM358.82 504.48a2.4 2.85 0 1 0 4.8 0a2.4 2.85 0 1 0 -4.8 0zM361.08 507.35a2.4 2.85 0 1 0 4.8 0a2.4 2.85 0 1 0 -4.8 0zM363.33 509.58a2.4 2.85 0 1 0 4.8 0a2.4 2.85 0 1 0 -4.8 0zM365.59 512.63a2.4 2.85 0 1 0 4.8 0a2.4 2.85 0 1 0 -4.8 0zM367.84 515.07a2.4 2.85 0 1 0 4.8 0a2.4 2.85 0 1 0 -4.8 0zM370.1 517.62a2.4 2.85 0 1 0 4.8 0a2.4 2.85 0 1 0 -4.8 0zM372.36 521.34a2.4 2.85 0 1 0 4.8 0a2.4 2.85 0 1 0 -4.8 0zM374.61 523.27a2.4 2.85 0 1 0 4.8 0a2.4 2.85 0 1 0 -4.8 0zM376.87 526.07a2.4 2.85 0 1 0 4.8 0a2.4 2.85 0 1 0 -4.8 0zM379.12 529.23a2.4 2.85 0 1 0 4.8 0a2.4 2.85 0 1 0 -4.8 0zM381.38 531.76a2.4 2.85 0 1 0 4.8 0a2.4 2.85 0 1 0 -4.8 0zM383.64 533.88a2.4 2.85 0 1 0 4.8 0a2.4 2.85 0 1 0 -4.8 0zM385.89 536.57a2.4 2.85 0 1 0 4.8 0a2.4 2.85 0 1 0 -4.8 0zM385.89 569.38a2.4 2.85 0 1 0 4.8 0a2.4 2.85 0 1 0 -4.8 0zM388.15 539.75a2.4 2.85 0 1 0 4.8 0a2.4 2.85 0 1 0 -4.8 0zM388.15 569.38a2.4 2.85 0 1 0 4.8 0a2.4 2.85 0 1 0 -4.8 0zM390.4 541.46a2.4 2.85 0 1 0 4.8 0a2.4 2.85 0 1 0 -4.8 0zM390.4 569.38a2.4 2.85 0 1 0 4.8 0a2.4 2.85 0 1 0 -4.8 0zM392.66 544.21a2.4 2.85 0 1 0 4.8 0a2.4 2.85 0 1 0 -4.8 0zM392.66 569.38a2.4 2.85 0 1 0 4.8 0a2.4 2.85 0 1 0 -4.8 0zM394.92 547.41a2.4 2.85 0 1 0 4.8 0a2.4 2.85 0 1 0 -4.8 0zM394.92 569.38a2.4 2.85 0 1 0 4.8 0a2.4 2.85 0 1 0 -4.8 0zM397.17 549.1a2.4 2.85 0 1 0 4.8 0a2.4 2.85 0 1 0 -4.8 0zM397.17 569.38a2.4 2.85 0 1 0 4.8 0a2.4 2.85 0 1 0 -4.8 0zM399.43 551.33a2.4 2.85 0 1 0 4.8 0a2.4 2.85 0 1 0 -4.8 0zM399.43 569.38a2.4 2.85 0 1 0 4.8 0a2.4 2.85 0 1 0 -4.8 0zM401.68 553.79a2.4 2.85 0 1 0 4.8 0a2.4 2.85 0 1 0 -4.8 0zM401.68 569.38a2.4 2.85 0 1 0 4.8 0a2.4 2.85 0 1 0 -4.8 0zM403.94 569.38a2.4 2.85 0 1 0 4.8 0a2.4 2.85 0 1 0 -4.8 0zM406.2 569.38a2.4 2.85 0 1 0 4.8 0a2.4 2.85 0 1 0 -4.8 0zM408.45 569.38a2.4 2.85 0 1 0 4.8 0a2.4 2.85 0 1 0 -4.8 0zM410.71 569.38a2.4 2.85 0 1 0 4.8 0a2.4 2.85 0 1 0 -4.8 0zM412.96 569.38a2.4 2.85 0 1 0 4.8 0a2.4 2.85 0 1 0 -4.8 0zM415.22 569.38a2.4 2.85 0 1 0 4.8 0a2.4 2.85 0 1 0 -4.8 0zM417.48 569.38a2.4 2.85 0 1 0 4.8 0a2.4 2.85 0 1 0 -4.8 0zM419.73 569.38a2.4 2.85 0 1 0 4.8 0a2.4 2.85 0 1 0 -4.8 0zM421.99 569.38a2.4 2.85 0 1 0 4.8 0a2.4 2.85 0 1 0 -4.8 0zM424.24 569.38a2.4 2.85 0 1 0 4.8 0a2.4 2.85 0 1 0 -4.8 0zM426.5 569.38a2.4 2.85 0 1 0 4.8 0a2.4 2.85 0 1 0 -4.8 0zM428.76 569.38a2.4 2.85 0 1 0 4.8 0a2.4 2.85 0 1 0 -4.8 0zM431.01 569.38a2.4 2.85 0 1 0 4.8 0a2.4 2.85 0 1 0 -4.8 0zM433.27 569.38a2.4 2.85 0 1 0 4.8 0a2.4 2.85 0 1 0 -4.8 0zM435.52 569.38a2.4 2.85 0 1 0 4.8 0a2.4 2.85 0 1 0 -4.8 0zM437.78 569.38a2.4 2.85 0 1 0 4.8 0a2.4 2.85 0 1 0 -4.8 0zM440.04 569.38a2.4 2.85 0 1 0 4.8 0a2.4 2.85 0 1 0 -4.8 0zM442.29 569.38a2.4 2.85 0 1 0 4.8 0a2.4 2.85 0 1 0 -4.8 0zM444.55 569.38a2.4 2.85 0 1 0 4.8 0a2.4 2.85 0 1 0 -4.8 0zM446.8 569.38a2.4 2.85 0 1 0 4.8 0a2.4 2.85 0 1 0 -4.8 0zM449.06 569.38a2.4 2.85 0 1 0 4.8 0a2.4 2.85 0 1 0 -4.8 0zM451.32 569.38a2.4 2.85 0 1 0 4.8 0a2.4 2.85 0 1 0 -4.8 0zM453.57 569.38a2.4 2.85 0 1 0 4.8 0a2.4 2.85 0 1 0 -4.8 0zM455.83 569.38a2.4 2.85 0 1 0 4.8 0a2.4 2.85 0 1 0 -4.8 0zM458.08 569.38a2.4 2.85 0 1 0 4.8 0a2.4 2.85 0 1 0 -4.8 0zM460.34 569.38a2.4 2.85 0 1 0 4.8 0a2.4 2.85 0 1 0 -4.8 0zM462.6 569.38a2.4 2.85 0 1 0 4.8 0a2.4 2.85 0 1 0 -4.8 0zM464.85 569.38a2.4 2.85 0 1 0 4.8 0a2.4 2.85 0 1 0 -4.8 0zM467.11 569.38a2.4 2.85 0 1 0 4.8 0a2.4 2.85 0 1 0 -4.8 0zM469.36 569.38a2.4 2.85 0 1 0 4.8 0a2.4 2.85 0 1 0 -4.8 0zM471.62 569.38a2.4 2.85 0 1 0 4.8 0a2.4 2.85 0 1 0 -4.8 0zM473.88 569.38a2.4 2.85 0 1 0 4.8 0a2.4 2.85 0 1 0 -4.8 0zM476.13 569.38a2.4 2.85 0 1 0 4.8 0a2.4 2.85 0 1 0 -4.8 0zM478.39 569.38a2.4 2.85 0 1 0 4.8 0a2.4 2.85 0 1 0 -4.8 0zM480.64 569.38a2.4 2.85 0 1 0 4.8 0a2.4 2.85 0 1 0 -4.8 0zM482.9 569.38a2.4 2.85 0 1 0 4.8 0a2.4 2.85 0 1 0 -4.8 0zM485.16 569.38a2.4 2.85 0 1 0 4.8 0a2.4 2.85 0 1 0 -4.8 0zM487.41 569.38a2.4 2.85 0 1 0 4.8 0a2.4 2.85 0 1 0 -4.8 0zM489.67 569.38a2.4 2.85 0 1 0 4.8 0a2.4 2.85 0 1 0 -4.8 0zM491.92 569.38a2.4 2.85 0 1 0 4.8 0a2.4 2.85 0 1 0 -4.8 0zM494.18 569.38a2.4 2.85 0 1 0 4.8 0a2.4 2.85 0 1 0 -4.8 0zM496.44 569.38a2.4 2.85 0 1 0 4.8 0a2.4 2.85 0 1 0 -4.8 0zM498.69 569.38a2.4 2.85 0 1 0 4.8 0a2.4 2.85 0 1 0 -4.8 0zM500.95 569.38a2.4 2.85 0 1 0 4.8 0a2.4 2.85 0 1 0 -4.8 0zM503.2 569.38a2.4 2.85 0 1 0 4.8 0a2.4 2.85 0 1 0 -4.8 0zM505.46 569.38a2.4 2.85 0 1 0 4.8 0a2.4 2.85 0 1 0 -4.8 0zM507.72 569.38a2.4 2.85 0 1 0 4.8 0a2.4 2.85 0 1 0 -4.8 0zM509.97 569.38a2.4 2.85 0 1 0 4.8 0a2.4 2.85 0 1 0 -4.8 0zM512.23 569.38a2.4 2.85 0 1 0 4.8 0a2.4 2.85 0 1 0 -4.8 0zM514.48 569.38a2.4 2.85 0 1 0 4.8 0a2.4 2.85 0 1 0 -4.8 0zM516.74 569.38a2.4 2.85 0 1 0 4.8 0a2.4 2.85 0 1 0 -4.8 0zM519 569.38a2.4 2.85 0 1 0 4.8 0a2.4 2.85 0 1 0 -4.8 0zM521.25 569.38a2.4 2.85 0 1 0 4.8 0a2.4 2.85 0 1 0 -4.8 0zM523.51 569.38a2.4 2.85 0 1 0 4.8 0a2.4 2.85 0 1 0 -4.8 0zM525.76 569.38a2.4 2.85 0 1 0 4.8 0a2.4 2.85 0 1 0 -4.8 0zM528.02 569.38a2.4 2.85 0 1 0 4.8 0a2.4 2.85 0 1 0 -4.8 0zM530.28 569.38a2.4 2.85 0 1 0 4.8 0a2.4 2.85 0 1 0 -4.8 0zM532.53 569.38a2.4 2.85 0 1 0 4.8 0a2.4 2.85 0 1 0 -4.8 0zM534.79 569.38a2.4 2.85 0 1 0 4.8 0a2.4 2.85 0 1 0 -4.8 0zM537.04 569.38a2.4 2.85 0 1 0 4.8 0a2.4 2.85 0 1 0 -4.8 0zM539.3 569.38a2.4 2.85 0 1 0 4.8 0a2.4 2.85 0 1 0 -4.8 0z" stroke="#0000ff" stroke-width="0.52" fill="none"/>
<path clip-path="url(#c9)" d="M314 430.8h4.2v4.4h-4.2zM316.26 433.7h4.2v4.4h-4.2zM318.51 436.85h4.2v4.4h-4.2zM320.77 440.43h4.2v4.4h-4.2zM323.02 442.87h4.2v4.4h-4.2zM325.28 445.91h4.2v4.4h-4.2zM327.54 449.21h4.2v4.4h-4.2zM329.79 452.2h4.2v4.4h-4.2zM332.05 455.22h4.2v4.4h-4.2zM334.3 458.86h4.2v4.4h-4.2zM336.56 461.63h4.2v4.4h-4.2zM338.82 464.73h4.2v4.4h-4.2zM341.07 467.55h4.2v4.4h-4.2zM343.33 470.66h4.2v4.4h-4.2zM345.58 473.72h4.2v4.4h-4.2zM347.84 476.75h4.2v4.4h-4.2zM350.1 480h4.2v4.4h-4.2zM352.35 483.63h4.2v4.4h-4.2zM354.61 486.44h4.2v4.4h-4.2zM356.86 489.14h4.2v4.4h-4.2zM359.12 492.39h4.2v4.4h-4.2zM361.38 495.44h4.2v4.4h-4.2zM363.63 499.07h4.2v4.4h-4.2zM365.89 501.55h4.2v4.4h-4.2zM368.14 504.81h4.2v4.4h-4.2zM370.4 508.28h4.2v4.4h-4.2zM372.66 511.21h4.2v4.4h-4.2zM374.91 514.28h4.2v4.4h-4.2zM377.17 517.42h4.2v4.4h-4.2zM379.42 519.88h4.2v4.4h-4.2zM381.68 523.44h4.2v4.4h-4.2zM383.94 526.28h4.2v4.4h-4.2zM386.19 529.42h4.2v4.4h-4.2zM386.19 567.18h4.2v4.4h-4.2zM388.45 532.95h4.2v4.4h-4.2zM388.45 567.18h4.2v4.4h-4.2zM390.7 535.89h4.2v4.4h-4.2zM390.7 567.18h4.2v4.4h-4.2zM392.96 538.93h4.2v4.4h-4.2zM392.96 567.18h4.2v4.4h-4.2zM395.22 542.26h4.2v4.4h-4.2zM395.22 567.18h4.2v4.4h-4.2zM397.47 545.13h4.2v4.4h-4.2zM397.47 567.18h4.2v4.4h-4.2zM399.73 547.87h4.2v4.4h-4.2zM399.73 567.18h4.2v4.4h-4.2zM401.98 551.28h4.2v4.4h-4.2zM401.98 567.18h4.2v4.4h-4.2zM404.24 567.18h4.2v4.4h-4.2zM406.5 567.18h4.2v4.4h-4.2zM408.75 567.18h4.2v4.4h-4.2zM411.01 567.18h4.2v4.4h-4.2zM413.26 567.18h4.2v4.4h-4.2zM415.52 567.18h4.2v4.4h-4.2zM417.78 567.18h4.2v4.4h-4.2zM420.03 567.18h4.2v4.4h-4.2zM422.29 567.18h4.2v4.4h-4.2zM424.54 567.18h4.2v4.4h-4.2zM426.8 567.18h4.2v4.4h-4.2zM429.06 567.18h4.2v4.4h-4.2zM431.31 567.18h4.2v4.4h-4.2zM433.57 567.18h4.2v4.4h-4.2zM435.82 567.18h4.2v4.4h-4.2zM438.08 567.18h4.2v4.4h-4.2zM440.34 567.18h4.2v4.4h-4.2zM442.59 567.18h4.2v4.4h-4.2zM444.85 567.18h4.2v4.4h-4.2zM447.1 567.18h4.2v4.4h-4.2zM449.36 567.18h4.2v4.4h-4.2zM451.62 567.18h4.2v4.4h-4.2zM453.87 567.18h4.2v4.4h-4.2zM456.13 567.18h4.2v4.4h-4.2zM458.38 567.18h4.2v4.4h-4.2zM460.64 567.18h4.2v4.4h-4.2zM462.9 567.18h4.2v4.4h-4.2zM465.15 567.18h4.2v4.4h-4.2zM467.41 567.18h4.2v4.4h-4.2zM469.66 567.18h4.2v4.4h-4.2zM471.92 567.18h4.2v4.4h-4.2zM474.18 567.18h4.2v4.4h-4.2zM476.43 567.18h4.2v4.4h-4.2zM478.69 567.18h4.2v4.4h-4.2zM480.94 567.18h4.2v4.4h-4.2zM483.2 567.18h4.2v4.4h-4.2zM485.46 567.18h4.2v4.4h-4.2zM487.71 567.18h4.2v4.4h-4.2zM489.97 567.18h4.2v4.4h-4.2zM492.22 567.18h4.2v4.4h-4.2zM494.48 567.18h4.2v4.4h-4.2zM496.74 567.18h4.2v4.4h-4.2zM498.99 567.18h4.2v4.4h-4.2zM501.25 567.18h4.2v4.4h-4.2zM503.5 567.18h4.2v4.4h-4.2zM505.76 567.18h4.2v4.4h-4.2zM508.02 567.18h4.2v4.4h-4.2zM510.27 567.18h4.2v4.4h-4.2zM512.53 567.18h4.2v4.4h-4.2zM514.78 567.18h4.2v4.4h-4.2zM517.04 567.18h4.2v4.4h-4.2zM519.3 567.18h4.2v4.4h-4.2zM521.55 567.18h4.2v4.4h-4.2zM523.81 567.18h4.2v4.4h-4.2zM526.06 567.18h4.2v4.4h-4.2zM528.32 567.18h4.2v4.4h-4.2zM530.58 567.18h4.2v4.4h-4.2zM532.83 567.18h4.2v4.4h-4.2zM535.09 567.18h4.2v4.4h-4.2zM537.34 567.18h4.2v4.4h-4.2zM539.6 567.18h4.2v4.4h-4.2z" stroke="#ff0000" stroke-width="0.52" fill="none"/>
<clipPath id="c10"><rect x="584.5" y="428.5" width="236" height="145"/></clipPath>
<rect x="584.5" y="428.5" width="236" height="145" fill="none" stroke="#949494" stroke-width="1"/>
<path d="M603.61 573.5v-1.7M603.61 428.5v1.7M617.72 573.5v-1.7M617.72 428.5v1.7M631.83 573.5v-1.7M631.83 428.5v1.7M660.05 573.5v-1.7M660.05 428.5v1.7M674.16 573.5v-1.7M674.16 428.5v1.7M688.27 573.5v-1.7M688.27 428.5v1.7M716.49 573.5v-1.7M716.49 428.5v1.7M730.6 573.5v-1.7M730.6 428.5v1.7M744.71 573.5v-1.7M744.71 428.5v1.7M772.93 573.5v-1.7M772.93 428.5v1.7M787.04 573.5v-1.7M787.04 428.5v1.7M801.15 573.5v-1.7M801.15 428.5v1.7M589.5 573.5v-2.9M589.5 428.5v2.9M645.94 573.5v-2.9M645.94 428.5v2.9M702.38 573.5v-2.9M702.38 428.5v2.9M758.82 573.5v-2.9M758.82 428.5v2.9M815.26 573.5v-2.9M815.26 428.5v2.9" stroke="#888888" stroke-width="1" fill="none"/>
<text transform="translate(589.5 584.4) scale(0.92 1)" text-anchor="middle" font-size="12.3">0.00</text>
<text transform="translate(645.94 584.4) scale(0.92 1)" text-anchor="middle" font-size="12.3">0.02</text>
<text transform="translate(702.38 584.4) scale(0.92 1)" text-anchor="middle" font-size="12.3">0.04</text>
<text transform="translate(758.82 584.4) scale(0.92 1)" text-anchor="middle" font-size="12.3">0.06</text>
<text transform="translate(815.26 584.4) scale(0.92 1)" text-anchor="middle" font-size="12.3">0.08</text>
<path d="M584.5 562.62h1.7M820.5 562.62h-1.7M584.5 556h1.7M820.5 556h-1.7M584.5 549.37h1.7M820.5 549.37h-1.7M584.5 536.11h1.7M820.5 536.11h-1.7M584.5 529.49h1.7M820.5 529.49h-1.7M584.5 522.86h1.7M820.5 522.86h-1.7M584.5 509.6h1.7M820.5 509.6h-1.7M584.5 502.98h1.7M820.5 502.98h-1.7M584.5 496.35h1.7M820.5 496.35h-1.7M584.5 483.09h1.7M820.5 483.09h-1.7M584.5 476.47h1.7M820.5 476.47h-1.7M584.5 469.84h1.7M820.5 469.84h-1.7M584.5 456.58h1.7M820.5 456.58h-1.7M584.5 449.95h1.7M820.5 449.95h-1.7M584.5 443.33h1.7M820.5 443.33h-1.7M584.5 430.07h1.7M820.5 430.07h-1.7M584.5 569.25h2.9M820.5 569.25h-2.9M584.5 542.74h2.9M820.5 542.74h-2.9M584.5 516.23h2.9M820.5 516.23h-2.9M584.5 489.72h2.9M820.5 489.72h-2.9M584.5 463.21h2.9M820.5 463.21h-2.9M584.5 436.7h2.9M820.5 436.7h-2.9" stroke="#888888" stroke-width="1" fill="none"/>
<text transform="translate(582 572.55) scale(0.92 1)" text-anchor="end" font-size="12.3">0.0</text>
<text transform="translate(582 546.04) scale(0.92 1)" text-anchor="end" font-size="12.3">0.2</text>
<text transform="translate(582 519.53) scale(0.92 1)" text-anchor="end" font-size="12.3">0.4</text>
<text transform="translate(582 493.02) scale(0.92 1)" text-anchor="end" font-size="12.3">0.6</text>
<text transform="translate(582 466.51) scale(0.92 1)" text-anchor="end" font-size="12.3">0.8</text>
<text transform="translate(582 440) scale(0.92 1)" text-anchor="end" font-size="12.3">1.0</text>
<text transform="translate(702.5 424.6) scale(1 1)" text-anchor="middle" font-size="11.2">(i)</text>
<text transform="translate(702.5 600.9) scale(0.92 1)" text-anchor="middle" font-size="12.4" font-style="italic">α</text>
<text transform="translate(560.4 501) scale(1 1) rotate(-90)" text-anchor="middle" font-size="11.8" font-style="italic">J, M</text>
<path clip-path="url(#c10)" d="M591.76 433.12V474.22M590.36 433.12h2.8M590.36 474.22h2.8M600.79 452.08V486.56M599.39 452.08h2.8M599.39 486.56h2.8M609.82 473.03V498.75M608.42 473.03h2.8M608.42 498.75h2.8M618.85 489.61V510.29M617.45 489.61h2.8M617.45 510.29h2.8M627.88 505.52V522.22M626.48 505.52h2.8M626.48 522.22h2.8M636.91 523.02V536.81M635.51 523.02h2.8M635.51 536.81h2.8M645.94 568.77V569.96M645.19 568.77h1.5M645.19 569.96h1.5M654.97 568.77V569.96M654.22 568.77h1.5M654.22 569.96h1.5M664 568.77V569.96M663.25 568.77h1.5M663.25 569.96h1.5M673.03 568.77V569.96M672.28 568.77h1.5M672.28 569.96h1.5M682.06 568.77V569.96M681.31 568.77h1.5M681.31 569.96h1.5M691.09 568.77V569.96M690.34 568.77h1.5M690.34 569.96h1.5M700.12 568.77V569.96M699.37 568.77h1.5M699.37 569.96h1.5M709.15 568.77V569.96M708.4 568.77h1.5M708.4 569.96h1.5M718.18 568.77V569.96M717.43 568.77h1.5M717.43 569.96h1.5M727.21 568.77V569.96M726.46 568.77h1.5M726.46 569.96h1.5M736.24 568.77V569.96M735.49 568.77h1.5M735.49 569.96h1.5M745.27 568.77V569.96M744.52 568.77h1.5M744.52 569.96h1.5M754.3 568.77V569.96M753.55 568.77h1.5M753.55 569.96h1.5M763.34 568.77V569.96M762.59 568.77h1.5M762.59 569.96h1.5M772.37 568.77V569.96M771.62 568.77h1.5M771.62 569.96h1.5M781.4 568.77V569.96M780.65 568.77h1.5M780.65 569.96h1.5M790.43 568.77V569.96M789.68 568.77h1.5M789.68 569.96h1.5M799.46 568.77V569.96M798.71 568.77h1.5M798.71 569.96h1.5M808.49 568.77V569.96M807.74 568.77h1.5M807.74 569.96h1.5" stroke="#0000ff" stroke-width="0.55" fill="none"/>
<path clip-path="url(#c10)" d="M596.27 445.45V455.53M594.87 445.45h2.8M594.87 455.53h2.8M605.3 462.82V472.9M603.9 462.82h2.8M603.9 472.9h2.8M614.33 479.13V489.21M612.93 479.13h2.8M612.93 489.21h2.8M623.36 497.1V507.17M621.96 497.1h2.8M621.96 507.17h2.8M632.39 515.36V525.43M630.99 515.36h2.8M630.99 525.43h2.8M641.42 568.77V569.96M640.67 568.77h1.5M640.67 569.96h1.5M650.46 568.77V569.96M649.71 568.77h1.5M649.71 569.96h1.5M659.49 568.77V569.96M658.74 568.77h1.5M658.74 569.96h1.5M668.52 568.77V569.96M667.77 568.77h1.5M667.77 569.96h1.5M677.55 568.77V569.96M676.8 568.77h1.5M676.8 569.96h1.5M686.58 568.77V569.96M685.83 568.77h1.5M685.83 569.96h1.5M695.61 568.77V569.96M694.86 568.77h1.5M694.86 569.96h1.5M704.64 568.77V569.96M703.89 568.77h1.5M703.89 569.96h1.5M713.67 568.77V569.96M712.92 568.77h1.5M712.92 569.96h1.5M722.7 568.77V569.96M721.95 568.77h1.5M721.95 569.96h1.5M731.73 568.77V569.96M730.98 568.77h1.5M730.98 569.96h1.5M740.76 568.77V569.96M740.01 568.77h1.5M740.01 569.96h1.5M749.79 568.77V569.96M749.04 568.77h1.5M749.04 569.96h1.5M758.82 568.77V569.96M758.07 568.77h1.5M758.07 569.96h1.5M767.85 568.77V569.96M767.1 568.77h1.5M767.1 569.96h1.5M776.88 568.77V569.96M776.13 568.77h1.5M776.13 569.96h1.5M785.91 568.77V569.96M785.16 568.77h1.5M785.16 569.96h1.5M794.94 568.77V569.96M794.19 568.77h1.5M794.19 569.96h1.5M803.97 568.77V569.96M803.22 568.77h1.5M803.22 569.96h1.5M813 568.77V569.96M812.25 568.77h1.5M812.25 569.96h1.5" stroke="#ff0000" stroke-width="0.55" fill="none"/>
<path clip-path="url(#c10)" d="M587.1 436.3a2.4 2.85 0 1 0 4.8 0a2.4 2.85 0 1 0 -4.8 0zM589.36 453.67a2.4 2.85 0 1 0 4.8 0a2.4 2.85 0 1 0 -4.8 0zM591.62 458.18a2.4 2.85 0 1 0 4.8 0a2.4 2.85 0 1 0 -4.8 0zM593.87 464.81a2.4 2.85 0 1 0 4.8 0a2.4 2.85 0 1 0 -4.8 0zM596.13 466.8a2.4 2.85 0 1 0 4.8 0a2.4 2.85 0 1 0 -4.8 0zM598.39 469.32a2.4 2.85 0 1 0 4.8 0a2.4 2.85 0 1 0 -4.8 0zM600.65 474.75a2.4 2.85 0 1 0 4.8 0a2.4 2.85 0 1 0 -4.8 0zM602.9 478.73a2.4 2.85 0 1 0 4.8 0a2.4 2.85 0 1 0 -4.8 0zM605.16 481.78a2.4 2.85 0 1 0 4.8 0a2.4 2.85 0 1 0 -4.8 0zM607.42 485.89a2.4 2.85 0 1 0 4.8 0a2.4 2.85 0 1 0 -4.8 0zM609.68 489.41a2.4 2.85 0 1 0 4.8 0a2.4 2.85 0 1 0 -4.8 0zM611.93 492.92a2.4 2.85 0 1 0 4.8 0a2.4 2.85 0 1 0 -4.8 0zM614.19 496.43a2.4 2.85 0 1 0 4.8 0a2.4 2.85 0 1 0 -4.8 0zM616.45 499.95a2.4 2.85 0 1 0 4.8 0a2.4 2.85 0 1 0 -4.8 0zM618.71 503.43a2.4 2.85 0 1 0 4.8 0a2.4 2.85 0 1 0 -4.8 0zM620.96 506.91a2.4 2.85 0 1 0 4.8 0a2.4 2.85 0 1 0 -4.8 0zM623.22 510.39a2.4 2.85 0 1 0 4.8 0a2.4 2.85 0 1 0 -4.8 0zM625.48 513.87a2.4 2.85 0 1 0 4.8 0a2.4 2.85 0 1 0 -4.8 0zM627.74 517.88a2.4 2.85 0 1 0 4.8 0a2.4 2.85 0 1 0 -4.8 0zM629.99 521.89a2.4 2.85 0 1 0 4.8 0a2.4 2.85 0 1 0 -4.8 0zM632.25 525.9a2.4 2.85 0 1 0 4.8 0a2.4 2.85 0 1 0 -4.8 0zM634.51 529.92a2.4 2.85 0 1 0 4.8 0a2.4 2.85 0 1 0 -4.8 0zM636.77 569.36a2.4 2.85 0 1 0 4.8 0a2.4 2.85 0 1 0 -4.8 0zM639.02 569.36a2.4 2.85 0 1 0 4.8 0a2.4 2.85 0 1 0 -4.8 0zM641.28 569.36a2.4 2.85 0 1 0 4.8 0a2.4 2.85 0 1 0 -4.8 0zM643.54 569.36a2.4 2.85 0 1 0 4.8 0a2.4 2.85 0 1 0 -4.8 0zM645.8 569.36a2.4 2.85 0 1 0 4.8 0a2.4 2.85 0 1 0 -4.8 0zM648.06 569.36a2.4 2.85 0 1 0 4.8 0a2.4 2.85 0 1 0 -4.8 0zM650.31 569.36a2.4 2.85 0 1 0 4.8 0a2.4 2.85 0 1 0 -4.8 0zM652.57 569.36a2.4 2.85 0 1 0 4.8 0a2.4 2.85 0 1 0 -4.8 0zM654.83 569.36a2.4 2.85 0 1 0 4.8 0a2.4 2.85 0 1 0 -4.8 0zM657.09 569.36a2.4 2.85 0 1 0 4.8 0a2.4 2.85 0 1 0 -4.8 0zM659.34 569.36a2.4 2.85 0 1 0 4.8 0a2.4 2.85 0 1 0 -4.8 0zM661.6 569.36a2.4 2.85 0 1 0 4.8 0a2.4 2.85 0 1 0 -4.8 0zM663.86 569.36a2.4 2.85 0 1 0 4.8 0a2.4 2.85 0 1 0 -4.8 0zM666.12 569.36a2.4 2.85 0 1 0 4.8 0a2.4 2.85 0 1 0 -4.8 0zM668.37 569.36a2.4 2.85 0 1 0 4.8 0a2.4 2.85 0 1 0 -4.8 0zM670.63 569.36a2.4 2.85 0 1 0 4.8 0a2.4 2.85 0 1 0 -4.8 0zM672.89 569.36a2.4 2.85 0 1 0 4.8 0a2.4 2.85 0 1 0 -4.8 0zM675.15 569.36a2.4 2.85 0 1 0 4.8 0a2.4 2.85 0 1 0 -4.8 0zM677.4 569.36a2.4 2.85 0 1 0 4.8 0a2.4 2.85 0 1 0 -4.8 0zM679.66 569.36a2.4 2.85 0 1 0 4.8 0a2.4 2.85 0 1 0 -4.8 0zM681.92 569.36a2.4 2.85 0 1 0 4.8 0a2.4 2.85 0 1 0 -4.8 0zM684.18 569.36a2.4 2.85 0 1 0 4.8 0a2.4 2.85 0 1 0 -4.8 0zM686.43 569.36a2.4 2.85 0 1 0 4.8 0a2.4 2.85 0 1 0 -4.8 0zM688.69 569.36a2.4 2.85 0 1 0 4.8 0a2.4 2.85 0 1 0 -4.8 0zM690.95 569.36a2.4 2.85 0 1 0 4.8 0a2.4 2.85 0 1 0 -4.8 0zM693.21 569.36a2.4 2.85 0 1 0 4.8 0a2.4 2.85 0 1 0 -4.8 0zM695.46 569.36a2.4 2.85 0 1 0 4.8 0a2.4 2.85 0 1 0 -4.8 0zM697.72 569.36a2.4 2.85 0 1 0 4.8 0a2.4 2.85 0 1 0 -4.8 0zM699.98 569.36a2.4 2.85 0 1 0 4.8 0a2.4 2.85 0 1 0 -4.8 0zM702.24 569.36a2.4 2.85 0 1 0 4.8 0a2.4 2.85 0 1 0 -4.8 0zM704.5 569.36a2.4 2.85 0 1 0 4.8 0a2.4 2.85 0 1 0 -4.8 0zM706.75 569.36a2.4 2.85 0 1 0 4.8 0a2.4 2.85 0 1 0 -4.8 0zM709.01 569.36a2.4 2.85 0 1 0 4.8 0a2.4 2.85 0 1 0 -4.8 0zM711.27 569.36a2.4 2.85 0 1 0 4.8 0a2.4 2.85 0 1 0 -4.8 0zM713.53 569.36a2.4 2.85 0 1 0 4.8 0a2.4 2.85 0 1 0 -4.8 0zM715.78 569.36a2.4 2.85 0 1 0 4.8 0a2.4 2.85 0 1 0 -4.8 0zM718.04 569.36a2.4 2.85 0 1 0 4.8 0a2.4 2.85 0 1 0 -4.8 0zM720.3 569.36a2.4 2.85 0 1 0 4.8 0a2.4 2.85 0 1 0 -4.8 0zM722.56 569.36a2.4 2.85 0 1 0 4.8 0a2.4 2.85 0 1 0 -4.8 0zM724.81 569.36a2.4 2.85 0 1 0 4.8 0a2.4 2.85 0 1 0 -4.8 0zM727.07 569.36a2.4 2.85 0 1 0 4.8 0a2.4 2.85 0 1 0 -4.8 0zM729.33 569.36a2.4 2.85 0 1 0 4.8 0a2.4 2.85 0 1 0 -4.8 0zM731.59 569.36a2.4 2.85 0 1 0 4.8 0a2.4 2.85 0 1 0 -4.8 0zM733.84 569.36a2.4 2.85 0 1 0 4.8 0a2.4 2.85 0 1 0 -4.8 0zM736.1 569.36a2.4 2.85 0 1 0 4.8 0a2.4 2.85 0 1 0 -4.8 0zM738.36 569.36a2.4 2.85 0 1 0 4.8 0a2.4 2.85 0 1 0 -4.8 0zM740.62 569.36a2.4 2.85 0 1 0 4.8 0a2.4 2.85 0 1 0 -4.8 0zM742.87 569.36a2.4 2.85 0 1 0 4.8 0a2.4 2.85 0 1 0 -4.8 0zM745.13 569.36a2.4 2.85 0 1 0 4.8 0a2.4 2.85 0 1 0 -4.8 0zM747.39 569.36a2.4 2.85 0 1 0 4.8 0a2.4 2.85 0 1 0 -4.8 0zM749.65 569.36a2.4 2.85 0 1 0 4.8 0a2.4 2.85 0 1 0 -4.8 0zM751.9 569.36a2.4 2.85 0 1 0 4.8 0a2.4 2.85 0 1 0 -4.8 0zM754.16 569.36a2.4 2.85 0 1 0 4.8 0a2.4 2.85 0 1 0 -4.8 0zM756.42 569.36a2.4 2.85 0 1 0 4.8 0a2.4 2.85 0 1 0 -4.8 0zM758.68 569.36a2.4 2.85 0 1 0 4.8 0a2.4 2.85 0 1 0 -4.8 0zM760.94 569.36a2.4 2.85 0 1 0 4.8 0a2.4 2.85 0 1 0 -4.8 0zM763.19 569.36a2.4 2.85 0 1 0 4.8 0a2.4 2.85 0 1 0 -4.8 0zM765.45 569.36a2.4 2.85 0 1 0 4.8 0a2.4 2.85 0 1 0 -4.8 0zM767.71 569.36a2.4 2.85 0 1 0 4.8 0a2.4 2.85 0 1 0 -4.8 0zM769.97 569.36a2.4 2.85 0 1 0 4.8 0a2.4 2.85 0 1 0 -4.8 0zM772.22 569.36a2.4 2.85 0 1 0 4.8 0a2.4 2.85 0 1 0 -4.8 0zM774.48 569.36a2.4 2.85 0 1 0 4.8 0a2.4 2.85 0 1 0 -4.8 0zM776.74 569.36a2.4 2.85 0 1 0 4.8 0a2.4 2.85 0 1 0 -4.8 0zM779 569.36a2.4 2.85 0 1 0 4.8 0a2.4 2.85 0 1 0 -4.8 0zM781.25 569.36a2.4 2.85 0 1 0 4.8 0a2.4 2.85 0 1 0 -4.8 0zM783.51 569.36a2.4 2.85 0 1 0 4.8 0a2.4 2.85 0 1 0 -4.8 0zM785.77 569.36a2.4 2.85 0 1 0 4.8 0a2.4 2.85 0 1 0 -4.8 0zM788.03 569.36a2.4 2.85 0 1 0 4.8 0a2.4 2.85 0 1 0 -4.8 0zM790.28 569.36a2.4 2.85 0 1 0 4.8 0a2.4 2.85 0 1 0 -4.8 0zM792.54 569.36a2.4 2.85 0 1 0 4.8 0a2.4 2.85 0 1 0 -4.8 0zM794.8 569.36a2.4 2.85 0 1 0 4.8 0a2.4 2.85 0 1 0 -4.8 0zM797.06 569.36a2.4 2.85 0 1 0 4.8 0a2.4 2.85 0 1 0 -4.8 0zM799.31 569.36a2.4 2.85 0 1 0 4.8 0a2.4 2.85 0 1 0 -4.8 0zM801.57 569.36a2.4 2.85 0 1 0 4.8 0a2.4 2.85 0 1 0 -4.8 0zM803.83 569.36a2.4 2.85 0 1 0 4.8 0a2.4 2.85 0 1 0 -4.8 0zM806.09 569.36a2.4 2.85 0 1 0 4.8 0a2.4 2.85 0 1 0 -4.8 0zM808.34 569.36a2.4 2.85 0 1 0 4.8 0a2.4 2.85 0 1 0 -4.8 0zM810.6 569.36a2.4 2.85 0 1 0 4.8 0a2.4 2.85 0 1 0 -4.8 0zM812.86 569.36a2.4 2.85 0 1 0 4.8 0a2.4 2.85 0 1 0 -4.8 0z" stroke="#0000ff" stroke-width="0.52" fill="none"/>
<path clip-path="url(#c10)" d="M587.4 434.1h4.2v4.4h-4.2zM589.66 439.27h4.2v4.4h-4.2zM591.92 443.78h4.2v4.4h-4.2zM594.17 448.29h4.2v4.4h-4.2zM596.43 452.66h4.2v4.4h-4.2zM598.69 457.04h4.2v4.4h-4.2zM600.95 461.35h4.2v4.4h-4.2zM603.2 465.66h4.2v4.4h-4.2zM605.46 469.84h4.2v4.4h-4.2zM607.72 474.01h4.2v4.4h-4.2zM609.98 477.99h4.2v4.4h-4.2zM612.23 481.97h4.2v4.4h-4.2zM614.49 486.41h4.2v4.4h-4.2zM616.75 490.85h4.2v4.4h-4.2zM619.01 495.39h4.2v4.4h-4.2zM621.26 499.94h4.2v4.4h-4.2zM623.52 504.48h4.2v4.4h-4.2zM625.78 509.02h4.2v4.4h-4.2zM628.04 513.61h4.2v4.4h-4.2zM630.29 518.19h4.2v4.4h-4.2zM632.55 522.78h4.2v4.4h-4.2zM634.81 527.37h4.2v4.4h-4.2zM637.07 531.96h4.2v4.4h-4.2zM637.07 567.16h4.2v4.4h-4.2zM639.32 567.16h4.2v4.4h-4.2zM641.58 567.16h4.2v4.4h-4.2zM643.84 567.16h4.2v4.4h-4.2zM646.1 567.16h4.2v4.4h-4.2zM648.36 567.16h4.2v4.4h-4.2zM650.61 567.16h4.2v4.4h-4.2zM652.87 567.16h4.2v4.4h-4.2zM655.13 567.16h4.2v4.4h-4.2zM657.39 567.16h4.2v4.4h-4.2zM659.64 567.16h4.2v4.4h-4.2zM661.9 567.16h4.2v4.4h-4.2zM664.16 567.16h4.2v4.4h-4.2zM666.42 567.16h4.2v4.4h-4.2zM668.67 567.16h4.2v4.4h-4.2zM670.93 567.16h4.2v4.4h-4.2zM673.19 567.16h4.2v4.4h-4.2zM675.45 567.16h4.2v4.4h-4.2zM677.7 567.16h4.2v4.4h-4.2zM679.96 567.16h4.2v4.4h-4.2zM682.22 567.16h4.2v4.4h-4.2zM684.48 567.16h4.2v4.4h-4.2zM686.73 567.16h4.2v4.4h-4.2zM688.99 567.16h4.2v4.4h-4.2zM691.25 567.16h4.2v4.4h-4.2zM693.51 567.16h4.2v4.4h-4.2zM695.76 567.16h4.2v4.4h-4.2zM698.02 567.16h4.2v4.4h-4.2zM700.28 567.16h4.2v4.4h-4.2zM702.54 567.16h4.2v4.4h-4.2zM704.8 567.16h4.2v4.4h-4.2zM707.05 567.16h4.2v4.4h-4.2zM709.31 567.16h4.2v4.4h-4.2zM711.57 567.16h4.2v4.4h-4.2zM713.83 567.16h4.2v4.4h-4.2zM716.08 567.16h4.2v4.4h-4.2zM718.34 567.16h4.2v4.4h-4.2zM720.6 567.16h4.2v4.4h-4.2zM722.86 567.16h4.2v4.4h-4.2zM725.11 567.16h4.2v4.4h-4.2zM727.37 567.16h4.2v4.4h-4.2zM729.63 567.16h4.2v4.4h-4.2zM731.89 567.16h4.2v4.4h-4.2zM734.14 567.16h4.2v4.4h-4.2zM736.4 567.16h4.2v4.4h-4.2zM738.66 567.16h4.2v4.4h-4.2zM740.92 567.16h4.2v4.4h-4.2zM743.17 567.16h4.2v4.4h-4.2zM745.43 567.16h4.2v4.4h-4.2zM747.69 567.16h4.2v4.4h-4.2zM749.95 567.16h4.2v4.4h-4.2zM752.2 567.16h4.2v4.4h-4.2zM754.46 567.16h4.2v4.4h-4.2zM756.72 567.16h4.2v4.4h-4.2zM758.98 567.16h4.2v4.4h-4.2zM761.24 567.16h4.2v4.4h-4.2zM763.49 567.16h4.2v4.4h-4.2zM765.75 567.16h4.2v4.4h-4.2zM768.01 567.16h4.2v4.4h-4.2zM770.27 567.16h4.2v4.4h-4.2zM772.52 567.16h4.2v4.4h-4.2zM774.78 567.16h4.2v4.4h-4.2zM777.04 567.16h4.2v4.4h-4.2zM779.3 567.16h4.2v4.4h-4.2zM781.55 567.16h4.2v4.4h-4.2zM783.81 567.16h4.2v4.4h-4.2zM786.07 567.16h4.2v4.4h-4.2zM788.33 567.16h4.2v4.4h-4.2zM790.58 567.16h4.2v4.4h-4.2zM792.84 567.16h4.2v4.4h-4.2zM795.1 567.16h4.2v4.4h-4.2zM797.36 567.16h4.2v4.4h-4.2zM799.61 567.16h4.2v4.4h-4.2zM801.87 567.16h4.2v4.4h-4.2zM804.13 567.16h4.2v4.4h-4.2zM806.39 567.16h4.2v4.4h-4.2zM808.64 567.16h4.2v4.4h-4.2zM810.9 567.16h4.2v4.4h-4.2zM813.16 567.16h4.2v4.4h-4.2z" stroke="#ff0000" stroke-width="0.52" fill="none"/>
</svg>
</body></html>
